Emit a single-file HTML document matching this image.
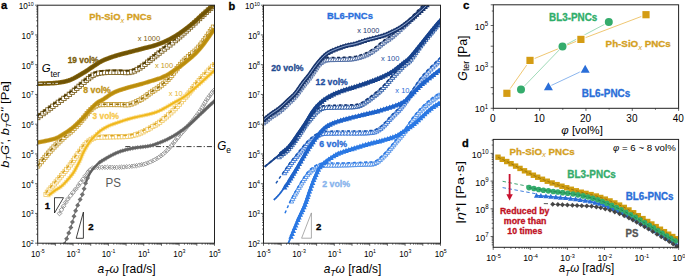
<!DOCTYPE html>
<html><head><meta charset="utf-8"><style>html,body{margin:0;padding:0;background:#fff;}svg{display:block;}</style></head><body>
<svg width="685" height="277" viewBox="0 0 685 277" font-family='"Liberation Sans", sans-serif'>
<rect width="685" height="277" fill="#fff"/>
<defs><clipPath id="clipa"><rect x="37.7" y="5.2" width="176.8" height="238"/></clipPath><clipPath id="clipb"><rect x="263.5" y="5.2" width="177" height="238"/></clipPath><clipPath id="clipd"><rect x="493.2" y="139.4" width="185.4" height="107.9"/></clipPath></defs>
<g clip-path="url(#clipa)">
<path d="M125.3,146.6 H214.5" stroke="#222" stroke-width="0.9" stroke-dasharray="5,2,1.2,2" fill="none"/>
<path d="M89.24,168.6 L91.44,170.8 L89.24,173 L87.04,170.8 Z" fill="#fff" stroke="#7e7e7e" stroke-width="0.75" opacity="1"/>
<path d="M90.78,167.01 L92.98,169.21 L90.78,171.41 L88.58,169.21 Z" fill="#fff" stroke="#7e7e7e" stroke-width="0.75" opacity="1"/>
<path d="M92.62,165.76 L94.82,167.96 L92.62,170.16 L90.42,167.96 Z" fill="#fff" stroke="#7e7e7e" stroke-width="0.75" opacity="1"/>
<path d="M94.93,165.37 L97.13,167.57 L94.93,169.77 L92.73,167.57 Z" fill="#fff" stroke="#7e7e7e" stroke-width="0.75" opacity="1"/>
<path d="M97.43,165.23 L99.63,167.43 L97.43,169.63 L95.23,167.43 Z" fill="#fff" stroke="#7e7e7e" stroke-width="0.75" opacity="1"/>
<path d="M99.68,165.16 L101.88,167.36 L99.68,169.56 L97.48,167.36 Z" fill="#fff" stroke="#7e7e7e" stroke-width="0.75" opacity="1"/>
<path d="M102.24,165.13 L104.44,167.33 L102.24,169.53 L100.04,167.33 Z" fill="#fff" stroke="#7e7e7e" stroke-width="0.75" opacity="1"/>
<path d="M104.9,165.11 L107.1,167.31 L104.9,169.51 L102.7,167.31 Z" fill="#fff" stroke="#7e7e7e" stroke-width="0.75" opacity="1"/>
<path d="M107.43,165.11 L109.63,167.31 L107.43,169.51 L105.23,167.31 Z" fill="#fff" stroke="#7e7e7e" stroke-width="0.75" opacity="1"/>
<path d="M110,165.1 L112.2,167.3 L110,169.5 L107.8,167.3 Z" fill="#fff" stroke="#7e7e7e" stroke-width="0.75" opacity="1"/>
<path d="M112.3,165.15 L114.5,167.35 L112.3,169.55 L110.1,167.35 Z" fill="#fff" stroke="#7e7e7e" stroke-width="0.75" opacity="1"/>
<path d="M114.58,165.28 L116.78,167.48 L114.58,169.68 L112.38,167.48 Z" fill="#fff" stroke="#7e7e7e" stroke-width="0.75" opacity="1"/>
<path d="M116.82,165.26 L119.02,167.46 L116.82,169.66 L114.62,167.46 Z" fill="#fff" stroke="#7e7e7e" stroke-width="0.75" opacity="1"/>
<path d="M119.42,165.11 L121.62,167.31 L119.42,169.51 L117.22,167.31 Z" fill="#fff" stroke="#7e7e7e" stroke-width="0.75" opacity="1"/>
<path d="M121.62,164.97 L123.82,167.17 L121.62,169.37 L119.42,167.17 Z" fill="#fff" stroke="#7e7e7e" stroke-width="0.75" opacity="1"/>
<path d="M124.07,164.79 L126.27,166.99 L124.07,169.19 L121.87,166.99 Z" fill="#fff" stroke="#7e7e7e" stroke-width="0.75" opacity="1"/>
<path d="M126.68,164.58 L128.88,166.78 L126.68,168.98 L124.48,166.78 Z" fill="#fff" stroke="#7e7e7e" stroke-width="0.75" opacity="1"/>
<path d="M129.34,164.34 L131.54,166.54 L129.34,168.74 L127.14,166.54 Z" fill="#fff" stroke="#7e7e7e" stroke-width="0.75" opacity="1"/>
<path d="M131.95,164.06 L134.15,166.26 L131.95,168.46 L129.75,166.26 Z" fill="#fff" stroke="#7e7e7e" stroke-width="0.75" opacity="1"/>
<path d="M134.41,163.76 L136.61,165.96 L134.41,168.16 L132.21,165.96 Z" fill="#fff" stroke="#7e7e7e" stroke-width="0.75" opacity="1"/>
<path d="M136.63,163.41 L138.83,165.61 L136.63,167.81 L134.43,165.61 Z" fill="#fff" stroke="#7e7e7e" stroke-width="0.75" opacity="1"/>
<path d="M139.13,163 L141.33,165.2 L139.13,167.4 L136.93,165.2 Z" fill="#fff" stroke="#7e7e7e" stroke-width="0.75" opacity="1"/>
<path d="M141.46,162.58 L143.66,164.78 L141.46,166.98 L139.26,164.78 Z" fill="#fff" stroke="#7e7e7e" stroke-width="0.75" opacity="1"/>
<path d="M143.68,162.09 L145.88,164.29 L143.68,166.49 L141.48,164.29 Z" fill="#fff" stroke="#7e7e7e" stroke-width="0.75" opacity="1"/>
<path d="M145.88,161.48 L148.08,163.68 L145.88,165.88 L143.68,163.68 Z" fill="#fff" stroke="#7e7e7e" stroke-width="0.75" opacity="1"/>
<path d="M148.12,160.7 L150.32,162.9 L148.12,165.1 L145.92,162.9 Z" fill="#fff" stroke="#7e7e7e" stroke-width="0.75" opacity="1"/>
<path d="M150.48,159.68 L152.68,161.88 L150.48,164.08 L148.28,161.88 Z" fill="#fff" stroke="#7e7e7e" stroke-width="0.75" opacity="1"/>
<path d="M152.93,158.49 L155.13,160.69 L152.93,162.89 L150.73,160.69 Z" fill="#fff" stroke="#7e7e7e" stroke-width="0.75" opacity="1"/>
<path d="M154.92,157.44 L157.12,159.64 L154.92,161.84 L152.72,159.64 Z" fill="#fff" stroke="#7e7e7e" stroke-width="0.75" opacity="1"/>
<path d="M156.93,156.28 L159.13,158.48 L156.93,160.68 L154.73,158.48 Z" fill="#fff" stroke="#7e7e7e" stroke-width="0.75" opacity="1"/>
<path d="M158.95,155 L161.15,157.2 L158.95,159.4 L156.75,157.2 Z" fill="#fff" stroke="#7e7e7e" stroke-width="0.75" opacity="1"/>
<path d="M160.97,153.58 L163.17,155.78 L160.97,157.98 L158.77,155.78 Z" fill="#fff" stroke="#7e7e7e" stroke-width="0.75" opacity="1"/>
<path d="M162.99,152.02 L165.19,154.22 L162.99,156.42 L160.79,154.22 Z" fill="#fff" stroke="#7e7e7e" stroke-width="0.75" opacity="1"/>
<path d="M165,150.3 L167.2,152.5 L165,154.7 L162.8,152.5 Z" fill="#fff" stroke="#7e7e7e" stroke-width="0.75" opacity="1"/>
<path d="M167.06,148.29 L169.26,150.49 L167.06,152.69 L164.86,150.49 Z" fill="#fff" stroke="#7e7e7e" stroke-width="0.75" opacity="1"/>
<path d="M168.67,146.56 L170.87,148.76 L168.67,150.96 L166.47,148.76 Z" fill="#fff" stroke="#7e7e7e" stroke-width="0.75" opacity="1"/>
<path d="M170.3,144.7 L172.5,146.9 L170.3,149.1 L168.1,146.9 Z" fill="#fff" stroke="#7e7e7e" stroke-width="0.75" opacity="1"/>
<path d="M171.93,142.76 L174.13,144.96 L171.93,147.16 L169.73,144.96 Z" fill="#fff" stroke="#7e7e7e" stroke-width="0.75" opacity="1"/>
<path d="M173.53,140.79 L175.73,142.99 L173.53,145.19 L171.33,142.99 Z" fill="#fff" stroke="#7e7e7e" stroke-width="0.75" opacity="1"/>
<path d="M175.09,138.85 L177.29,141.05 L175.09,143.25 L172.89,141.05 Z" fill="#fff" stroke="#7e7e7e" stroke-width="0.75" opacity="1"/>
<path d="M176.57,136.99 L178.77,139.19 L176.57,141.39 L174.37,139.19 Z" fill="#fff" stroke="#7e7e7e" stroke-width="0.75" opacity="1"/>
<path d="M177.96,135.26 L180.16,137.46 L177.96,139.66 L175.76,137.46 Z" fill="#fff" stroke="#7e7e7e" stroke-width="0.75" opacity="1"/>
<path d="M179.62,133.24 L181.82,135.44 L179.62,137.64 L177.42,135.44 Z" fill="#fff" stroke="#7e7e7e" stroke-width="0.75" opacity="1"/>
<path d="M181.33,131.26 L183.53,133.46 L181.33,135.66 L179.13,133.46 Z" fill="#fff" stroke="#7e7e7e" stroke-width="0.75" opacity="1"/>
<path d="M182.93,129.43 L185.13,131.63 L182.93,133.83 L180.73,131.63 Z" fill="#fff" stroke="#7e7e7e" stroke-width="0.75" opacity="1"/>
<path d="M184.39,127.76 L186.59,129.96 L184.39,132.16 L182.19,129.96 Z" fill="#fff" stroke="#7e7e7e" stroke-width="0.75" opacity="1"/>
<path d="M185.93,126.02 L188.13,128.22 L185.93,130.42 L183.73,128.22 Z" fill="#fff" stroke="#7e7e7e" stroke-width="0.75" opacity="1"/>
<path d="M187.47,124.27 L189.67,126.47 L187.47,128.67 L185.27,126.47 Z" fill="#fff" stroke="#7e7e7e" stroke-width="0.75" opacity="1"/>
<path d="M189.13,122.4 L191.33,124.6 L189.13,126.8 L186.93,124.6 Z" fill="#fff" stroke="#7e7e7e" stroke-width="0.75" opacity="1"/>
<path d="M190.8,120.53 L193,122.73 L190.8,124.93 L188.6,122.73 Z" fill="#fff" stroke="#7e7e7e" stroke-width="0.75" opacity="1"/>
<path d="M192.44,118.67 L194.64,120.87 L192.44,123.07 L190.24,120.87 Z" fill="#fff" stroke="#7e7e7e" stroke-width="0.75" opacity="1"/>
<path d="M194,116.8 L196.2,119 L194,121.2 L191.8,119 Z" fill="#fff" stroke="#7e7e7e" stroke-width="0.75" opacity="1"/>
<path d="M195.47,114.98 L197.67,117.18 L195.47,119.38 L193.27,117.18 Z" fill="#fff" stroke="#7e7e7e" stroke-width="0.75" opacity="1"/>
<path d="M196.87,113.18 L199.07,115.38 L196.87,117.58 L194.67,115.38 Z" fill="#fff" stroke="#7e7e7e" stroke-width="0.75" opacity="1"/>
<path d="M198.23,111.35 L200.43,113.55 L198.23,115.75 L196.03,113.55 Z" fill="#fff" stroke="#7e7e7e" stroke-width="0.75" opacity="1"/>
<path d="M199.6,109.39 L201.8,111.59 L199.6,113.79 L197.4,111.59 Z" fill="#fff" stroke="#7e7e7e" stroke-width="0.75" opacity="1"/>
<path d="M200.81,107.54 L203.01,109.74 L200.81,111.94 L198.61,109.74 Z" fill="#fff" stroke="#7e7e7e" stroke-width="0.75" opacity="1"/>
<path d="M202.04,105.5 L204.24,107.7 L202.04,109.9 L199.84,107.7 Z" fill="#fff" stroke="#7e7e7e" stroke-width="0.75" opacity="1"/>
<path d="M203.27,103.38 L205.47,105.58 L203.27,107.78 L201.07,105.58 Z" fill="#fff" stroke="#7e7e7e" stroke-width="0.75" opacity="1"/>
<path d="M204.47,101.3 L206.67,103.5 L204.47,105.7 L202.27,103.5 Z" fill="#fff" stroke="#7e7e7e" stroke-width="0.75" opacity="1"/>
<path d="M205.63,99.38 L207.83,101.58 L205.63,103.78 L203.43,101.58 Z" fill="#fff" stroke="#7e7e7e" stroke-width="0.75" opacity="1"/>
<path d="M206.91,97.43 L209.11,99.63 L206.91,101.83 L204.71,99.63 Z" fill="#fff" stroke="#7e7e7e" stroke-width="0.75" opacity="1"/>
<path d="M208.32,95.42 L210.52,97.62 L208.32,99.82 L206.12,97.62 Z" fill="#fff" stroke="#7e7e7e" stroke-width="0.75" opacity="1"/>
<path d="M209.64,93.62 L211.84,95.82 L209.64,98.02 L207.44,95.82 Z" fill="#fff" stroke="#7e7e7e" stroke-width="0.75" opacity="1"/>
<path d="M211,91.8 L213.2,94 L211,96.2 L208.8,94 Z" fill="#fff" stroke="#7e7e7e" stroke-width="0.75" opacity="1"/>
<path d="M212.41,89.95 L214.61,92.15 L212.41,94.35 L210.21,92.15 Z" fill="#fff" stroke="#7e7e7e" stroke-width="0.75" opacity="1"/>
<path d="M213.86,88.11 L216.06,90.31 L213.86,92.51 L211.66,90.31 Z" fill="#fff" stroke="#7e7e7e" stroke-width="0.75" opacity="1"/>
<path d="M59.5,211.2 L61.8,213.5 L59.5,215.8 L57.2,213.5 Z" fill="#fff" stroke="#7a7a7a" stroke-width="0.8" opacity="1"/>
<path d="M61.45,207.54 L63.75,209.84 L61.45,212.14 L59.15,209.84 Z" fill="#fff" stroke="#7a7a7a" stroke-width="0.8" opacity="1"/>
<path d="M63.48,203.94 L65.78,206.24 L63.48,208.54 L61.18,206.24 Z" fill="#fff" stroke="#7a7a7a" stroke-width="0.8" opacity="1"/>
<path d="M65.65,200.17 L67.95,202.47 L65.65,204.77 L63.35,202.47 Z" fill="#fff" stroke="#7a7a7a" stroke-width="0.8" opacity="1"/>
<path d="M67.93,196.65 L70.23,198.95 L67.93,201.25 L65.63,198.95 Z" fill="#fff" stroke="#7a7a7a" stroke-width="0.8" opacity="1"/>
<path d="M70.44,193.38 L72.74,195.68 L70.44,197.98 L68.14,195.68 Z" fill="#fff" stroke="#7a7a7a" stroke-width="0.8" opacity="1"/>
<path d="M72.95,190.25 L75.25,192.55 L72.95,194.85 L70.65,192.55 Z" fill="#fff" stroke="#7a7a7a" stroke-width="0.8" opacity="1"/>
<path d="M75.57,186.97 L77.87,189.27 L75.57,191.57 L73.27,189.27 Z" fill="#fff" stroke="#7a7a7a" stroke-width="0.8" opacity="1"/>
<path d="M78.25,183.46 L80.55,185.76 L78.25,188.06 L75.95,185.76 Z" fill="#fff" stroke="#7a7a7a" stroke-width="0.8" opacity="1"/>
<path d="M80.6,180.2 L82.9,182.5 L80.6,184.8 L78.3,182.5 Z" fill="#fff" stroke="#7a7a7a" stroke-width="0.8" opacity="1"/>
<path d="M82.94,176.9 L85.24,179.2 L82.94,181.5 L80.64,179.2 Z" fill="#fff" stroke="#7a7a7a" stroke-width="0.8" opacity="1"/>
<path d="M85.52,173.32 L87.82,175.62 L85.52,177.92 L83.22,175.62 Z" fill="#fff" stroke="#7a7a7a" stroke-width="0.8" opacity="1"/>
<path d="M88.12,169.89 L90.42,172.19 L88.12,174.49 L85.82,172.19 Z" fill="#fff" stroke="#7a7a7a" stroke-width="0.8" opacity="1"/>
<path d="M59.5,213.5 L59.6,213.32 L59.7,213.12 L59.82,212.89 L59.95,212.63 L60.09,212.35 L60.26,212.04 L60.44,211.69 L60.64,211.31 L60.87,210.89 L61.12,210.44 L61.39,209.94 L61.7,209.4 L62.04,208.79 L62.43,208.11 L62.85,207.37 L63.29,206.57 L63.76,205.74 L64.25,204.88 L64.75,204.01 L65.25,203.15 L65.75,202.31 L66.25,201.49 L66.73,200.72 L67.2,200 L67.65,199.33 L68.11,198.69 L68.56,198.08 L69.01,197.49 L69.46,196.91 L69.91,196.34 L70.36,195.79 L70.8,195.24 L71.25,194.69 L71.7,194.13 L72.15,193.57 L72.6,193 L73.04,192.44 L73.46,191.91 L73.86,191.4 L74.26,190.9 L74.66,190.41 L75.07,189.9 L75.49,189.37 L75.93,188.82 L76.39,188.22 L76.89,187.58 L77.42,186.87 L78,186.1 L78.64,185.23 L79.36,184.24 L80.12,183.17 L80.93,182.04 L81.76,180.86 L82.61,179.68 L83.45,178.49 L84.27,177.34 L85.06,176.24 L85.81,175.22 L86.49,174.3 L87.1,173.5 L87.64,172.81 L88.12,172.19 L88.55,171.64 L88.94,171.16 L89.31,170.72 L89.64,170.33 L89.97,169.98 L90.28,169.67 L90.59,169.38 L90.91,169.11 L91.24,168.85 L91.6,168.6 L91.94,168.37 L92.23,168.19 L92.48,168.04 L92.72,167.92 L92.95,167.83 L93.21,167.76 L93.49,167.7 L93.83,167.66 L94.23,167.62 L94.71,167.59 L95.3,167.55 L96,167.5 L96.85,167.45 L97.85,167.41 L98.97,167.38 L100.18,167.36 L101.46,167.34 L102.78,167.33 L104.11,167.32 L105.42,167.31 L106.7,167.31 L107.9,167.31 L109.01,167.3 L110,167.3 L110.84,167.3 L111.56,167.32 L112.19,167.35 L112.74,167.38 L113.25,167.41 L113.74,167.44 L114.25,167.47 L114.81,167.49 L115.43,167.49 L116.15,167.48 L117,167.45 L118,167.4 L119.17,167.33 L120.48,167.24 L121.91,167.15 L123.44,167.04 L125.04,166.92 L126.68,166.78 L128.34,166.63 L130,166.47 L131.63,166.3 L133.21,166.11 L134.71,165.91 L136.1,165.7 L137.4,165.49 L138.65,165.28 L139.84,165.07 L141,164.86 L142.13,164.64 L143.24,164.39 L144.34,164.12 L145.44,163.81 L146.55,163.47 L147.67,163.07 L148.82,162.62 L150,162.1 L151.21,161.54 L152.44,160.94 L153.67,160.31 L154.92,159.64 L156.17,158.93 L157.43,158.17 L158.69,157.36 L159.96,156.51 L161.22,155.6 L162.49,154.63 L163.75,153.6 L165,152.5 L166.28,151.29 L167.59,149.93 L168.94,148.46 L170.3,146.9 L171.66,145.29 L173,143.65 L174.32,142.02 L175.59,140.42 L176.81,138.89 L177.96,137.46 L179.03,136.15 L180,135 L180.86,134 L181.63,133.12 L182.31,132.33 L182.93,131.63 L183.48,130.99 L184,130.41 L184.49,129.85 L184.96,129.31 L185.44,128.78 L185.93,128.22 L186.44,127.64 L187,127 L187.59,126.33 L188.18,125.67 L188.77,125 L189.37,124.33 L189.97,123.67 L190.56,123 L191.15,122.33 L191.74,121.67 L192.32,121 L192.89,120.33 L193.45,119.67 L194,119 L194.54,118.34 L195.06,117.69 L195.57,117.05 L196.07,116.41 L196.57,115.77 L197.06,115.12 L197.55,114.48 L198.04,113.81 L198.52,113.14 L199.01,112.45 L199.5,111.74 L200,111 L200.5,110.23 L201.01,109.41 L201.52,108.57 L202.04,107.7 L202.55,106.82 L203.06,105.94 L203.57,105.06 L204.07,104.19 L204.57,103.34 L205.06,102.52 L205.54,101.73 L206,101 L206.46,100.3 L206.91,99.63 L207.36,98.98 L207.8,98.35 L208.23,97.74 L208.66,97.16 L209.07,96.59 L209.48,96.04 L209.88,95.5 L210.27,94.99 L210.64,94.49 L211,94 L211.36,93.52 L211.71,93.05 L212.06,92.59 L212.41,92.15 L212.74,91.72 L213.06,91.31 L213.37,90.93 L213.65,90.57 L213.91,90.25 L214.14,89.96 L214.34,89.71 L214.5,89.5" fill="none" stroke="#9a9a9a" stroke-width="1.2" stroke-dasharray="3,2.5" stroke-opacity="1" stroke-linejoin="round" />
<path d="M64.5,244 L64.81,243.21 L65.2,242.23 L65.65,241.08 L66.17,239.8 L66.72,238.4 L67.31,236.91 L67.92,235.35 L68.53,233.76 L69.14,232.15 L69.73,230.56 L70.29,229 L70.8,227.5 L71.28,226.02 L71.74,224.49 L72.19,222.93 L72.63,221.35 L73.07,219.76 L73.5,218.16 L73.93,216.56 L74.37,214.98 L74.81,213.43 L75.26,211.9 L75.72,210.43 L76.2,209 L76.7,207.62 L77.23,206.26 L77.78,204.93 L78.34,203.63 L78.9,202.35 L79.47,201.09 L80.03,199.86 L80.57,198.65 L81.1,197.46 L81.6,196.29 L82.07,195.13 L82.5,194 L82.89,192.88 L83.25,191.77 L83.58,190.67 L83.89,189.59 L84.18,188.53 L84.46,187.5 L84.72,186.49 L84.97,185.52 L85.23,184.58 L85.48,183.68 L85.73,182.82 L86,182 L86.26,181.24 L86.52,180.53 L86.76,179.88 L87,179.26 L87.23,178.68 L87.47,178.12 L87.7,177.59 L87.94,177.07 L88.19,176.56 L88.45,176.05 L88.72,175.53 L89,175 L89.29,174.47 L89.58,173.95 L89.87,173.45 L90.16,172.95 L90.46,172.46 L90.77,171.98 L91.09,171.5 L91.43,171.01 L91.79,170.53 L92.17,170.03 L92.57,169.52 L93,169 L93.46,168.46 L93.93,167.91 L94.42,167.35 L94.94,166.78 L95.47,166.2 L96.02,165.62 L96.59,165.05 L97.17,164.48 L97.78,163.91 L98.4,163.36 L99.04,162.82 L99.7,162.3 L100.38,161.79 L101.1,161.29 L101.85,160.79 L102.62,160.31 L103.41,159.83 L104.21,159.36 L105.01,158.89 L105.83,158.44 L106.64,157.99 L107.44,157.55 L108.23,157.12 L109,156.7 L109.76,156.29 L110.52,155.88 L111.27,155.48 L112.02,155.09 L112.77,154.7 L113.51,154.33 L114.26,153.96 L115,153.6 L115.75,153.26 L116.5,152.93 L117.25,152.61 L118,152.3 L118.76,152.01 L119.51,151.73 L120.27,151.46 L121.03,151.21 L121.79,150.97 L122.55,150.74 L123.31,150.51 L124.07,150.3 L124.83,150.09 L125.59,149.89 L126.34,149.69 L127.1,149.5 L127.84,149.32 L128.55,149.14 L129.24,148.98 L129.93,148.83 L130.61,148.68 L131.3,148.54 L132.01,148.41 L132.74,148.27 L133.51,148.13 L134.32,147.99 L135.18,147.85 L136.1,147.7 L137.1,147.55 L138.18,147.41 L139.32,147.26 L140.51,147.13 L141.74,146.99 L142.99,146.84 L144.24,146.7 L145.47,146.54 L146.68,146.38 L147.85,146.2 L148.96,146.01 L150,145.8 L150.97,145.58 L151.91,145.34 L152.8,145.09 L153.66,144.83 L154.5,144.56 L155.31,144.28 L156.11,144 L156.89,143.7 L157.67,143.41 L158.44,143.11 L159.22,142.8 L160,142.5 L160.78,142.2 L161.53,141.9 L162.27,141.6 L163,141.29 L163.73,140.98 L164.44,140.67 L165.16,140.34 L165.89,140.01 L166.62,139.66 L167.36,139.29 L168.12,138.91 L168.9,138.5 L169.7,138.08 L170.5,137.64 L171.32,137.2 L172.14,136.74 L172.98,136.27 L173.82,135.78 L174.67,135.28 L175.52,134.76 L176.38,134.22 L177.25,133.67 L178.12,133.09 L179,132.5 L179.89,131.88 L180.79,131.24 L181.71,130.57 L182.64,129.89 L183.57,129.19 L184.51,128.47 L185.44,127.74 L186.37,127 L187.3,126.25 L188.21,125.5 L189.12,124.75 L190,124 L190.87,123.24 L191.74,122.46 L192.61,121.66 L193.46,120.85 L194.31,120.04 L195.16,119.22 L195.99,118.4 L196.81,117.59 L197.63,116.79 L198.43,116.01 L199.22,115.24 L200,114.5 L200.77,113.77 L201.53,113.05 L202.29,112.34 L203.04,111.63 L203.77,110.93 L204.5,110.25 L205.21,109.58 L205.91,108.93 L206.59,108.29 L207.25,107.67 L207.88,107.07 L208.5,106.5 L209.11,105.94 L209.71,105.38 L210.32,104.82 L210.91,104.28 L211.48,103.75 L212.03,103.25 L212.55,102.78 L213.04,102.33 L213.48,101.93 L213.88,101.57 L214.22,101.26 L214.5,101" fill="none" stroke="#5a5a5a" stroke-width="1.0" stroke-opacity="1" stroke-linejoin="round" />
<path d="M99.7,159.9 L102.1,162.3 L99.7,164.7 L97.3,162.3 Z" fill="#8e8e8e" stroke="none" stroke-width="0.6" opacity="1"/>
<path d="M101.82,158.59 L104.22,160.99 L101.82,163.39 L99.42,160.99 Z" fill="#8e8e8e" stroke="none" stroke-width="0.6" opacity="1"/>
<path d="M104.14,157.16 L106.54,159.56 L104.14,161.96 L101.74,159.56 Z" fill="#8e8e8e" stroke="none" stroke-width="0.6" opacity="1"/>
<path d="M106.3,155.85 L108.7,158.25 L106.3,160.65 L103.9,158.25 Z" fill="#8e8e8e" stroke="none" stroke-width="0.6" opacity="1"/>
<path d="M108.69,154.47 L111.09,156.87 L108.69,159.27 L106.29,156.87 Z" fill="#8e8e8e" stroke="none" stroke-width="0.6" opacity="1"/>
<path d="M110.82,153.32 L113.22,155.72 L110.82,158.12 L108.42,155.72 Z" fill="#8e8e8e" stroke="none" stroke-width="0.6" opacity="1"/>
<path d="M113.21,152.07 L115.61,154.47 L113.21,156.87 L110.81,154.47 Z" fill="#8e8e8e" stroke="none" stroke-width="0.6" opacity="1"/>
<path d="M115.6,150.93 L118,153.33 L115.6,155.73 L113.2,153.33 Z" fill="#8e8e8e" stroke="none" stroke-width="0.6" opacity="1"/>
<path d="M118,149.9 L120.4,152.3 L118,154.7 L115.6,152.3 Z" fill="#8e8e8e" stroke="none" stroke-width="0.6" opacity="1"/>
<path d="M120.42,149.01 L122.82,151.41 L120.42,153.81 L118.02,151.41 Z" fill="#8e8e8e" stroke="none" stroke-width="0.6" opacity="1"/>
<path d="M122.85,148.25 L125.25,150.65 L122.85,153.05 L120.45,150.65 Z" fill="#8e8e8e" stroke="none" stroke-width="0.6" opacity="1"/>
<path d="M125.28,147.57 L127.68,149.97 L125.28,152.37 L122.88,149.97 Z" fill="#8e8e8e" stroke="none" stroke-width="0.6" opacity="1"/>
<path d="M127.69,146.95 L130.09,149.35 L127.69,151.75 L125.29,149.35 Z" fill="#8e8e8e" stroke="none" stroke-width="0.6" opacity="1"/>
<path d="M130.2,146.37 L132.6,148.77 L130.2,151.17 L127.8,148.77 Z" fill="#8e8e8e" stroke="none" stroke-width="0.6" opacity="1"/>
<path d="M132.74,145.87 L135.14,148.27 L132.74,150.67 L130.34,148.27 Z" fill="#8e8e8e" stroke="none" stroke-width="0.6" opacity="1"/>
<path d="M135.36,145.42 L137.76,147.82 L135.36,150.22 L132.96,147.82 Z" fill="#8e8e8e" stroke="none" stroke-width="0.6" opacity="1"/>
<path d="M137.74,145.06 L140.14,147.46 L137.74,149.86 L135.34,147.46 Z" fill="#8e8e8e" stroke="none" stroke-width="0.6" opacity="1"/>
<path d="M140.51,144.73 L142.91,147.13 L140.51,149.53 L138.11,147.13 Z" fill="#8e8e8e" stroke="none" stroke-width="0.6" opacity="1"/>
<path d="M142.99,144.44 L145.39,146.84 L142.99,149.24 L140.59,146.84 Z" fill="#8e8e8e" stroke="none" stroke-width="0.6" opacity="1"/>
<path d="M145.47,144.14 L147.87,146.54 L145.47,148.94 L143.07,146.54 Z" fill="#8e8e8e" stroke="none" stroke-width="0.6" opacity="1"/>
<path d="M147.85,143.8 L150.25,146.2 L147.85,148.6 L145.45,146.2 Z" fill="#8e8e8e" stroke="none" stroke-width="0.6" opacity="1"/>
<path d="M150.39,143.31 L152.79,145.71 L150.39,148.11 L147.99,145.71 Z" fill="#8e8e8e" stroke="none" stroke-width="0.6" opacity="1"/>
<path d="M152.97,142.64 L155.37,145.04 L152.97,147.44 L150.57,145.04 Z" fill="#8e8e8e" stroke="none" stroke-width="0.6" opacity="1"/>
<path d="M155.31,141.88 L157.71,144.28 L155.31,146.68 L152.91,144.28 Z" fill="#8e8e8e" stroke="none" stroke-width="0.6" opacity="1"/>
<path d="M157.82,140.95 L160.22,143.35 L157.82,145.75 L155.42,143.35 Z" fill="#8e8e8e" stroke="none" stroke-width="0.6" opacity="1"/>
<path d="M160.31,139.98 L162.71,142.38 L160.31,144.78 L157.91,142.38 Z" fill="#8e8e8e" stroke="none" stroke-width="0.6" opacity="1"/>
<path d="M162.71,139.01 L165.11,141.41 L162.71,143.81 L160.31,141.41 Z" fill="#8e8e8e" stroke="none" stroke-width="0.6" opacity="1"/>
<path d="M165.02,138.01 L167.42,140.41 L165.02,142.81 L162.62,140.41 Z" fill="#8e8e8e" stroke="none" stroke-width="0.6" opacity="1"/>
<path d="M167.36,136.89 L169.76,139.29 L167.36,141.69 L164.96,139.29 Z" fill="#8e8e8e" stroke="none" stroke-width="0.6" opacity="1"/>
<path d="M169.54,135.76 L171.94,138.16 L169.54,140.56 L167.14,138.16 Z" fill="#8e8e8e" stroke="none" stroke-width="0.6" opacity="1"/>
<path d="M171.81,134.53 L174.21,136.93 L171.81,139.33 L169.41,136.93 Z" fill="#8e8e8e" stroke="none" stroke-width="0.6" opacity="1"/>
<path d="M174.16,133.18 L176.56,135.58 L174.16,137.98 L171.76,135.58 Z" fill="#8e8e8e" stroke="none" stroke-width="0.6" opacity="1"/>
<path d="M176.21,131.93 L178.61,134.33 L176.21,136.73 L173.81,134.33 Z" fill="#8e8e8e" stroke="none" stroke-width="0.6" opacity="1"/>
<path d="M178.3,130.58 L180.7,132.98 L178.3,135.38 L175.9,132.98 Z" fill="#8e8e8e" stroke="none" stroke-width="0.6" opacity="1"/>
<path d="M180.43,129.1 L182.83,131.5 L180.43,133.9 L178.03,131.5 Z" fill="#8e8e8e" stroke="none" stroke-width="0.6" opacity="1"/>
<path d="M182.64,127.49 L185.04,129.89 L182.64,132.29 L180.24,129.89 Z" fill="#8e8e8e" stroke="none" stroke-width="0.6" opacity="1"/>
<path d="M184.88,125.78 L187.28,128.18 L184.88,130.58 L182.48,128.18 Z" fill="#8e8e8e" stroke="none" stroke-width="0.6" opacity="1"/>
<path d="M187.11,124 L189.51,126.4 L187.11,128.8 L184.71,126.4 Z" fill="#8e8e8e" stroke="none" stroke-width="0.6" opacity="1"/>
<path d="M189.29,122.2 L191.69,124.6 L189.29,127 L186.89,124.6 Z" fill="#8e8e8e" stroke="none" stroke-width="0.6" opacity="1"/>
<path d="M191.39,120.37 L193.79,122.77 L191.39,125.17 L188.99,122.77 Z" fill="#8e8e8e" stroke="none" stroke-width="0.6" opacity="1"/>
<path d="M193.46,118.45 L195.86,120.85 L193.46,123.25 L191.06,120.85 Z" fill="#8e8e8e" stroke="none" stroke-width="0.6" opacity="1"/>
<path d="M195.49,116.49 L197.89,118.89 L195.49,121.29 L193.09,118.89 Z" fill="#8e8e8e" stroke="none" stroke-width="0.6" opacity="1"/>
<path d="M197.47,114.55 L199.87,116.95 L197.47,119.35 L195.07,116.95 Z" fill="#8e8e8e" stroke="none" stroke-width="0.6" opacity="1"/>
<path d="M199.38,112.69 L201.78,115.09 L199.38,117.49 L196.98,115.09 Z" fill="#8e8e8e" stroke="none" stroke-width="0.6" opacity="1"/>
<path d="M201.23,110.94 L203.63,113.34 L201.23,115.74 L198.83,113.34 Z" fill="#8e8e8e" stroke="none" stroke-width="0.6" opacity="1"/>
<path d="M203.04,109.23 L205.44,111.63 L203.04,114.03 L200.64,111.63 Z" fill="#8e8e8e" stroke="none" stroke-width="0.6" opacity="1"/>
<path d="M204.79,107.58 L207.19,109.98 L204.79,112.38 L202.39,109.98 Z" fill="#8e8e8e" stroke="none" stroke-width="0.6" opacity="1"/>
<path d="M206.72,105.76 L209.12,108.16 L206.72,110.56 L204.32,108.16 Z" fill="#8e8e8e" stroke="none" stroke-width="0.6" opacity="1"/>
<path d="M208.5,104.1 L210.9,106.5 L208.5,108.9 L206.1,106.5 Z" fill="#8e8e8e" stroke="none" stroke-width="0.6" opacity="1"/>
<path d="M210.44,102.31 L212.84,104.71 L210.44,107.11 L208.04,104.71 Z" fill="#8e8e8e" stroke="none" stroke-width="0.6" opacity="1"/>
<path d="M212.24,100.66 L214.64,103.06 L212.24,105.46 L209.84,103.06 Z" fill="#8e8e8e" stroke="none" stroke-width="0.6" opacity="1"/>
<path d="M214.02,99.04 L216.42,101.44 L214.02,103.84 L211.62,101.44 Z" fill="#8e8e8e" stroke="none" stroke-width="0.6" opacity="1"/>
<path d="M86,182 L86.14,181.66 L86.31,181.23 L86.52,180.72 L86.74,180.15 L86.99,179.53 L87.25,178.88 L87.53,178.2 L87.81,177.52 L88.11,176.84 L88.41,176.19 L88.71,175.57 L89,175 L89.29,174.47 L89.58,173.95 L89.87,173.45 L90.16,172.95 L90.46,172.46 L90.77,171.98 L91.09,171.5 L91.43,171.01 L91.79,170.53 L92.17,170.03 L92.57,169.52 L93,169 L93.46,168.46 L93.93,167.91 L94.42,167.35 L94.94,166.78 L95.47,166.2 L96.02,165.62 L96.59,165.05 L97.17,164.48 L97.78,163.91 L98.4,163.36 L99.04,162.82 L99.7,162.3 L100.38,161.79 L101.1,161.29 L101.85,160.79 L102.62,160.31 L103.41,159.83 L104.21,159.36 L105.01,158.89 L105.83,158.44 L106.64,157.99 L107.44,157.55 L108.23,157.12 L109,156.7 L109.76,156.29 L110.52,155.88 L111.27,155.48 L112.02,155.09 L112.77,154.7 L113.51,154.33 L114.26,153.96 L115,153.6 L115.75,153.26 L116.5,152.93 L117.25,152.61 L118,152.3 L118.76,152.01 L119.51,151.73 L120.27,151.46 L121.03,151.21 L121.79,150.97 L122.55,150.74 L123.31,150.51 L124.07,150.3 L124.83,150.09 L125.59,149.89 L126.34,149.69 L127.1,149.5 L127.84,149.32 L128.55,149.14 L129.24,148.98 L129.93,148.83 L130.61,148.68 L131.3,148.54 L132.01,148.41 L132.74,148.27 L133.51,148.13 L134.32,147.99 L135.18,147.85 L136.1,147.7 L137.1,147.55 L138.18,147.41 L139.32,147.26 L140.51,147.13 L141.74,146.99 L142.99,146.84 L144.24,146.7 L145.47,146.54 L146.68,146.38 L147.85,146.2 L148.96,146.01 L150,145.8 L150.97,145.58 L151.91,145.34 L152.8,145.09 L153.66,144.83 L154.5,144.56 L155.31,144.28 L156.11,144 L156.89,143.7 L157.67,143.41 L158.44,143.11 L159.22,142.8 L160,142.5 L160.78,142.2 L161.53,141.9 L162.27,141.6 L163,141.29 L163.73,140.98 L164.44,140.67 L165.16,140.34 L165.89,140.01 L166.62,139.66 L167.36,139.29 L168.12,138.91 L168.9,138.5 L169.7,138.08 L170.5,137.64 L171.32,137.2 L172.14,136.74 L172.98,136.27 L173.82,135.78 L174.67,135.28 L175.52,134.76 L176.38,134.22 L177.25,133.67 L178.12,133.09 L179,132.5 L179.89,131.88 L180.79,131.24 L181.71,130.57 L182.64,129.89 L183.57,129.19 L184.51,128.47 L185.44,127.74 L186.37,127 L187.3,126.25 L188.21,125.5 L189.12,124.75 L190,124 L190.87,123.24 L191.74,122.46 L192.61,121.66 L193.46,120.85 L194.31,120.04 L195.16,119.22 L195.99,118.4 L196.81,117.59 L197.63,116.79 L198.43,116.01 L199.22,115.24 L200,114.5 L200.77,113.77 L201.53,113.05 L202.29,112.34 L203.04,111.63 L203.77,110.93 L204.5,110.25 L205.21,109.58 L205.91,108.93 L206.59,108.29 L207.25,107.67 L207.88,107.07 L208.5,106.5 L209.11,105.94 L209.71,105.38 L210.32,104.82 L210.91,104.28 L211.48,103.75 L212.03,103.25 L212.55,102.78 L213.04,102.33 L213.48,101.93 L213.88,101.57 L214.22,101.26 L214.5,101" fill="none" stroke="#606060" stroke-width="2.4" stroke-opacity="1" stroke-linejoin="round" />
<path d="M64.5,241.5 L67,244 L64.5,246.5 L62,244 Z" fill="#707070" stroke="none" stroke-width="0.6" opacity="1"/>
<path d="M66.61,236.18 L69.11,238.68 L66.61,241.18 L64.11,238.68 Z" fill="#707070" stroke="none" stroke-width="0.6" opacity="1"/>
<path d="M68.78,230.62 L71.28,233.12 L68.78,235.62 L66.28,233.12 Z" fill="#707070" stroke="none" stroke-width="0.6" opacity="1"/>
<path d="M70.8,225 L73.3,227.5 L70.8,230 L68.3,227.5 Z" fill="#707070" stroke="none" stroke-width="0.6" opacity="1"/>
<path d="M72.46,219.49 L74.96,221.99 L72.46,224.49 L69.96,221.99 Z" fill="#707070" stroke="none" stroke-width="0.6" opacity="1"/>
<path d="M74.02,213.74 L76.52,216.24 L74.02,218.74 L71.52,216.24 Z" fill="#707070" stroke="none" stroke-width="0.6" opacity="1"/>
<path d="M75.63,208.22 L78.13,210.72 L75.63,213.22 L73.13,210.72 Z" fill="#707070" stroke="none" stroke-width="0.6" opacity="1"/>
<path d="M77.67,202.7 L80.17,205.2 L77.67,207.7 L75.17,205.2 Z" fill="#707070" stroke="none" stroke-width="0.6" opacity="1"/>
<path d="M80.14,197.12 L82.64,199.62 L80.14,202.12 L77.64,199.62 Z" fill="#707070" stroke="none" stroke-width="0.6" opacity="1"/>
<path d="M82.33,191.95 L84.83,194.45 L82.33,196.95 L79.83,194.45 Z" fill="#707070" stroke="none" stroke-width="0.6" opacity="1"/>
<path d="M84.13,186.24 L86.63,188.74 L84.13,191.24 L81.63,188.74 Z" fill="#707070" stroke="none" stroke-width="0.6" opacity="1"/>
<path d="M85.58,180.83 L88.08,183.33 L85.58,185.83 L83.08,183.33 Z" fill="#707070" stroke="none" stroke-width="0.6" opacity="1"/>
<path d="M87.56,175.41 L90.06,177.91 L87.56,180.41 L85.06,177.91 Z" fill="#707070" stroke="none" stroke-width="0.6" opacity="1"/>
<rect x="43.9" y="192.4" width="4.2" height="4.2" fill="#fff" stroke="#f0c862" stroke-width="0.8" opacity="1"/>
<rect x="45.23" y="190.14" width="4.2" height="4.2" fill="#fff" stroke="#f0c862" stroke-width="0.8" opacity="1"/>
<rect x="47" y="187.96" width="4.2" height="4.2" fill="#fff" stroke="#f0c862" stroke-width="0.8" opacity="1"/>
<rect x="48.81" y="185.86" width="4.2" height="4.2" fill="#fff" stroke="#f0c862" stroke-width="0.8" opacity="1"/>
<rect x="50.56" y="183.84" width="4.2" height="4.2" fill="#fff" stroke="#f0c862" stroke-width="0.8" opacity="1"/>
<rect x="52.36" y="181.78" width="4.2" height="4.2" fill="#fff" stroke="#f0c862" stroke-width="0.8" opacity="1"/>
<rect x="54.08" y="179.77" width="4.2" height="4.2" fill="#fff" stroke="#f0c862" stroke-width="0.8" opacity="1"/>
<rect x="55.81" y="177.74" width="4.2" height="4.2" fill="#fff" stroke="#f0c862" stroke-width="0.8" opacity="1"/>
<rect x="57.6" y="175.63" width="4.2" height="4.2" fill="#fff" stroke="#f0c862" stroke-width="0.8" opacity="1"/>
<rect x="59.38" y="173.52" width="4.2" height="4.2" fill="#fff" stroke="#f0c862" stroke-width="0.8" opacity="1"/>
<rect x="61.08" y="171.48" width="4.2" height="4.2" fill="#fff" stroke="#f0c862" stroke-width="0.8" opacity="1"/>
<rect x="62.9" y="169.3" width="4.2" height="4.2" fill="#fff" stroke="#f0c862" stroke-width="0.8" opacity="1"/>
<rect x="64.58" y="167.28" width="4.2" height="4.2" fill="#fff" stroke="#f0c862" stroke-width="0.8" opacity="1"/>
<rect x="66.37" y="165.11" width="4.2" height="4.2" fill="#fff" stroke="#f0c862" stroke-width="0.8" opacity="1"/>
<rect x="68.17" y="162.85" width="4.2" height="4.2" fill="#fff" stroke="#f0c862" stroke-width="0.8" opacity="1"/>
<rect x="69.79" y="160.65" width="4.2" height="4.2" fill="#fff" stroke="#f0c862" stroke-width="0.8" opacity="1"/>
<rect x="71.24" y="158.38" width="4.2" height="4.2" fill="#fff" stroke="#f0c862" stroke-width="0.8" opacity="1"/>
<rect x="72.7" y="156.18" width="4.2" height="4.2" fill="#fff" stroke="#f0c862" stroke-width="0.8" opacity="1"/>
<rect x="74.29" y="153.94" width="4.2" height="4.2" fill="#fff" stroke="#f0c862" stroke-width="0.8" opacity="1"/>
<rect x="75.95" y="151.62" width="4.2" height="4.2" fill="#fff" stroke="#f0c862" stroke-width="0.8" opacity="1"/>
<rect x="77.72" y="149.18" width="4.2" height="4.2" fill="#fff" stroke="#f0c862" stroke-width="0.8" opacity="1"/>
<rect x="79.46" y="146.86" width="4.2" height="4.2" fill="#fff" stroke="#f0c862" stroke-width="0.8" opacity="1"/>
<rect x="81.23" y="144.62" width="4.2" height="4.2" fill="#fff" stroke="#f0c862" stroke-width="0.8" opacity="1"/>
<rect x="82.96" y="142.64" width="4.2" height="4.2" fill="#fff" stroke="#f0c862" stroke-width="0.8" opacity="1"/>
<rect x="84.9" y="140.67" width="4.2" height="4.2" fill="#fff" stroke="#f0c862" stroke-width="0.8" opacity="1"/>
<rect x="86.9" y="138.9" width="4.2" height="4.2" fill="#fff" stroke="#f0c862" stroke-width="0.8" opacity="1"/>
<rect x="89.08" y="137.27" width="4.2" height="4.2" fill="#fff" stroke="#f0c862" stroke-width="0.8" opacity="1"/>
<rect x="91.54" y="136.03" width="4.2" height="4.2" fill="#fff" stroke="#f0c862" stroke-width="0.8" opacity="1"/>
<rect x="94.11" y="135.36" width="4.2" height="4.2" fill="#fff" stroke="#f0c862" stroke-width="0.8" opacity="1"/>
<rect x="96.93" y="135.15" width="4.2" height="4.2" fill="#fff" stroke="#f0c862" stroke-width="0.8" opacity="1"/>
<rect x="99.94" y="135.01" width="4.2" height="4.2" fill="#fff" stroke="#f0c862" stroke-width="0.8" opacity="1"/>
<rect x="102.95" y="134.92" width="4.2" height="4.2" fill="#fff" stroke="#f0c862" stroke-width="0.8" opacity="1"/>
<rect x="105.71" y="134.85" width="4.2" height="4.2" fill="#fff" stroke="#f0c862" stroke-width="0.8" opacity="1"/>
<rect x="108.48" y="134.79" width="4.2" height="4.2" fill="#fff" stroke="#f0c862" stroke-width="0.8" opacity="1"/>
<rect x="111.56" y="134.73" width="4.2" height="4.2" fill="#fff" stroke="#f0c862" stroke-width="0.8" opacity="1"/>
<rect x="114.51" y="134.67" width="4.2" height="4.2" fill="#fff" stroke="#f0c862" stroke-width="0.8" opacity="1"/>
<rect x="117.4" y="134.63" width="4.2" height="4.2" fill="#fff" stroke="#f0c862" stroke-width="0.8" opacity="1"/>
<rect x="120.28" y="134.6" width="4.2" height="4.2" fill="#fff" stroke="#f0c862" stroke-width="0.8" opacity="1"/>
<rect x="122.9" y="134.5" width="4.2" height="4.2" fill="#fff" stroke="#f0c862" stroke-width="0.8" opacity="1"/>
<rect x="125.67" y="134.31" width="4.2" height="4.2" fill="#fff" stroke="#f0c862" stroke-width="0.8" opacity="1"/>
<rect x="128.3" y="134" width="4.2" height="4.2" fill="#fff" stroke="#f0c862" stroke-width="0.8" opacity="1"/>
<rect x="130.87" y="133.48" width="4.2" height="4.2" fill="#fff" stroke="#f0c862" stroke-width="0.8" opacity="1"/>
<rect x="133.58" y="132.72" width="4.2" height="4.2" fill="#fff" stroke="#f0c862" stroke-width="0.8" opacity="1"/>
<rect x="136.07" y="131.87" width="4.2" height="4.2" fill="#fff" stroke="#f0c862" stroke-width="0.8" opacity="1"/>
<rect x="138.52" y="130.89" width="4.2" height="4.2" fill="#fff" stroke="#f0c862" stroke-width="0.8" opacity="1"/>
<rect x="140.96" y="129.77" width="4.2" height="4.2" fill="#fff" stroke="#f0c862" stroke-width="0.8" opacity="1"/>
<rect x="143.38" y="128.54" width="4.2" height="4.2" fill="#fff" stroke="#f0c862" stroke-width="0.8" opacity="1"/>
<rect x="145.83" y="127.24" width="4.2" height="4.2" fill="#fff" stroke="#f0c862" stroke-width="0.8" opacity="1"/>
<rect x="148.33" y="125.82" width="4.2" height="4.2" fill="#fff" stroke="#f0c862" stroke-width="0.8" opacity="1"/>
<rect x="150.76" y="124.38" width="4.2" height="4.2" fill="#fff" stroke="#f0c862" stroke-width="0.8" opacity="1"/>
<rect x="153.08" y="123.03" width="4.2" height="4.2" fill="#fff" stroke="#f0c862" stroke-width="0.8" opacity="1"/>
<rect x="155.46" y="121.67" width="4.2" height="4.2" fill="#fff" stroke="#f0c862" stroke-width="0.8" opacity="1"/>
<rect x="157.6" y="120.14" width="4.2" height="4.2" fill="#fff" stroke="#f0c862" stroke-width="0.8" opacity="1"/>
<rect x="160" y="118.23" width="4.2" height="4.2" fill="#fff" stroke="#f0c862" stroke-width="0.8" opacity="1"/>
<rect x="162.03" y="116.58" width="4.2" height="4.2" fill="#fff" stroke="#f0c862" stroke-width="0.8" opacity="1"/>
<rect x="164.23" y="114.74" width="4.2" height="4.2" fill="#fff" stroke="#f0c862" stroke-width="0.8" opacity="1"/>
<rect x="166.5" y="112.77" width="4.2" height="4.2" fill="#fff" stroke="#f0c862" stroke-width="0.8" opacity="1"/>
<rect x="168.76" y="110.74" width="4.2" height="4.2" fill="#fff" stroke="#f0c862" stroke-width="0.8" opacity="1"/>
<rect x="170.92" y="108.69" width="4.2" height="4.2" fill="#fff" stroke="#f0c862" stroke-width="0.8" opacity="1"/>
<rect x="173.04" y="106.57" width="4.2" height="4.2" fill="#fff" stroke="#f0c862" stroke-width="0.8" opacity="1"/>
<rect x="175.15" y="104.37" width="4.2" height="4.2" fill="#fff" stroke="#f0c862" stroke-width="0.8" opacity="1"/>
<rect x="177.27" y="102.08" width="4.2" height="4.2" fill="#fff" stroke="#f0c862" stroke-width="0.8" opacity="1"/>
<rect x="179.39" y="99.73" width="4.2" height="4.2" fill="#fff" stroke="#f0c862" stroke-width="0.8" opacity="1"/>
<rect x="181.51" y="97.34" width="4.2" height="4.2" fill="#fff" stroke="#f0c862" stroke-width="0.8" opacity="1"/>
<rect x="183.62" y="94.91" width="4.2" height="4.2" fill="#fff" stroke="#f0c862" stroke-width="0.8" opacity="1"/>
<rect x="185.31" y="92.9" width="4.2" height="4.2" fill="#fff" stroke="#f0c862" stroke-width="0.8" opacity="1"/>
<rect x="186.99" y="90.82" width="4.2" height="4.2" fill="#fff" stroke="#f0c862" stroke-width="0.8" opacity="1"/>
<rect x="188.67" y="88.7" width="4.2" height="4.2" fill="#fff" stroke="#f0c862" stroke-width="0.8" opacity="1"/>
<rect x="190.35" y="86.57" width="4.2" height="4.2" fill="#fff" stroke="#f0c862" stroke-width="0.8" opacity="1"/>
<rect x="192.02" y="84.46" width="4.2" height="4.2" fill="#fff" stroke="#f0c862" stroke-width="0.8" opacity="1"/>
<rect x="193.7" y="82.39" width="4.2" height="4.2" fill="#fff" stroke="#f0c862" stroke-width="0.8" opacity="1"/>
<rect x="195.38" y="80.39" width="4.2" height="4.2" fill="#fff" stroke="#f0c862" stroke-width="0.8" opacity="1"/>
<rect x="197.1" y="78.43" width="4.2" height="4.2" fill="#fff" stroke="#f0c862" stroke-width="0.8" opacity="1"/>
<rect x="198.92" y="76.41" width="4.2" height="4.2" fill="#fff" stroke="#f0c862" stroke-width="0.8" opacity="1"/>
<rect x="200.79" y="74.4" width="4.2" height="4.2" fill="#fff" stroke="#f0c862" stroke-width="0.8" opacity="1"/>
<rect x="202.64" y="72.43" width="4.2" height="4.2" fill="#fff" stroke="#f0c862" stroke-width="0.8" opacity="1"/>
<rect x="204.84" y="70.12" width="4.2" height="4.2" fill="#fff" stroke="#f0c862" stroke-width="0.8" opacity="1"/>
<rect x="206.8" y="68.08" width="4.2" height="4.2" fill="#fff" stroke="#f0c862" stroke-width="0.8" opacity="1"/>
<rect x="208.67" y="66.12" width="4.2" height="4.2" fill="#fff" stroke="#f0c862" stroke-width="0.8" opacity="1"/>
<rect x="210.52" y="64.21" width="4.2" height="4.2" fill="#fff" stroke="#f0c862" stroke-width="0.8" opacity="1"/>
<rect x="212.4" y="62.4" width="4.2" height="4.2" fill="#fff" stroke="#f0c862" stroke-width="0.8" opacity="1"/>
<path d="M46,194.5 L46.07,194.38 L46.14,194.25 L46.2,194.11 L46.27,193.96 L46.35,193.78 L46.45,193.58 L46.58,193.35 L46.74,193.08 L46.95,192.76 L47.21,192.4 L47.52,191.98 L47.9,191.5 L48.35,190.95 L48.87,190.32 L49.46,189.64 L50.09,188.9 L50.77,188.12 L51.48,187.3 L52.22,186.46 L52.96,185.6 L53.71,184.74 L54.46,183.88 L55.19,183.03 L55.9,182.2 L56.6,181.37 L57.32,180.53 L58.06,179.66 L58.8,178.79 L59.55,177.9 L60.29,177.02 L61.04,176.14 L61.77,175.27 L62.48,174.42 L63.18,173.58 L63.85,172.78 L64.5,172 L65.12,171.25 L65.73,170.52 L66.33,169.8 L66.91,169.1 L67.48,168.41 L68.04,167.74 L68.58,167.08 L69.1,166.44 L69.6,165.81 L70.09,165.19 L70.55,164.59 L71,164 L71.41,163.45 L71.76,162.94 L72.08,162.48 L72.37,162.04 L72.64,161.61 L72.9,161.19 L73.17,160.75 L73.46,160.3 L73.77,159.8 L74.12,159.27 L74.53,158.67 L75,158 L75.54,157.24 L76.14,156.4 L76.79,155.48 L77.48,154.52 L78.2,153.52 L78.93,152.5 L79.67,151.48 L80.41,150.48 L81.13,149.52 L81.83,148.6 L82.49,147.76 L83.1,147 L83.67,146.32 L84.22,145.68 L84.75,145.08 L85.26,144.52 L85.76,143.99 L86.24,143.5 L86.72,143.03 L87.18,142.59 L87.64,142.17 L88.09,141.77 L88.55,141.38 L89,141 L89.44,140.64 L89.87,140.3 L90.29,139.99 L90.7,139.7 L91.1,139.43 L91.49,139.17 L91.89,138.94 L92.29,138.73 L92.7,138.53 L93.12,138.34 L93.55,138.16 L94,138 L94.44,137.86 L94.84,137.73 L95.22,137.64 L95.59,137.56 L95.97,137.49 L96.38,137.44 L96.81,137.39 L97.3,137.36 L97.84,137.32 L98.47,137.28 L99.18,137.25 L100,137.2 L100.95,137.15 L102.04,137.11 L103.23,137.07 L104.52,137.03 L105.87,136.99 L107.25,136.96 L108.65,136.93 L110.04,136.9 L111.39,136.88 L112.69,136.85 L113.9,136.83 L115,136.8 L116.02,136.78 L116.99,136.76 L117.92,136.75 L118.81,136.74 L119.67,136.73 L120.5,136.73 L121.3,136.72 L122.07,136.7 L122.83,136.69 L123.56,136.67 L124.29,136.64 L125,136.6 L125.69,136.56 L126.34,136.52 L126.95,136.48 L127.54,136.43 L128.11,136.39 L128.66,136.33 L129.21,136.27 L129.75,136.2 L130.29,136.12 L130.84,136.03 L131.41,135.92 L132,135.8 L132.6,135.66 L133.21,135.52 L133.82,135.36 L134.44,135.19 L135.06,135.01 L135.68,134.82 L136.3,134.62 L136.93,134.41 L137.55,134.19 L138.17,133.97 L138.79,133.74 L139.4,133.5 L140.01,133.25 L140.62,132.99 L141.23,132.73 L141.84,132.45 L142.45,132.16 L143.06,131.87 L143.66,131.57 L144.27,131.26 L144.88,130.95 L145.48,130.64 L146.09,130.32 L146.7,130 L147.31,129.67 L147.93,129.34 L148.56,128.99 L149.18,128.64 L149.81,128.28 L150.43,127.92 L151.05,127.56 L151.66,127.2 L152.27,126.84 L152.86,126.48 L153.44,126.14 L154,125.8 L154.52,125.49 L155,125.22 L155.44,124.99 L155.85,124.76 L156.26,124.54 L156.67,124.31 L157.1,124.06 L157.56,123.77 L158.07,123.43 L158.63,123.03 L159.27,122.56 L160,122 L160.82,121.35 L161.72,120.64 L162.68,119.86 L163.71,119.03 L164.78,118.14 L165.88,117.22 L167.01,116.26 L168.15,115.27 L169.29,114.27 L170.42,113.25 L171.53,112.22 L172.6,111.2 L173.66,110.17 L174.71,109.11 L175.77,108.02 L176.83,106.91 L177.89,105.79 L178.95,104.64 L180.01,103.48 L181.07,102.31 L182.13,101.12 L183.19,99.92 L184.24,98.71 L185.3,97.5 L186.35,96.26 L187.41,95 L188.46,93.7 L189.51,92.39 L190.56,91.07 L191.61,89.74 L192.66,88.41 L193.7,87.09 L194.75,85.78 L195.8,84.49 L196.85,83.23 L197.9,82 L198.98,80.77 L200.1,79.52 L201.25,78.26 L202.42,77 L203.59,75.75 L204.74,74.53 L205.86,73.35 L206.94,72.22 L207.95,71.16 L208.9,70.18 L209.75,69.29 L210.5,68.5 L211.15,67.82 L211.71,67.24 L212.2,66.74 L212.62,66.31 L212.98,65.96 L213.29,65.66 L213.55,65.4 L213.78,65.19 L213.98,65 L214.16,64.83 L214.33,64.66 L214.5,64.5" fill="none" stroke="#dca624" stroke-width="1.5" stroke-dasharray="3.6,2.9" stroke-opacity="1" stroke-linejoin="round" transform="translate(0,-1.2)"/>
<rect x="46.9" y="193.6" width="3.6" height="3.6" fill="#f9da88" stroke="none" stroke-width="0.6" opacity="1"/>
<rect x="48.95" y="191.97" width="3.6" height="3.6" fill="#f9da88" stroke="none" stroke-width="0.6" opacity="1"/>
<rect x="50.84" y="190.49" width="3.6" height="3.6" fill="#f9da88" stroke="none" stroke-width="0.6" opacity="1"/>
<rect x="52.76" y="189.03" width="3.6" height="3.6" fill="#f9da88" stroke="none" stroke-width="0.6" opacity="1"/>
<rect x="54.75" y="187.65" width="3.6" height="3.6" fill="#f9da88" stroke="none" stroke-width="0.6" opacity="1"/>
<rect x="56.81" y="186.38" width="3.6" height="3.6" fill="#f9da88" stroke="none" stroke-width="0.6" opacity="1"/>
<rect x="58.83" y="185.03" width="3.6" height="3.6" fill="#f9da88" stroke="none" stroke-width="0.6" opacity="1"/>
<rect x="60.72" y="183.48" width="3.6" height="3.6" fill="#f9da88" stroke="none" stroke-width="0.6" opacity="1"/>
<rect x="62.48" y="181.76" width="3.6" height="3.6" fill="#f9da88" stroke="none" stroke-width="0.6" opacity="1"/>
<rect x="64.18" y="179.91" width="3.6" height="3.6" fill="#f9da88" stroke="none" stroke-width="0.6" opacity="1"/>
<rect x="65.89" y="177.98" width="3.6" height="3.6" fill="#f9da88" stroke="none" stroke-width="0.6" opacity="1"/>
<rect x="67.49" y="176.14" width="3.6" height="3.6" fill="#f9da88" stroke="none" stroke-width="0.6" opacity="1"/>
<rect x="69.1" y="174.22" width="3.6" height="3.6" fill="#f9da88" stroke="none" stroke-width="0.6" opacity="1"/>
<rect x="70.58" y="172.32" width="3.6" height="3.6" fill="#f9da88" stroke="none" stroke-width="0.6" opacity="1"/>
<rect x="71.97" y="170.35" width="3.6" height="3.6" fill="#f9da88" stroke="none" stroke-width="0.6" opacity="1"/>
<rect x="73.24" y="168.17" width="3.6" height="3.6" fill="#f9da88" stroke="none" stroke-width="0.6" opacity="1"/>
<rect x="74.36" y="166.02" width="3.6" height="3.6" fill="#f9da88" stroke="none" stroke-width="0.6" opacity="1"/>
<rect x="75.6" y="163.74" width="3.6" height="3.6" fill="#f9da88" stroke="none" stroke-width="0.6" opacity="1"/>
<rect x="76.75" y="161.61" width="3.6" height="3.6" fill="#f9da88" stroke="none" stroke-width="0.6" opacity="1"/>
<rect x="77.87" y="159.39" width="3.6" height="3.6" fill="#f9da88" stroke="none" stroke-width="0.6" opacity="1"/>
<rect x="78.93" y="157.01" width="3.6" height="3.6" fill="#f9da88" stroke="none" stroke-width="0.6" opacity="1"/>
<rect x="79.82" y="154.72" width="3.6" height="3.6" fill="#f9da88" stroke="none" stroke-width="0.6" opacity="1"/>
<rect x="80.74" y="152.43" width="3.6" height="3.6" fill="#f9da88" stroke="none" stroke-width="0.6" opacity="1"/>
<rect x="81.78" y="150.24" width="3.6" height="3.6" fill="#f9da88" stroke="none" stroke-width="0.6" opacity="1"/>
<rect x="82.91" y="148.09" width="3.6" height="3.6" fill="#f9da88" stroke="none" stroke-width="0.6" opacity="1"/>
<rect x="84.11" y="146" width="3.6" height="3.6" fill="#f9da88" stroke="none" stroke-width="0.6" opacity="1"/>
<rect x="85.47" y="143.77" width="3.6" height="3.6" fill="#f9da88" stroke="none" stroke-width="0.6" opacity="1"/>
<rect x="86.83" y="141.56" width="3.6" height="3.6" fill="#f9da88" stroke="none" stroke-width="0.6" opacity="1"/>
<rect x="88.23" y="139.57" width="3.6" height="3.6" fill="#f9da88" stroke="none" stroke-width="0.6" opacity="1"/>
<rect x="89.93" y="137.5" width="3.6" height="3.6" fill="#f9da88" stroke="none" stroke-width="0.6" opacity="1"/>
<rect x="91.65" y="135.59" width="3.6" height="3.6" fill="#f9da88" stroke="none" stroke-width="0.6" opacity="1"/>
<rect x="93.31" y="133.83" width="3.6" height="3.6" fill="#f9da88" stroke="none" stroke-width="0.6" opacity="1"/>
<rect x="95.05" y="132.1" width="3.6" height="3.6" fill="#f9da88" stroke="none" stroke-width="0.6" opacity="1"/>
<rect x="97.05" y="130.26" width="3.6" height="3.6" fill="#f9da88" stroke="none" stroke-width="0.6" opacity="1"/>
<rect x="98.96" y="128.75" width="3.6" height="3.6" fill="#f9da88" stroke="none" stroke-width="0.6" opacity="1"/>
<rect x="101.14" y="127.26" width="3.6" height="3.6" fill="#f9da88" stroke="none" stroke-width="0.6" opacity="1"/>
<rect x="103.31" y="125.98" width="3.6" height="3.6" fill="#f9da88" stroke="none" stroke-width="0.6" opacity="1"/>
<rect x="105.44" y="124.84" width="3.6" height="3.6" fill="#f9da88" stroke="none" stroke-width="0.6" opacity="1"/>
<rect x="107.63" y="123.78" width="3.6" height="3.6" fill="#f9da88" stroke="none" stroke-width="0.6" opacity="1"/>
<rect x="109.9" y="122.87" width="3.6" height="3.6" fill="#f9da88" stroke="none" stroke-width="0.6" opacity="1"/>
<rect x="112.27" y="122.03" width="3.6" height="3.6" fill="#f9da88" stroke="none" stroke-width="0.6" opacity="1"/>
<rect x="114.6" y="121.2" width="3.6" height="3.6" fill="#f9da88" stroke="none" stroke-width="0.6" opacity="1"/>
<rect x="116.97" y="120.38" width="3.6" height="3.6" fill="#f9da88" stroke="none" stroke-width="0.6" opacity="1"/>
<rect x="119.53" y="119.52" width="3.6" height="3.6" fill="#f9da88" stroke="none" stroke-width="0.6" opacity="1"/>
<rect x="122.09" y="118.68" width="3.6" height="3.6" fill="#f9da88" stroke="none" stroke-width="0.6" opacity="1"/>
<rect x="124.47" y="117.92" width="3.6" height="3.6" fill="#f9da88" stroke="none" stroke-width="0.6" opacity="1"/>
<rect x="126.83" y="117.22" width="3.6" height="3.6" fill="#f9da88" stroke="none" stroke-width="0.6" opacity="1"/>
<rect x="129.36" y="116.51" width="3.6" height="3.6" fill="#f9da88" stroke="none" stroke-width="0.6" opacity="1"/>
<rect x="131.91" y="115.87" width="3.6" height="3.6" fill="#f9da88" stroke="none" stroke-width="0.6" opacity="1"/>
<rect x="134.3" y="115.3" width="3.6" height="3.6" fill="#f9da88" stroke="none" stroke-width="0.6" opacity="1"/>
<rect x="136.84" y="114.73" width="3.6" height="3.6" fill="#f9da88" stroke="none" stroke-width="0.6" opacity="1"/>
<rect x="139.21" y="114.23" width="3.6" height="3.6" fill="#f9da88" stroke="none" stroke-width="0.6" opacity="1"/>
<rect x="141.69" y="113.71" width="3.6" height="3.6" fill="#f9da88" stroke="none" stroke-width="0.6" opacity="1"/>
<rect x="144.17" y="113.18" width="3.6" height="3.6" fill="#f9da88" stroke="none" stroke-width="0.6" opacity="1"/>
<rect x="146.5" y="112.64" width="3.6" height="3.6" fill="#f9da88" stroke="none" stroke-width="0.6" opacity="1"/>
<rect x="148.97" y="111.99" width="3.6" height="3.6" fill="#f9da88" stroke="none" stroke-width="0.6" opacity="1"/>
<rect x="151.4" y="111.29" width="3.6" height="3.6" fill="#f9da88" stroke="none" stroke-width="0.6" opacity="1"/>
<rect x="153.89" y="110.48" width="3.6" height="3.6" fill="#f9da88" stroke="none" stroke-width="0.6" opacity="1"/>
<rect x="156.43" y="109.49" width="3.6" height="3.6" fill="#f9da88" stroke="none" stroke-width="0.6" opacity="1"/>
<rect x="158.96" y="108.34" width="3.6" height="3.6" fill="#f9da88" stroke="none" stroke-width="0.6" opacity="1"/>
<rect x="161.37" y="107.1" width="3.6" height="3.6" fill="#f9da88" stroke="none" stroke-width="0.6" opacity="1"/>
<rect x="163.47" y="105.94" width="3.6" height="3.6" fill="#f9da88" stroke="none" stroke-width="0.6" opacity="1"/>
<rect x="165.63" y="104.7" width="3.6" height="3.6" fill="#f9da88" stroke="none" stroke-width="0.6" opacity="1"/>
<rect x="167.8" y="103.44" width="3.6" height="3.6" fill="#f9da88" stroke="none" stroke-width="0.6" opacity="1"/>
<rect x="169.95" y="102.19" width="3.6" height="3.6" fill="#f9da88" stroke="none" stroke-width="0.6" opacity="1"/>
<rect x="172.07" y="100.98" width="3.6" height="3.6" fill="#f9da88" stroke="none" stroke-width="0.6" opacity="1"/>
<rect x="174.18" y="99.81" width="3.6" height="3.6" fill="#f9da88" stroke="none" stroke-width="0.6" opacity="1"/>
<rect x="176.3" y="98.64" width="3.6" height="3.6" fill="#f9da88" stroke="none" stroke-width="0.6" opacity="1"/>
<rect x="178.42" y="97.44" width="3.6" height="3.6" fill="#f9da88" stroke="none" stroke-width="0.6" opacity="1"/>
<rect x="180.54" y="96.17" width="3.6" height="3.6" fill="#f9da88" stroke="none" stroke-width="0.6" opacity="1"/>
<rect x="182.66" y="94.79" width="3.6" height="3.6" fill="#f9da88" stroke="none" stroke-width="0.6" opacity="1"/>
<rect x="184.76" y="93.28" width="3.6" height="3.6" fill="#f9da88" stroke="none" stroke-width="0.6" opacity="1"/>
<rect x="186.87" y="91.64" width="3.6" height="3.6" fill="#f9da88" stroke="none" stroke-width="0.6" opacity="1"/>
<rect x="188.97" y="89.91" width="3.6" height="3.6" fill="#f9da88" stroke="none" stroke-width="0.6" opacity="1"/>
<rect x="191.06" y="88.12" width="3.6" height="3.6" fill="#f9da88" stroke="none" stroke-width="0.6" opacity="1"/>
<rect x="193.16" y="86.28" width="3.6" height="3.6" fill="#f9da88" stroke="none" stroke-width="0.6" opacity="1"/>
<rect x="195.26" y="84.44" width="3.6" height="3.6" fill="#f9da88" stroke="none" stroke-width="0.6" opacity="1"/>
<rect x="197.4" y="82.55" width="3.6" height="3.6" fill="#f9da88" stroke="none" stroke-width="0.6" opacity="1"/>
<rect x="199.22" y="80.92" width="3.6" height="3.6" fill="#f9da88" stroke="none" stroke-width="0.6" opacity="1"/>
<rect x="201.09" y="79.22" width="3.6" height="3.6" fill="#f9da88" stroke="none" stroke-width="0.6" opacity="1"/>
<rect x="202.94" y="77.51" width="3.6" height="3.6" fill="#f9da88" stroke="none" stroke-width="0.6" opacity="1"/>
<rect x="204.71" y="75.87" width="3.6" height="3.6" fill="#f9da88" stroke="none" stroke-width="0.6" opacity="1"/>
<rect x="206.73" y="74" width="3.6" height="3.6" fill="#f9da88" stroke="none" stroke-width="0.6" opacity="1"/>
<rect x="208.7" y="72.2" width="3.6" height="3.6" fill="#f9da88" stroke="none" stroke-width="0.6" opacity="1"/>
<rect x="210.66" y="70.45" width="3.6" height="3.6" fill="#f9da88" stroke="none" stroke-width="0.6" opacity="1"/>
<rect x="212.5" y="68.87" width="3.6" height="3.6" fill="#f9da88" stroke="none" stroke-width="0.6" opacity="1"/>
<path d="M48.7,195.4 L49,195.16 L49.38,194.86 L49.82,194.51 L50.32,194.11 L50.86,193.69 L51.43,193.23 L52.03,192.76 L52.64,192.29 L53.25,191.81 L53.85,191.35 L54.44,190.91 L55,190.5 L55.55,190.12 L56.1,189.74 L56.67,189.38 L57.24,189.03 L57.81,188.67 L58.38,188.32 L58.95,187.96 L59.52,187.6 L60.08,187.22 L60.63,186.83 L61.17,186.43 L61.7,186 L62.22,185.56 L62.72,185.1 L63.22,184.63 L63.7,184.15 L64.19,183.66 L64.66,183.16 L65.14,182.65 L65.61,182.13 L66.08,181.61 L66.55,181.08 L67.02,180.54 L67.5,180 L67.99,179.45 L68.48,178.88 L68.99,178.3 L69.49,177.7 L70,177.1 L70.5,176.5 L70.99,175.9 L71.47,175.3 L71.94,174.7 L72.38,174.12 L72.81,173.55 L73.2,173 L73.56,172.47 L73.9,171.95 L74.21,171.44 L74.5,170.94 L74.78,170.45 L75.04,169.97 L75.3,169.48 L75.55,169 L75.8,168.51 L76.06,168.02 L76.32,167.51 L76.6,167 L76.88,166.48 L77.17,165.96 L77.46,165.43 L77.74,164.91 L78.03,164.38 L78.32,163.84 L78.6,163.3 L78.89,162.76 L79.17,162.21 L79.45,161.65 L79.73,161.08 L80,160.5 L80.27,159.91 L80.52,159.3 L80.78,158.68 L81.03,158.06 L81.27,157.42 L81.52,156.78 L81.77,156.14 L82.02,155.5 L82.28,154.86 L82.54,154.23 L82.81,153.61 L83.1,153 L83.4,152.4 L83.7,151.8 L84.01,151.2 L84.33,150.6 L84.65,150.01 L84.97,149.42 L85.31,148.83 L85.64,148.26 L85.98,147.68 L86.32,147.11 L86.66,146.55 L87,146 L87.33,145.46 L87.65,144.94 L87.96,144.44 L88.26,143.95 L88.57,143.46 L88.89,142.97 L89.22,142.48 L89.57,141.99 L89.95,141.47 L90.36,140.94 L90.81,140.38 L91.3,139.8 L91.84,139.18 L92.43,138.51 L93.06,137.82 L93.72,137.1 L94.41,136.37 L95.11,135.63 L95.83,134.9 L96.56,134.18 L97.29,133.48 L98.01,132.81 L98.71,132.18 L99.4,131.6 L100.08,131.06 L100.76,130.55 L101.44,130.06 L102.12,129.59 L102.81,129.15 L103.49,128.72 L104.17,128.32 L104.84,127.93 L105.52,127.55 L106.18,127.19 L106.85,126.84 L107.5,126.5 L108.13,126.18 L108.73,125.89 L109.31,125.63 L109.88,125.38 L110.44,125.15 L111.01,124.93 L111.59,124.71 L112.19,124.5 L112.82,124.27 L113.5,124.03 L114.22,123.78 L115,123.5 L115.85,123.2 L116.77,122.87 L117.75,122.53 L118.77,122.18 L119.83,121.82 L120.9,121.46 L121.98,121.1 L123.05,120.75 L124.1,120.41 L125.12,120.09 L126.09,119.78 L127,119.5 L127.84,119.25 L128.63,119.02 L129.37,118.8 L130.07,118.61 L130.75,118.42 L131.43,118.24 L132.11,118.07 L132.82,117.89 L133.56,117.71 L134.34,117.52 L135.18,117.32 L136.1,117.1 L137.1,116.87 L138.18,116.63 L139.33,116.38 L140.52,116.13 L141.75,115.88 L142.99,115.62 L144.24,115.36 L145.48,115.09 L146.69,114.82 L147.85,114.55 L148.96,114.27 L150,114 L150.96,113.73 L151.86,113.48 L152.71,113.24 L153.53,112.99 L154.31,112.75 L155.08,112.49 L155.85,112.23 L156.62,111.94 L157.41,111.63 L158.23,111.29 L159.09,110.92 L160,110.5 L160.96,110.04 L161.95,109.54 L162.96,109.01 L164,108.44 L165.06,107.86 L166.13,107.25 L167.21,106.63 L168.3,106 L169.38,105.37 L170.46,104.74 L171.54,104.11 L172.6,103.5 L173.66,102.9 L174.71,102.31 L175.77,101.73 L176.83,101.15 L177.89,100.56 L178.95,99.97 L180.01,99.36 L181.07,98.74 L182.13,98.1 L183.19,97.43 L184.24,96.73 L185.3,96 L186.35,95.23 L187.41,94.44 L188.46,93.61 L189.51,92.76 L190.56,91.89 L191.61,91 L192.66,90.1 L193.7,89.19 L194.75,88.27 L195.8,87.34 L196.85,86.42 L197.9,85.5 L198.98,84.55 L200.1,83.55 L201.25,82.51 L202.42,81.44 L203.59,80.37 L204.74,79.31 L205.86,78.28 L206.94,77.28 L207.95,76.34 L208.9,75.47 L209.75,74.68 L210.5,74 L211.15,73.42 L211.71,72.91 L212.2,72.48 L212.62,72.11 L212.98,71.8 L213.29,71.53 L213.55,71.31 L213.78,71.11 L213.98,70.94 L214.16,70.79 L214.33,70.64 L214.5,70.5" fill="none" stroke="#f0b81c" stroke-width="2.0" stroke-opacity="1" stroke-linejoin="round" />
<rect x="35.6" y="163.9" width="4.2" height="4.2" fill="#fff" stroke="#c49a30" stroke-width="0.8" opacity="1"/>
<rect x="37.39" y="161.79" width="4.2" height="4.2" fill="#fff" stroke="#c49a30" stroke-width="0.8" opacity="1"/>
<rect x="39.25" y="159.59" width="4.2" height="4.2" fill="#fff" stroke="#c49a30" stroke-width="0.8" opacity="1"/>
<rect x="41.1" y="157.4" width="4.2" height="4.2" fill="#fff" stroke="#c49a30" stroke-width="0.8" opacity="1"/>
<rect x="42.84" y="155.29" width="4.2" height="4.2" fill="#fff" stroke="#c49a30" stroke-width="0.8" opacity="1"/>
<rect x="44.62" y="153.12" width="4.2" height="4.2" fill="#fff" stroke="#c49a30" stroke-width="0.8" opacity="1"/>
<rect x="46.35" y="151.04" width="4.2" height="4.2" fill="#fff" stroke="#c49a30" stroke-width="0.8" opacity="1"/>
<rect x="48.08" y="149.05" width="4.2" height="4.2" fill="#fff" stroke="#c49a30" stroke-width="0.8" opacity="1"/>
<rect x="49.95" y="146.96" width="4.2" height="4.2" fill="#fff" stroke="#c49a30" stroke-width="0.8" opacity="1"/>
<rect x="51.9" y="144.9" width="4.2" height="4.2" fill="#fff" stroke="#c49a30" stroke-width="0.8" opacity="1"/>
<rect x="53.92" y="142.83" width="4.2" height="4.2" fill="#fff" stroke="#c49a30" stroke-width="0.8" opacity="1"/>
<rect x="55.9" y="140.84" width="4.2" height="4.2" fill="#fff" stroke="#c49a30" stroke-width="0.8" opacity="1"/>
<rect x="57.83" y="138.94" width="4.2" height="4.2" fill="#fff" stroke="#c49a30" stroke-width="0.8" opacity="1"/>
<rect x="59.83" y="137.02" width="4.2" height="4.2" fill="#fff" stroke="#c49a30" stroke-width="0.8" opacity="1"/>
<rect x="61.85" y="135.19" width="4.2" height="4.2" fill="#fff" stroke="#c49a30" stroke-width="0.8" opacity="1"/>
<rect x="63.9" y="133.4" width="4.2" height="4.2" fill="#fff" stroke="#c49a30" stroke-width="0.8" opacity="1"/>
<rect x="66.01" y="131.64" width="4.2" height="4.2" fill="#fff" stroke="#c49a30" stroke-width="0.8" opacity="1"/>
<rect x="68.1" y="129.92" width="4.2" height="4.2" fill="#fff" stroke="#c49a30" stroke-width="0.8" opacity="1"/>
<rect x="70.11" y="128.15" width="4.2" height="4.2" fill="#fff" stroke="#c49a30" stroke-width="0.8" opacity="1"/>
<rect x="72.01" y="126.31" width="4.2" height="4.2" fill="#fff" stroke="#c49a30" stroke-width="0.8" opacity="1"/>
<rect x="74.1" y="124.17" width="4.2" height="4.2" fill="#fff" stroke="#c49a30" stroke-width="0.8" opacity="1"/>
<rect x="75.96" y="122.2" width="4.2" height="4.2" fill="#fff" stroke="#c49a30" stroke-width="0.8" opacity="1"/>
<rect x="77.83" y="120.19" width="4.2" height="4.2" fill="#fff" stroke="#c49a30" stroke-width="0.8" opacity="1"/>
<rect x="79.61" y="118.22" width="4.2" height="4.2" fill="#fff" stroke="#c49a30" stroke-width="0.8" opacity="1"/>
<rect x="81.58" y="115.93" width="4.2" height="4.2" fill="#fff" stroke="#c49a30" stroke-width="0.8" opacity="1"/>
<rect x="83.22" y="113.89" width="4.2" height="4.2" fill="#fff" stroke="#c49a30" stroke-width="0.8" opacity="1"/>
<rect x="85.08" y="111.57" width="4.2" height="4.2" fill="#fff" stroke="#c49a30" stroke-width="0.8" opacity="1"/>
<rect x="86.89" y="109.45" width="4.2" height="4.2" fill="#fff" stroke="#c49a30" stroke-width="0.8" opacity="1"/>
<rect x="88.88" y="107.46" width="4.2" height="4.2" fill="#fff" stroke="#c49a30" stroke-width="0.8" opacity="1"/>
<rect x="90.95" y="105.61" width="4.2" height="4.2" fill="#fff" stroke="#c49a30" stroke-width="0.8" opacity="1"/>
<rect x="93.22" y="104.02" width="4.2" height="4.2" fill="#fff" stroke="#c49a30" stroke-width="0.8" opacity="1"/>
<rect x="95.63" y="102.94" width="4.2" height="4.2" fill="#fff" stroke="#c49a30" stroke-width="0.8" opacity="1"/>
<rect x="98.4" y="102.52" width="4.2" height="4.2" fill="#fff" stroke="#c49a30" stroke-width="0.8" opacity="1"/>
<rect x="101.15" y="102.52" width="4.2" height="4.2" fill="#fff" stroke="#c49a30" stroke-width="0.8" opacity="1"/>
<rect x="104.14" y="102.47" width="4.2" height="4.2" fill="#fff" stroke="#c49a30" stroke-width="0.8" opacity="1"/>
<rect x="107.04" y="102.45" width="4.2" height="4.2" fill="#fff" stroke="#c49a30" stroke-width="0.8" opacity="1"/>
<rect x="109.73" y="102.47" width="4.2" height="4.2" fill="#fff" stroke="#c49a30" stroke-width="0.8" opacity="1"/>
<rect x="112.47" y="102.48" width="4.2" height="4.2" fill="#fff" stroke="#c49a30" stroke-width="0.8" opacity="1"/>
<rect x="115.11" y="102.5" width="4.2" height="4.2" fill="#fff" stroke="#c49a30" stroke-width="0.8" opacity="1"/>
<rect x="117.9" y="102.5" width="4.2" height="4.2" fill="#fff" stroke="#c49a30" stroke-width="0.8" opacity="1"/>
<rect x="120.53" y="102.58" width="4.2" height="4.2" fill="#fff" stroke="#c49a30" stroke-width="0.8" opacity="1"/>
<rect x="123.39" y="102.76" width="4.2" height="4.2" fill="#fff" stroke="#c49a30" stroke-width="0.8" opacity="1"/>
<rect x="126.18" y="102.65" width="4.2" height="4.2" fill="#fff" stroke="#c49a30" stroke-width="0.8" opacity="1"/>
<rect x="129.03" y="101.96" width="4.2" height="4.2" fill="#fff" stroke="#c49a30" stroke-width="0.8" opacity="1"/>
<rect x="131.86" y="100.87" width="4.2" height="4.2" fill="#fff" stroke="#c49a30" stroke-width="0.8" opacity="1"/>
<rect x="134.37" y="99.69" width="4.2" height="4.2" fill="#fff" stroke="#c49a30" stroke-width="0.8" opacity="1"/>
<rect x="136.85" y="98.4" width="4.2" height="4.2" fill="#fff" stroke="#c49a30" stroke-width="0.8" opacity="1"/>
<rect x="139.18" y="97.11" width="4.2" height="4.2" fill="#fff" stroke="#c49a30" stroke-width="0.8" opacity="1"/>
<rect x="141.61" y="95.66" width="4.2" height="4.2" fill="#fff" stroke="#c49a30" stroke-width="0.8" opacity="1"/>
<rect x="143.83" y="94.12" width="4.2" height="4.2" fill="#fff" stroke="#c49a30" stroke-width="0.8" opacity="1"/>
<rect x="145.92" y="92.55" width="4.2" height="4.2" fill="#fff" stroke="#c49a30" stroke-width="0.8" opacity="1"/>
<rect x="148.23" y="90.81" width="4.2" height="4.2" fill="#fff" stroke="#c49a30" stroke-width="0.8" opacity="1"/>
<rect x="150.53" y="89.24" width="4.2" height="4.2" fill="#fff" stroke="#c49a30" stroke-width="0.8" opacity="1"/>
<rect x="152.73" y="87.82" width="4.2" height="4.2" fill="#fff" stroke="#c49a30" stroke-width="0.8" opacity="1"/>
<rect x="155.15" y="86.23" width="4.2" height="4.2" fill="#fff" stroke="#c49a30" stroke-width="0.8" opacity="1"/>
<rect x="157.3" y="84.7" width="4.2" height="4.2" fill="#fff" stroke="#c49a30" stroke-width="0.8" opacity="1"/>
<rect x="159.5" y="83.01" width="4.2" height="4.2" fill="#fff" stroke="#c49a30" stroke-width="0.8" opacity="1"/>
<rect x="161.71" y="81.23" width="4.2" height="4.2" fill="#fff" stroke="#c49a30" stroke-width="0.8" opacity="1"/>
<rect x="163.86" y="79.36" width="4.2" height="4.2" fill="#fff" stroke="#c49a30" stroke-width="0.8" opacity="1"/>
<rect x="165.89" y="77.4" width="4.2" height="4.2" fill="#fff" stroke="#c49a30" stroke-width="0.8" opacity="1"/>
<rect x="167.77" y="75.36" width="4.2" height="4.2" fill="#fff" stroke="#c49a30" stroke-width="0.8" opacity="1"/>
<rect x="169.57" y="73.23" width="4.2" height="4.2" fill="#fff" stroke="#c49a30" stroke-width="0.8" opacity="1"/>
<rect x="171.37" y="71.03" width="4.2" height="4.2" fill="#fff" stroke="#c49a30" stroke-width="0.8" opacity="1"/>
<rect x="173.25" y="68.73" width="4.2" height="4.2" fill="#fff" stroke="#c49a30" stroke-width="0.8" opacity="1"/>
<rect x="174.95" y="66.59" width="4.2" height="4.2" fill="#fff" stroke="#c49a30" stroke-width="0.8" opacity="1"/>
<rect x="176.67" y="64.4" width="4.2" height="4.2" fill="#fff" stroke="#c49a30" stroke-width="0.8" opacity="1"/>
<rect x="178.38" y="62.3" width="4.2" height="4.2" fill="#fff" stroke="#c49a30" stroke-width="0.8" opacity="1"/>
<rect x="180.32" y="60.11" width="4.2" height="4.2" fill="#fff" stroke="#c49a30" stroke-width="0.8" opacity="1"/>
<rect x="182.25" y="58.14" width="4.2" height="4.2" fill="#fff" stroke="#c49a30" stroke-width="0.8" opacity="1"/>
<rect x="184.16" y="56.3" width="4.2" height="4.2" fill="#fff" stroke="#c49a30" stroke-width="0.8" opacity="1"/>
<rect x="186.32" y="54.33" width="4.2" height="4.2" fill="#fff" stroke="#c49a30" stroke-width="0.8" opacity="1"/>
<rect x="188.5" y="52.48" width="4.2" height="4.2" fill="#fff" stroke="#c49a30" stroke-width="0.8" opacity="1"/>
<rect x="190.69" y="50.8" width="4.2" height="4.2" fill="#fff" stroke="#c49a30" stroke-width="0.8" opacity="1"/>
<rect x="192.85" y="49.07" width="4.2" height="4.2" fill="#fff" stroke="#c49a30" stroke-width="0.8" opacity="1"/>
<rect x="194.9" y="47.07" width="4.2" height="4.2" fill="#fff" stroke="#c49a30" stroke-width="0.8" opacity="1"/>
<rect x="196.66" y="45.08" width="4.2" height="4.2" fill="#fff" stroke="#c49a30" stroke-width="0.8" opacity="1"/>
<rect x="198.36" y="42.99" width="4.2" height="4.2" fill="#fff" stroke="#c49a30" stroke-width="0.8" opacity="1"/>
<rect x="200" y="40.91" width="4.2" height="4.2" fill="#fff" stroke="#c49a30" stroke-width="0.8" opacity="1"/>
<rect x="201.72" y="38.68" width="4.2" height="4.2" fill="#fff" stroke="#c49a30" stroke-width="0.8" opacity="1"/>
<rect x="203.32" y="36.53" width="4.2" height="4.2" fill="#fff" stroke="#c49a30" stroke-width="0.8" opacity="1"/>
<rect x="204.94" y="34.26" width="4.2" height="4.2" fill="#fff" stroke="#c49a30" stroke-width="0.8" opacity="1"/>
<rect x="206.54" y="31.99" width="4.2" height="4.2" fill="#fff" stroke="#c49a30" stroke-width="0.8" opacity="1"/>
<rect x="208.23" y="29.53" width="4.2" height="4.2" fill="#fff" stroke="#c49a30" stroke-width="0.8" opacity="1"/>
<rect x="209.74" y="27.32" width="4.2" height="4.2" fill="#fff" stroke="#c49a30" stroke-width="0.8" opacity="1"/>
<rect x="211.31" y="25.01" width="4.2" height="4.2" fill="#fff" stroke="#c49a30" stroke-width="0.8" opacity="1"/>
<path d="M37.7,166 L37.96,165.69 L38.29,165.3 L38.68,164.84 L39.11,164.33 L39.59,163.78 L40.09,163.19 L40.61,162.57 L41.14,161.94 L41.68,161.31 L42.2,160.69 L42.71,160.08 L43.2,159.5 L43.68,158.93 L44.16,158.34 L44.65,157.75 L45.14,157.15 L45.64,156.54 L46.13,155.94 L46.62,155.34 L47.11,154.74 L47.6,154.16 L48.08,153.59 L48.54,153.03 L49,152.5 L49.44,151.99 L49.86,151.51 L50.26,151.05 L50.65,150.61 L51.04,150.18 L51.42,149.75 L51.82,149.32 L52.21,148.89 L52.63,148.45 L53.06,147.99 L53.52,147.51 L54,147 L54.52,146.46 L55.07,145.89 L55.66,145.3 L56.26,144.69 L56.88,144.06 L57.5,143.44 L58.12,142.82 L58.74,142.2 L59.34,141.61 L59.93,141.04 L60.48,140.5 L61,140 L61.48,139.54 L61.93,139.12 L62.34,138.73 L62.74,138.37 L63.12,138.02 L63.5,137.69 L63.88,137.35 L64.26,137.02 L64.66,136.67 L65.07,136.31 L65.52,135.92 L66,135.5 L66.51,135.06 L67.03,134.63 L67.56,134.19 L68.11,133.74 L68.67,133.28 L69.25,132.81 L69.84,132.32 L70.44,131.81 L71.06,131.28 L71.69,130.72 L72.34,130.13 L73,129.5 L73.68,128.83 L74.4,128.12 L75.13,127.37 L75.89,126.59 L76.66,125.79 L77.44,124.97 L78.22,124.14 L79,123.3 L79.77,122.46 L80.53,121.62 L81.28,120.8 L82,120 L82.7,119.19 L83.4,118.37 L84.09,117.52 L84.78,116.67 L85.45,115.82 L86.12,114.98 L86.79,114.15 L87.44,113.35 L88.09,112.57 L88.74,111.83 L89.37,111.14 L90,110.5 L90.62,109.9 L91.21,109.33 L91.8,108.79 L92.37,108.28 L92.94,107.8 L93.5,107.35 L94.06,106.93 L94.63,106.54 L95.2,106.18 L95.79,105.86 L96.38,105.56 L97,105.3 L97.61,105.08 L98.19,104.91 L98.77,104.79 L99.33,104.71 L99.91,104.65 L100.5,104.62 L101.12,104.61 L101.78,104.61 L102.48,104.62 L103.25,104.62 L104.09,104.62 L105,104.6 L106.02,104.58 L107.15,104.56 L108.38,104.56 L109.67,104.56 L111.01,104.56 L112.38,104.57 L113.75,104.58 L115.11,104.59 L116.44,104.6 L117.71,104.6 L118.9,104.6 L120,104.6 L121,104.61 L121.93,104.64 L122.8,104.69 L123.63,104.75 L124.42,104.8 L125.19,104.85 L125.94,104.88 L126.7,104.87 L127.48,104.83 L128.28,104.75 L129.11,104.61 L130,104.4 L130.94,104.13 L131.92,103.79 L132.93,103.4 L133.96,102.97 L135,102.5 L136.05,101.99 L137.1,101.47 L138.13,100.93 L139.15,100.39 L140.14,99.85 L141.09,99.32 L142,98.8 L142.87,98.29 L143.71,97.76 L144.52,97.21 L145.31,96.66 L146.08,96.1 L146.84,95.54 L147.58,94.98 L148.31,94.43 L149.04,93.88 L149.76,93.34 L150.48,92.81 L151.2,92.3 L151.92,91.81 L152.63,91.34 L153.32,90.89 L154.01,90.44 L154.69,90 L155.37,89.57 L156.04,89.13 L156.71,88.69 L157.38,88.24 L158.05,87.78 L158.72,87.3 L159.4,86.8 L160.08,86.28 L160.77,85.76 L161.46,85.22 L162.15,84.67 L162.84,84.12 L163.53,83.56 L164.22,82.98 L164.89,82.4 L165.56,81.81 L166.22,81.22 L166.87,80.61 L167.5,80 L168.12,79.38 L168.71,78.75 L169.3,78.11 L169.87,77.46 L170.44,76.8 L171,76.14 L171.56,75.46 L172.11,74.79 L172.68,74.1 L173.24,73.41 L173.81,72.71 L174.4,72 L174.99,71.28 L175.59,70.53 L176.2,69.77 L176.81,69 L177.42,68.22 L178.03,67.44 L178.65,66.66 L179.26,65.89 L179.87,65.13 L180.48,64.4 L181.09,63.68 L181.7,63 L182.3,62.34 L182.91,61.7 L183.51,61.08 L184.11,60.48 L184.71,59.89 L185.31,59.31 L185.91,58.74 L186.5,58.18 L187.1,57.63 L187.7,57.08 L188.3,56.54 L188.9,56 L189.5,55.48 L190.11,54.97 L190.72,54.49 L191.33,54.01 L191.94,53.55 L192.55,53.09 L193.16,52.62 L193.76,52.15 L194.36,51.67 L194.95,51.17 L195.53,50.65 L196.1,50.1 L196.66,49.53 L197.22,48.93 L197.78,48.32 L198.33,47.69 L198.87,47.05 L199.41,46.4 L199.94,45.75 L200.46,45.09 L200.98,44.43 L201.49,43.78 L202,43.14 L202.5,42.5 L202.99,41.88 L203.46,41.27 L203.91,40.66 L204.36,40.07 L204.8,39.47 L205.24,38.87 L205.68,38.26 L206.13,37.64 L206.58,37.01 L207.04,36.36 L207.51,35.69 L208,35 L208.53,34.25 L209.1,33.42 L209.71,32.54 L210.33,31.63 L210.97,30.7 L211.59,29.78 L212.2,28.89 L212.78,28.04 L213.31,27.25 L213.78,26.56 L214.18,25.97 L214.5,25.5" fill="none" stroke="#9a7410" stroke-width="1.6" stroke-dasharray="3.6,2.9" stroke-opacity="1" stroke-linejoin="round" transform="translate(0,-0.3)"/>
<path d="M37.7,142.5 L38.51,142.33 L39.56,142.12 L40.8,141.87 L42.2,141.6 L43.71,141.3 L45.29,140.98 L46.9,140.65 L48.5,140.3 L50.06,139.95 L51.52,139.59 L52.85,139.24 L54,138.9 L55,138.56 L55.91,138.23 L56.74,137.89 L57.5,137.56 L58.22,137.21 L58.89,136.86 L59.55,136.49 L60.2,136.11 L60.85,135.71 L61.53,135.3 L62.24,134.86 L63,134.4 L63.8,133.91 L64.62,133.41 L65.45,132.88 L66.3,132.34 L67.15,131.78 L68,131.2 L68.85,130.61 L69.7,130.01 L70.55,129.39 L71.38,128.77 L72.2,128.14 L73,127.5 L73.79,126.85 L74.57,126.18 L75.34,125.5 L76.11,124.8 L76.87,124.1 L77.62,123.38 L78.37,122.66 L79.11,121.93 L79.84,121.2 L80.57,120.46 L81.29,119.73 L82,119 L82.7,118.26 L83.4,117.51 L84.09,116.74 L84.78,115.96 L85.45,115.18 L86.12,114.41 L86.79,113.63 L87.44,112.87 L88.09,112.12 L88.74,111.39 L89.37,110.68 L90,110 L90.62,109.34 L91.24,108.68 L91.84,108.03 L92.44,107.39 L93.04,106.76 L93.62,106.16 L94.2,105.57 L94.78,105 L95.34,104.46 L95.9,103.94 L96.45,103.45 L97,103 L97.52,102.6 L98,102.25 L98.45,101.96 L98.89,101.7 L99.32,101.47 L99.75,101.25 L100.2,101.03 L100.67,100.8 L101.17,100.54 L101.72,100.25 L102.33,99.9 L103,99.5 L103.74,99.03 L104.53,98.5 L105.38,97.93 L106.26,97.33 L107.18,96.69 L108.12,96.05 L109.09,95.4 L110.07,94.76 L111.06,94.14 L112.05,93.55 L113.03,93 L114,92.5 L114.95,92.05 L115.9,91.63 L116.84,91.24 L117.78,90.87 L118.73,90.52 L119.69,90.19 L120.67,89.86 L121.67,89.54 L122.7,89.22 L123.76,88.89 L124.86,88.55 L126,88.2 L127.21,87.83 L128.51,87.45 L129.88,87.07 L131.29,86.68 L132.73,86.29 L134.17,85.91 L135.61,85.52 L137.02,85.15 L138.38,84.79 L139.68,84.44 L140.89,84.11 L142,83.8 L143.01,83.51 L143.93,83.24 L144.79,82.99 L145.59,82.75 L146.34,82.52 L147.05,82.3 L147.74,82.09 L148.41,81.87 L149.09,81.66 L149.77,81.45 L150.47,81.23 L151.2,81 L151.95,80.77 L152.7,80.54 L153.46,80.31 L154.21,80.09 L154.96,79.86 L155.71,79.64 L156.45,79.41 L157.18,79.18 L157.9,78.94 L158.61,78.7 L159.31,78.45 L160,78.2 L160.67,77.94 L161.33,77.68 L161.98,77.42 L162.62,77.15 L163.25,76.88 L163.87,76.61 L164.48,76.33 L165.09,76.04 L165.7,75.74 L166.3,75.44 L166.9,75.12 L167.5,74.8 L168.09,74.47 L168.68,74.12 L169.26,73.77 L169.83,73.4 L170.4,73.03 L170.96,72.66 L171.53,72.27 L172.09,71.89 L172.66,71.49 L173.23,71.1 L173.81,70.7 L174.4,70.3 L174.99,69.9 L175.59,69.49 L176.2,69.08 L176.81,68.67 L177.42,68.25 L178.03,67.83 L178.65,67.41 L179.26,66.97 L179.87,66.54 L180.48,66.1 L181.09,65.65 L181.7,65.2 L182.3,64.74 L182.91,64.28 L183.51,63.82 L184.11,63.34 L184.71,62.87 L185.31,62.39 L185.91,61.9 L186.5,61.41 L187.1,60.92 L187.7,60.42 L188.3,59.91 L188.9,59.4 L189.5,58.89 L190.11,58.37 L190.72,57.85 L191.33,57.32 L191.94,56.79 L192.55,56.25 L193.16,55.71 L193.76,55.16 L194.36,54.6 L194.95,54.04 L195.53,53.48 L196.1,52.9 L196.66,52.32 L197.22,51.72 L197.78,51.12 L198.33,50.5 L198.87,49.89 L199.41,49.26 L199.94,48.64 L200.46,48.01 L200.98,47.38 L201.49,46.75 L202,46.12 L202.5,45.5 L202.99,44.88 L203.46,44.28 L203.91,43.68 L204.36,43.08 L204.8,42.48 L205.24,41.88 L205.68,41.27 L206.13,40.65 L206.58,40.02 L207.04,39.37 L207.51,38.7 L208,38 L208.53,37.25 L209.1,36.42 L209.71,35.54 L210.33,34.63 L210.97,33.7 L211.59,32.78 L212.2,31.89 L212.78,31.04 L213.31,30.25 L213.78,29.56 L214.18,28.97 L214.5,28.5" fill="none" stroke="#cfa232" stroke-width="4.4" stroke-opacity="1" stroke-linejoin="round" />
<path d="M37.7,142.5 L38.51,142.33 L39.56,142.12 L40.8,141.87 L42.2,141.6 L43.71,141.3 L45.29,140.98 L46.9,140.65 L48.5,140.3 L50.06,139.95 L51.52,139.59 L52.85,139.24 L54,138.9 L55,138.56 L55.91,138.23 L56.74,137.89 L57.5,137.56 L58.22,137.21 L58.89,136.86 L59.55,136.49 L60.2,136.11 L60.85,135.71 L61.53,135.3 L62.24,134.86 L63,134.4 L63.8,133.91 L64.62,133.41 L65.45,132.88 L66.3,132.34 L67.15,131.78 L68,131.2 L68.85,130.61 L69.7,130.01 L70.55,129.39 L71.38,128.77 L72.2,128.14 L73,127.5 L73.79,126.85 L74.57,126.18 L75.34,125.5 L76.11,124.8 L76.87,124.1 L77.62,123.38 L78.37,122.66 L79.11,121.93 L79.84,121.2 L80.57,120.46 L81.29,119.73 L82,119 L82.7,118.26 L83.4,117.51 L84.09,116.74 L84.78,115.96 L85.45,115.18 L86.12,114.41 L86.79,113.63 L87.44,112.87 L88.09,112.12 L88.74,111.39 L89.37,110.68 L90,110 L90.62,109.34 L91.24,108.68 L91.84,108.03 L92.44,107.39 L93.04,106.76 L93.62,106.16 L94.2,105.57 L94.78,105 L95.34,104.46 L95.9,103.94 L96.45,103.45 L97,103 L97.52,102.6 L98,102.25 L98.45,101.96 L98.89,101.7 L99.32,101.47 L99.75,101.25 L100.2,101.03 L100.67,100.8 L101.17,100.54 L101.72,100.25 L102.33,99.9 L103,99.5 L103.74,99.03 L104.53,98.5 L105.38,97.93 L106.26,97.33 L107.18,96.69 L108.12,96.05 L109.09,95.4 L110.07,94.76 L111.06,94.14 L112.05,93.55 L113.03,93 L114,92.5 L114.95,92.05 L115.9,91.63 L116.84,91.24 L117.78,90.87 L118.73,90.52 L119.69,90.19 L120.67,89.86 L121.67,89.54 L122.7,89.22 L123.76,88.89 L124.86,88.55 L126,88.2 L127.21,87.83 L128.51,87.45 L129.88,87.07 L131.29,86.68 L132.73,86.29 L134.17,85.91 L135.61,85.52 L137.02,85.15 L138.38,84.79 L139.68,84.44 L140.89,84.11 L142,83.8 L143.01,83.51 L143.93,83.24 L144.79,82.99 L145.59,82.75 L146.34,82.52 L147.05,82.3 L147.74,82.09 L148.41,81.87 L149.09,81.66 L149.77,81.45 L150.47,81.23 L151.2,81 L151.95,80.77 L152.7,80.54 L153.46,80.31 L154.21,80.09 L154.96,79.86 L155.71,79.64 L156.45,79.41 L157.18,79.18 L157.9,78.94 L158.61,78.7 L159.31,78.45 L160,78.2 L160.67,77.94 L161.33,77.68 L161.98,77.42 L162.62,77.15 L163.25,76.88 L163.87,76.61 L164.48,76.33 L165.09,76.04 L165.7,75.74 L166.3,75.44 L166.9,75.12 L167.5,74.8 L168.09,74.47 L168.68,74.12 L169.26,73.77 L169.83,73.4 L170.4,73.03 L170.96,72.66 L171.53,72.27 L172.09,71.89 L172.66,71.49 L173.23,71.1 L173.81,70.7 L174.4,70.3 L174.99,69.9 L175.59,69.49 L176.2,69.08 L176.81,68.67 L177.42,68.25 L178.03,67.83 L178.65,67.41 L179.26,66.97 L179.87,66.54 L180.48,66.1 L181.09,65.65 L181.7,65.2 L182.3,64.74 L182.91,64.28 L183.51,63.82 L184.11,63.34 L184.71,62.87 L185.31,62.39 L185.91,61.9 L186.5,61.41 L187.1,60.92 L187.7,60.42 L188.3,59.91 L188.9,59.4 L189.5,58.89 L190.11,58.37 L190.72,57.85 L191.33,57.32 L191.94,56.79 L192.55,56.25 L193.16,55.71 L193.76,55.16 L194.36,54.6 L194.95,54.04 L195.53,53.48 L196.1,52.9 L196.66,52.32 L197.22,51.72 L197.78,51.12 L198.33,50.5 L198.87,49.89 L199.41,49.26 L199.94,48.64 L200.46,48.01 L200.98,47.38 L201.49,46.75 L202,46.12 L202.5,45.5 L202.99,44.88 L203.46,44.28 L203.91,43.68 L204.36,43.08 L204.8,42.48 L205.24,41.88 L205.68,41.27 L206.13,40.65 L206.58,40.02 L207.04,39.37 L207.51,38.7 L208,38 L208.53,37.25 L209.1,36.42 L209.71,35.54 L210.33,34.63 L210.97,33.7 L211.59,32.78 L212.2,31.89 L212.78,31.04 L213.31,30.25 L213.78,29.56 L214.18,28.97 L214.5,28.5" fill="none" stroke="#b98d0c" stroke-width="2.8" stroke-opacity="1" stroke-linejoin="round" />
<rect x="35.5" y="115.3" width="4.4" height="4.4" fill="#fff" stroke="#7a5e1c" stroke-width="0.85" opacity="1"/>
<rect x="38.18" y="113.32" width="4.4" height="4.4" fill="#fff" stroke="#7a5e1c" stroke-width="0.85" opacity="1"/>
<rect x="40.84" y="111.36" width="4.4" height="4.4" fill="#fff" stroke="#7a5e1c" stroke-width="0.85" opacity="1"/>
<rect x="43.23" y="109.6" width="4.4" height="4.4" fill="#fff" stroke="#7a5e1c" stroke-width="0.85" opacity="1"/>
<rect x="45.75" y="107.74" width="4.4" height="4.4" fill="#fff" stroke="#7a5e1c" stroke-width="0.85" opacity="1"/>
<rect x="48.27" y="105.89" width="4.4" height="4.4" fill="#fff" stroke="#7a5e1c" stroke-width="0.85" opacity="1"/>
<rect x="50.67" y="104.12" width="4.4" height="4.4" fill="#fff" stroke="#7a5e1c" stroke-width="0.85" opacity="1"/>
<rect x="53.44" y="102.11" width="4.4" height="4.4" fill="#fff" stroke="#7a5e1c" stroke-width="0.85" opacity="1"/>
<rect x="56.19" y="100.14" width="4.4" height="4.4" fill="#fff" stroke="#7a5e1c" stroke-width="0.85" opacity="1"/>
<rect x="58.95" y="98.18" width="4.4" height="4.4" fill="#fff" stroke="#7a5e1c" stroke-width="0.85" opacity="1"/>
<rect x="61.71" y="96.21" width="4.4" height="4.4" fill="#fff" stroke="#7a5e1c" stroke-width="0.85" opacity="1"/>
<rect x="64.47" y="94.2" width="4.4" height="4.4" fill="#fff" stroke="#7a5e1c" stroke-width="0.85" opacity="1"/>
<rect x="67.21" y="92.14" width="4.4" height="4.4" fill="#fff" stroke="#7a5e1c" stroke-width="0.85" opacity="1"/>
<rect x="69.97" y="89.98" width="4.4" height="4.4" fill="#fff" stroke="#7a5e1c" stroke-width="0.85" opacity="1"/>
<rect x="72.27" y="88.09" width="4.4" height="4.4" fill="#fff" stroke="#7a5e1c" stroke-width="0.85" opacity="1"/>
<rect x="74.6" y="86.13" width="4.4" height="4.4" fill="#fff" stroke="#7a5e1c" stroke-width="0.85" opacity="1"/>
<rect x="76.91" y="84.16" width="4.4" height="4.4" fill="#fff" stroke="#7a5e1c" stroke-width="0.85" opacity="1"/>
<rect x="79.15" y="82.24" width="4.4" height="4.4" fill="#fff" stroke="#7a5e1c" stroke-width="0.85" opacity="1"/>
<rect x="81.77" y="80.02" width="4.4" height="4.4" fill="#fff" stroke="#7a5e1c" stroke-width="0.85" opacity="1"/>
<rect x="84.08" y="78.13" width="4.4" height="4.4" fill="#fff" stroke="#7a5e1c" stroke-width="0.85" opacity="1"/>
<rect x="86.32" y="76.35" width="4.4" height="4.4" fill="#fff" stroke="#7a5e1c" stroke-width="0.85" opacity="1"/>
<rect x="88.56" y="74.58" width="4.4" height="4.4" fill="#fff" stroke="#7a5e1c" stroke-width="0.85" opacity="1"/>
<rect x="90.91" y="73" width="4.4" height="4.4" fill="#fff" stroke="#7a5e1c" stroke-width="0.85" opacity="1"/>
<rect x="93.71" y="71.75" width="4.4" height="4.4" fill="#fff" stroke="#7a5e1c" stroke-width="0.85" opacity="1"/>
<rect x="96.44" y="71.02" width="4.4" height="4.4" fill="#fff" stroke="#7a5e1c" stroke-width="0.85" opacity="1"/>
<rect x="99.38" y="70.6" width="4.4" height="4.4" fill="#fff" stroke="#7a5e1c" stroke-width="0.85" opacity="1"/>
<rect x="102.39" y="70.33" width="4.4" height="4.4" fill="#fff" stroke="#7a5e1c" stroke-width="0.85" opacity="1"/>
<rect x="105.54" y="70.16" width="4.4" height="4.4" fill="#fff" stroke="#7a5e1c" stroke-width="0.85" opacity="1"/>
<rect x="108.63" y="70.1" width="4.4" height="4.4" fill="#fff" stroke="#7a5e1c" stroke-width="0.85" opacity="1"/>
<rect x="111.85" y="70.1" width="4.4" height="4.4" fill="#fff" stroke="#7a5e1c" stroke-width="0.85" opacity="1"/>
<rect x="114.98" y="70.11" width="4.4" height="4.4" fill="#fff" stroke="#7a5e1c" stroke-width="0.85" opacity="1"/>
<rect x="117.8" y="70.1" width="4.4" height="4.4" fill="#fff" stroke="#7a5e1c" stroke-width="0.85" opacity="1"/>
<rect x="120.64" y="70.17" width="4.4" height="4.4" fill="#fff" stroke="#7a5e1c" stroke-width="0.85" opacity="1"/>
<rect x="123.55" y="70.34" width="4.4" height="4.4" fill="#fff" stroke="#7a5e1c" stroke-width="0.85" opacity="1"/>
<rect x="126.66" y="70.29" width="4.4" height="4.4" fill="#fff" stroke="#7a5e1c" stroke-width="0.85" opacity="1"/>
<rect x="129.52" y="69.7" width="4.4" height="4.4" fill="#fff" stroke="#7a5e1c" stroke-width="0.85" opacity="1"/>
<rect x="132.26" y="68.71" width="4.4" height="4.4" fill="#fff" stroke="#7a5e1c" stroke-width="0.85" opacity="1"/>
<rect x="135" y="67.33" width="4.4" height="4.4" fill="#fff" stroke="#7a5e1c" stroke-width="0.85" opacity="1"/>
<rect x="137.65" y="65.72" width="4.4" height="4.4" fill="#fff" stroke="#7a5e1c" stroke-width="0.85" opacity="1"/>
<rect x="140.26" y="63.98" width="4.4" height="4.4" fill="#fff" stroke="#7a5e1c" stroke-width="0.85" opacity="1"/>
<rect x="142.75" y="62.17" width="4.4" height="4.4" fill="#fff" stroke="#7a5e1c" stroke-width="0.85" opacity="1"/>
<rect x="145.46" y="60.06" width="4.4" height="4.4" fill="#fff" stroke="#7a5e1c" stroke-width="0.85" opacity="1"/>
<rect x="147.72" y="58.23" width="4.4" height="4.4" fill="#fff" stroke="#7a5e1c" stroke-width="0.85" opacity="1"/>
<rect x="150.04" y="56.34" width="4.4" height="4.4" fill="#fff" stroke="#7a5e1c" stroke-width="0.85" opacity="1"/>
<rect x="152.36" y="54.45" width="4.4" height="4.4" fill="#fff" stroke="#7a5e1c" stroke-width="0.85" opacity="1"/>
<rect x="154.64" y="52.61" width="4.4" height="4.4" fill="#fff" stroke="#7a5e1c" stroke-width="0.85" opacity="1"/>
<rect x="156.84" y="50.88" width="4.4" height="4.4" fill="#fff" stroke="#7a5e1c" stroke-width="0.85" opacity="1"/>
<rect x="159.56" y="48.8" width="4.4" height="4.4" fill="#fff" stroke="#7a5e1c" stroke-width="0.85" opacity="1"/>
<rect x="162.26" y="46.77" width="4.4" height="4.4" fill="#fff" stroke="#7a5e1c" stroke-width="0.85" opacity="1"/>
<rect x="164.95" y="44.74" width="4.4" height="4.4" fill="#fff" stroke="#7a5e1c" stroke-width="0.85" opacity="1"/>
<rect x="167.64" y="42.68" width="4.4" height="4.4" fill="#fff" stroke="#7a5e1c" stroke-width="0.85" opacity="1"/>
<rect x="170.34" y="40.56" width="4.4" height="4.4" fill="#fff" stroke="#7a5e1c" stroke-width="0.85" opacity="1"/>
<rect x="173.04" y="38.35" width="4.4" height="4.4" fill="#fff" stroke="#7a5e1c" stroke-width="0.85" opacity="1"/>
<rect x="175.21" y="36.5" width="4.4" height="4.4" fill="#fff" stroke="#7a5e1c" stroke-width="0.85" opacity="1"/>
<rect x="177.39" y="34.61" width="4.4" height="4.4" fill="#fff" stroke="#7a5e1c" stroke-width="0.85" opacity="1"/>
<rect x="179.57" y="32.68" width="4.4" height="4.4" fill="#fff" stroke="#7a5e1c" stroke-width="0.85" opacity="1"/>
<rect x="181.75" y="30.72" width="4.4" height="4.4" fill="#fff" stroke="#7a5e1c" stroke-width="0.85" opacity="1"/>
<rect x="183.93" y="28.75" width="4.4" height="4.4" fill="#fff" stroke="#7a5e1c" stroke-width="0.85" opacity="1"/>
<rect x="186.1" y="26.77" width="4.4" height="4.4" fill="#fff" stroke="#7a5e1c" stroke-width="0.85" opacity="1"/>
<rect x="188.26" y="24.79" width="4.4" height="4.4" fill="#fff" stroke="#7a5e1c" stroke-width="0.85" opacity="1"/>
<rect x="190.45" y="22.78" width="4.4" height="4.4" fill="#fff" stroke="#7a5e1c" stroke-width="0.85" opacity="1"/>
<rect x="192.73" y="20.66" width="4.4" height="4.4" fill="#fff" stroke="#7a5e1c" stroke-width="0.85" opacity="1"/>
<rect x="195.05" y="18.47" width="4.4" height="4.4" fill="#fff" stroke="#7a5e1c" stroke-width="0.85" opacity="1"/>
<rect x="197.35" y="16.3" width="4.4" height="4.4" fill="#fff" stroke="#7a5e1c" stroke-width="0.85" opacity="1"/>
<rect x="199.57" y="14.2" width="4.4" height="4.4" fill="#fff" stroke="#7a5e1c" stroke-width="0.85" opacity="1"/>
<rect x="201.66" y="12.23" width="4.4" height="4.4" fill="#fff" stroke="#7a5e1c" stroke-width="0.85" opacity="1"/>
<rect x="203.98" y="10.05" width="4.4" height="4.4" fill="#fff" stroke="#7a5e1c" stroke-width="0.85" opacity="1"/>
<rect x="206.28" y="7.96" width="4.4" height="4.4" fill="#fff" stroke="#7a5e1c" stroke-width="0.85" opacity="1"/>
<rect x="208.49" y="6.01" width="4.4" height="4.4" fill="#fff" stroke="#7a5e1c" stroke-width="0.85" opacity="1"/>
<rect x="210.67" y="4.17" width="4.4" height="4.4" fill="#fff" stroke="#7a5e1c" stroke-width="0.85" opacity="1"/>
<path d="M37.7,117.5 L38.49,116.92 L39.47,116.19 L40.62,115.34 L41.92,114.39 L43.33,113.35 L44.82,112.25 L46.37,111.11 L47.95,109.94 L49.53,108.78 L51.08,107.64 L52.58,106.54 L54,105.5 L55.37,104.5 L56.74,103.52 L58.12,102.54 L59.5,101.56 L60.88,100.58 L62.26,99.59 L63.64,98.61 L65.01,97.61 L66.39,96.61 L67.77,95.59 L69.13,94.55 L70.5,93.5 L71.89,92.4 L73.31,91.25 L74.76,90.05 L76.21,88.82 L77.67,87.59 L79.11,86.36 L80.53,85.15 L81.9,83.98 L83.21,82.86 L84.46,81.82 L85.63,80.86 L86.7,80 L87.66,79.24 L88.52,78.55 L89.29,77.94 L89.99,77.38 L90.63,76.87 L91.24,76.42 L91.82,76 L92.4,75.62 L92.99,75.27 L93.61,74.93 L94.27,74.61 L95,74.3 L95.76,74.01 L96.51,73.76 L97.26,73.54 L98.02,73.35 L98.79,73.19 L99.58,73.06 L100.39,72.94 L101.23,72.84 L102.11,72.75 L103.02,72.66 L103.99,72.58 L105,72.5 L106.09,72.43 L107.26,72.37 L108.49,72.34 L109.78,72.31 L111.1,72.3 L112.44,72.3 L113.78,72.3 L115.11,72.31 L116.41,72.31 L117.67,72.31 L118.87,72.31 L120,72.3 L121.06,72.3 L122.06,72.33 L123.03,72.38 L123.96,72.43 L124.87,72.49 L125.75,72.54 L126.62,72.57 L127.48,72.57 L128.34,72.53 L129.21,72.45 L130.1,72.31 L131,72.1 L131.9,71.85 L132.77,71.56 L133.62,71.25 L134.46,70.91 L135.3,70.52 L136.16,70.1 L137.03,69.63 L137.93,69.11 L138.86,68.55 L139.85,67.92 L140.89,67.24 L142,66.5 L143.18,65.67 L144.44,64.76 L145.75,63.76 L147.1,62.7 L148.5,61.58 L149.92,60.43 L151.37,59.26 L152.82,58.07 L154.27,56.89 L155.7,55.72 L157.12,54.59 L158.5,53.5 L159.86,52.45 L161.22,51.41 L162.57,50.39 L163.92,49.37 L165.27,48.36 L166.61,47.34 L167.96,46.32 L169.3,45.3 L170.65,44.25 L172,43.19 L173.35,42.11 L174.7,41 L176.06,39.86 L177.41,38.7 L178.77,37.53 L180.14,36.33 L181.5,35.13 L182.86,33.91 L184.22,32.68 L185.59,31.44 L186.94,30.21 L188.3,28.97 L189.65,27.73 L191,26.5 L192.37,25.24 L193.78,23.93 L195.22,22.59 L196.67,21.22 L198.12,19.86 L199.55,18.5 L200.95,17.17 L202.31,15.89 L203.6,14.66 L204.83,13.51 L205.97,12.45 L207,11.5 L207.95,10.64 L208.83,9.85 L209.65,9.12 L210.41,8.46 L211.11,7.86 L211.75,7.31 L212.34,6.82 L212.87,6.37 L213.35,5.97 L213.78,5.61 L214.16,5.29 L214.5,5" fill="none" stroke="#4e3a02" stroke-width="1.8" stroke-dasharray="3.8,2.6" stroke-opacity="1" stroke-linejoin="round" transform="translate(0,-1.8)"/>
<path d="M37.7,83.8 L38.56,83.76 L39.67,83.72 L40.98,83.67 L42.46,83.62 L44.05,83.56 L45.73,83.49 L47.43,83.42 L49.13,83.35 L50.78,83.27 L52.34,83.18 L53.76,83.09 L55,83 L56.1,82.9 L57.12,82.8 L58.08,82.69 L58.99,82.58 L59.84,82.47 L60.64,82.34 L61.42,82.22 L62.16,82.09 L62.88,81.95 L63.59,81.8 L64.29,81.66 L65,81.5 L65.69,81.34 L66.35,81.17 L66.98,81 L67.59,80.83 L68.18,80.64 L68.75,80.46 L69.31,80.26 L69.85,80.06 L70.39,79.86 L70.93,79.64 L71.46,79.43 L72,79.2 L72.53,78.97 L73.03,78.74 L73.51,78.51 L73.97,78.27 L74.43,78.03 L74.89,77.78 L75.36,77.52 L75.84,77.25 L76.33,76.96 L76.86,76.66 L77.41,76.34 L78,76 L78.63,75.64 L79.3,75.25 L79.99,74.85 L80.71,74.43 L81.45,74 L82.21,73.55 L82.97,73.1 L83.73,72.64 L84.49,72.17 L85.24,71.71 L85.98,71.25 L86.7,70.8 L87.41,70.34 L88.11,69.88 L88.81,69.41 L89.51,68.93 L90.2,68.45 L90.89,67.97 L91.58,67.49 L92.27,67.01 L92.96,66.55 L93.64,66.09 L94.32,65.64 L95,65.2 L95.66,64.78 L96.3,64.36 L96.93,63.96 L97.54,63.56 L98.15,63.17 L98.77,62.78 L99.4,62.4 L100.05,62.02 L100.73,61.64 L101.44,61.26 L102.19,60.88 L103,60.5 L103.86,60.11 L104.78,59.72 L105.74,59.33 L106.74,58.93 L107.77,58.53 L108.81,58.14 L109.87,57.76 L110.93,57.38 L111.98,57.01 L113.01,56.66 L114.02,56.32 L115,56 L115.94,55.7 L116.83,55.43 L117.7,55.17 L118.56,54.93 L119.4,54.7 L120.25,54.48 L121.11,54.26 L122,54.03 L122.92,53.8 L123.89,53.55 L124.91,53.29 L126,53 L127.16,52.69 L128.37,52.37 L129.64,52.04 L130.94,51.7 L132.29,51.36 L133.66,51 L135.04,50.64 L136.44,50.27 L137.85,49.91 L139.25,49.54 L140.63,49.17 L142,48.8 L143.36,48.44 L144.72,48.09 L146.1,47.75 L147.47,47.41 L148.85,47.07 L150.24,46.72 L151.62,46.36 L153,45.98 L154.38,45.58 L155.76,45.15 L157.13,44.69 L158.5,44.2 L159.86,43.68 L161.22,43.14 L162.57,42.59 L163.92,42.01 L165.27,41.41 L166.61,40.79 L167.96,40.15 L169.3,39.48 L170.65,38.78 L172,38.05 L173.35,37.29 L174.7,36.5 L176.07,35.66 L177.46,34.77 L178.87,33.83 L180.29,32.86 L181.7,31.85 L183.11,30.83 L184.51,29.8 L185.88,28.77 L187.22,27.74 L188.53,26.73 L189.79,25.75 L191,24.8 L192.15,23.88 L193.25,22.97 L194.31,22.06 L195.34,21.17 L196.33,20.29 L197.3,19.41 L198.25,18.53 L199.2,17.66 L200.14,16.8 L201.08,15.93 L202.03,15.07 L203,14.2 L204.01,13.3 L205.08,12.36 L206.18,11.38 L207.3,10.39 L208.41,9.41 L209.5,8.44 L210.55,7.51 L211.54,6.63 L212.45,5.82 L213.25,5.11 L213.95,4.49 L214.5,4" fill="none" stroke="#8a6a14" stroke-width="4.6" stroke-opacity="1" stroke-linejoin="round" />
<path d="M37.7,83.8 L38.56,83.76 L39.67,83.72 L40.98,83.67 L42.46,83.62 L44.05,83.56 L45.73,83.49 L47.43,83.42 L49.13,83.35 L50.78,83.27 L52.34,83.18 L53.76,83.09 L55,83 L56.1,82.9 L57.12,82.8 L58.08,82.69 L58.99,82.58 L59.84,82.47 L60.64,82.34 L61.42,82.22 L62.16,82.09 L62.88,81.95 L63.59,81.8 L64.29,81.66 L65,81.5 L65.69,81.34 L66.35,81.17 L66.98,81 L67.59,80.83 L68.18,80.64 L68.75,80.46 L69.31,80.26 L69.85,80.06 L70.39,79.86 L70.93,79.64 L71.46,79.43 L72,79.2 L72.53,78.97 L73.03,78.74 L73.51,78.51 L73.97,78.27 L74.43,78.03 L74.89,77.78 L75.36,77.52 L75.84,77.25 L76.33,76.96 L76.86,76.66 L77.41,76.34 L78,76 L78.63,75.64 L79.3,75.25 L79.99,74.85 L80.71,74.43 L81.45,74 L82.21,73.55 L82.97,73.1 L83.73,72.64 L84.49,72.17 L85.24,71.71 L85.98,71.25 L86.7,70.8 L87.41,70.34 L88.11,69.88 L88.81,69.41 L89.51,68.93 L90.2,68.45 L90.89,67.97 L91.58,67.49 L92.27,67.01 L92.96,66.55 L93.64,66.09 L94.32,65.64 L95,65.2 L95.66,64.78 L96.3,64.36 L96.93,63.96 L97.54,63.56 L98.15,63.17 L98.77,62.78 L99.4,62.4 L100.05,62.02 L100.73,61.64 L101.44,61.26 L102.19,60.88 L103,60.5 L103.86,60.11 L104.78,59.72 L105.74,59.33 L106.74,58.93 L107.77,58.53 L108.81,58.14 L109.87,57.76 L110.93,57.38 L111.98,57.01 L113.01,56.66 L114.02,56.32 L115,56 L115.94,55.7 L116.83,55.43 L117.7,55.17 L118.56,54.93 L119.4,54.7 L120.25,54.48 L121.11,54.26 L122,54.03 L122.92,53.8 L123.89,53.55 L124.91,53.29 L126,53 L127.16,52.69 L128.37,52.37 L129.64,52.04 L130.94,51.7 L132.29,51.36 L133.66,51 L135.04,50.64 L136.44,50.27 L137.85,49.91 L139.25,49.54 L140.63,49.17 L142,48.8 L143.36,48.44 L144.72,48.09 L146.1,47.75 L147.47,47.41 L148.85,47.07 L150.24,46.72 L151.62,46.36 L153,45.98 L154.38,45.58 L155.76,45.15 L157.13,44.69 L158.5,44.2 L159.86,43.68 L161.22,43.14 L162.57,42.59 L163.92,42.01 L165.27,41.41 L166.61,40.79 L167.96,40.15 L169.3,39.48 L170.65,38.78 L172,38.05 L173.35,37.29 L174.7,36.5 L176.07,35.66 L177.46,34.77 L178.87,33.83 L180.29,32.86 L181.7,31.85 L183.11,30.83 L184.51,29.8 L185.88,28.77 L187.22,27.74 L188.53,26.73 L189.79,25.75 L191,24.8 L192.15,23.88 L193.25,22.97 L194.31,22.06 L195.34,21.17 L196.33,20.29 L197.3,19.41 L198.25,18.53 L199.2,17.66 L200.14,16.8 L201.08,15.93 L202.03,15.07 L203,14.2 L204.01,13.3 L205.08,12.36 L206.18,11.38 L207.3,10.39 L208.41,9.41 L209.5,8.44 L210.55,7.51 L211.54,6.63 L212.45,5.82 L213.25,5.11 L213.95,4.49 L214.5,4" fill="none" stroke="#6e5306" stroke-width="3.0" stroke-opacity="1" stroke-linejoin="round" />
<path d="M38.5,83.4 H58" stroke="#e4e4e4" stroke-width="0.9" stroke-dasharray="4,1.6,1.2,1.6" fill="none"/>
</g>
<path d="M54.5,197.7 H63.5 L54.5,213 Z" fill="none" stroke="#111" stroke-width="0.8"/>
<path d="M83.4,212.1 V238.3 H76.2 Z" fill="none" stroke="#111" stroke-width="0.8"/>
<rect x="37.7" y="5.2" width="176.8" height="238" fill="none" stroke="#222" stroke-width="1"/>
<path d="M37.7,243.2h-2.6 M37.7,234.24h-1.5 M37.7,229.01h-1.5 M37.7,225.29h-1.5 M37.7,222.41h-1.5 M37.7,220.05h-1.5 M37.7,218.06h-1.5 M37.7,216.33h-1.5 M37.7,214.81h-1.5 M37.7,213.45h-2.6 M37.7,204.49h-1.5 M37.7,199.26h-1.5 M37.7,195.54h-1.5 M37.7,192.66h-1.5 M37.7,190.3h-1.5 M37.7,188.31h-1.5 M37.7,186.58h-1.5 M37.7,185.06h-1.5 M37.7,183.7h-2.6 M37.7,174.74h-1.5 M37.7,169.51h-1.5 M37.7,165.79h-1.5 M37.7,162.91h-1.5 M37.7,160.55h-1.5 M37.7,158.56h-1.5 M37.7,156.83h-1.5 M37.7,155.31h-1.5 M37.7,153.95h-2.6 M37.7,144.99h-1.5 M37.7,139.76h-1.5 M37.7,136.04h-1.5 M37.7,133.16h-1.5 M37.7,130.8h-1.5 M37.7,128.81h-1.5 M37.7,127.08h-1.5 M37.7,125.56h-1.5 M37.7,124.2h-2.6 M37.7,115.24h-1.5 M37.7,110.01h-1.5 M37.7,106.29h-1.5 M37.7,103.41h-1.5 M37.7,101.05h-1.5 M37.7,99.06h-1.5 M37.7,97.33h-1.5 M37.7,95.81h-1.5 M37.7,94.45h-2.6 M37.7,85.49h-1.5 M37.7,80.26h-1.5 M37.7,76.54h-1.5 M37.7,73.66h-1.5 M37.7,71.3h-1.5 M37.7,69.31h-1.5 M37.7,67.58h-1.5 M37.7,66.06h-1.5 M37.7,64.7h-2.6 M37.7,55.74h-1.5 M37.7,50.51h-1.5 M37.7,46.79h-1.5 M37.7,43.91h-1.5 M37.7,41.55h-1.5 M37.7,39.56h-1.5 M37.7,37.83h-1.5 M37.7,36.31h-1.5 M37.7,34.95h-2.6 M37.7,25.99h-1.5 M37.7,20.76h-1.5 M37.7,17.04h-1.5 M37.7,14.16h-1.5 M37.7,11.8h-1.5 M37.7,9.81h-1.5 M37.7,8.08h-1.5 M37.7,6.56h-1.5 M37.7,5.2h-2.6" stroke="#222" stroke-width="0.7" fill="none"/>
<path d="M37.7,243.2v2.6 M43.02,243.2v1.5 M46.14,243.2v1.5 M48.34,243.2v1.5 M50.06,243.2v1.5 M51.46,243.2v1.5 M52.64,243.2v1.5 M53.67,243.2v1.5 M54.57,243.2v1.5 M55.38,243.2v2.6 M60.7,243.2v1.5 M63.82,243.2v1.5 M66.02,243.2v1.5 M67.74,243.2v1.5 M69.14,243.2v1.5 M70.32,243.2v1.5 M71.35,243.2v1.5 M72.25,243.2v1.5 M73.06,243.2v2.6 M78.38,243.2v1.5 M81.5,243.2v1.5 M83.7,243.2v1.5 M85.42,243.2v1.5 M86.82,243.2v1.5 M88,243.2v1.5 M89.03,243.2v1.5 M89.93,243.2v1.5 M90.74,243.2v2.6 M96.06,243.2v1.5 M99.18,243.2v1.5 M101.38,243.2v1.5 M103.1,243.2v1.5 M104.5,243.2v1.5 M105.68,243.2v1.5 M106.71,243.2v1.5 M107.61,243.2v1.5 M108.42,243.2v2.6 M113.74,243.2v1.5 M116.86,243.2v1.5 M119.06,243.2v1.5 M120.78,243.2v1.5 M122.18,243.2v1.5 M123.36,243.2v1.5 M124.39,243.2v1.5 M125.29,243.2v1.5 M126.1,243.2v2.6 M131.42,243.2v1.5 M134.54,243.2v1.5 M136.74,243.2v1.5 M138.46,243.2v1.5 M139.86,243.2v1.5 M141.04,243.2v1.5 M142.07,243.2v1.5 M142.97,243.2v1.5 M143.78,243.2v2.6 M149.1,243.2v1.5 M152.22,243.2v1.5 M154.42,243.2v1.5 M156.14,243.2v1.5 M157.54,243.2v1.5 M158.72,243.2v1.5 M159.75,243.2v1.5 M160.65,243.2v1.5 M161.46,243.2v2.6 M166.78,243.2v1.5 M169.9,243.2v1.5 M172.1,243.2v1.5 M173.82,243.2v1.5 M175.22,243.2v1.5 M176.4,243.2v1.5 M177.43,243.2v1.5 M178.33,243.2v1.5 M179.14,243.2v2.6 M184.46,243.2v1.5 M187.58,243.2v1.5 M189.78,243.2v1.5 M191.5,243.2v1.5 M192.9,243.2v1.5 M194.08,243.2v1.5 M195.11,243.2v1.5 M196.01,243.2v1.5 M196.82,243.2v2.6 M202.14,243.2v1.5 M205.26,243.2v1.5 M207.46,243.2v1.5 M209.18,243.2v1.5 M210.58,243.2v1.5 M211.76,243.2v1.5 M212.79,243.2v1.5 M213.69,243.2v1.5 M214.5,243.2v2.6" stroke="#222" stroke-width="0.7" fill="none"/>
<text transform="translate(33.6,247.1) scale(1,1.09)" font-size="8.2" text-anchor="end">10<tspan font-size="5.2" dy="-3.3">2</tspan></text>
<text transform="translate(33.6,217.35) scale(1,1.09)" font-size="8.2" text-anchor="end">10<tspan font-size="5.2" dy="-3.3">3</tspan></text>
<text transform="translate(33.6,187.6) scale(1,1.09)" font-size="8.2" text-anchor="end">10<tspan font-size="5.2" dy="-3.3">4</tspan></text>
<text transform="translate(33.6,157.85) scale(1,1.09)" font-size="8.2" text-anchor="end">10<tspan font-size="5.2" dy="-3.3">5</tspan></text>
<text transform="translate(33.6,128.1) scale(1,1.09)" font-size="8.2" text-anchor="end">10<tspan font-size="5.2" dy="-3.3">6</tspan></text>
<text transform="translate(33.6,98.35) scale(1,1.09)" font-size="8.2" text-anchor="end">10<tspan font-size="5.2" dy="-3.3">7</tspan></text>
<text transform="translate(33.6,68.6) scale(1,1.09)" font-size="8.2" text-anchor="end">10<tspan font-size="5.2" dy="-3.3">8</tspan></text>
<text transform="translate(33.6,38.85) scale(1,1.09)" font-size="8.2" text-anchor="end">10<tspan font-size="5.2" dy="-3.3">9</tspan></text>
<text transform="translate(33.6,9.1) scale(1,1.09)" font-size="8.2" text-anchor="end">10<tspan font-size="5.2" dy="-3.3">10</tspan></text>
<text transform="translate(37.9,256.95) scale(1,1.09)" font-size="8.2" text-anchor="middle">10<tspan font-size="5.2" dy="-3.3">-5</tspan></text>
<text transform="translate(73.26,256.95) scale(1,1.09)" font-size="8.2" text-anchor="middle">10<tspan font-size="5.2" dy="-3.3">-3</tspan></text>
<text transform="translate(108.62,256.95) scale(1,1.09)" font-size="8.2" text-anchor="middle">10<tspan font-size="5.2" dy="-3.3">-1</tspan></text>
<text transform="translate(143.98,256.95) scale(1,1.09)" font-size="8.2" text-anchor="middle">10<tspan font-size="5.2" dy="-3.3">1</tspan></text>
<text transform="translate(179.34,256.95) scale(1,1.09)" font-size="8.2" text-anchor="middle">10<tspan font-size="5.2" dy="-3.3">3</tspan></text>
<text transform="translate(214.7,256.95) scale(1,1.09)" font-size="8.2" text-anchor="middle">10<tspan font-size="5.2" dy="-3.3">5</tspan></text>
<g clip-path="url(#clipb)">
<path d="M291.41,198.64 L293.71,203.01 L289.11,203.01 Z" fill="#fff" stroke="#4f8fe6" stroke-width="0.9" opacity="1"/>
<path d="M292.61,196.26 L294.91,200.63 L290.31,200.63 Z" fill="#fff" stroke="#4f8fe6" stroke-width="0.9" opacity="1"/>
<path d="M293.8,193.98 L296.1,198.35 L291.5,198.35 Z" fill="#fff" stroke="#4f8fe6" stroke-width="0.9" opacity="1"/>
<path d="M295.06,191.68 L297.36,196.05 L292.76,196.05 Z" fill="#fff" stroke="#4f8fe6" stroke-width="0.9" opacity="1"/>
<path d="M296.21,189.66 L298.51,194.03 L293.91,194.03 Z" fill="#fff" stroke="#4f8fe6" stroke-width="0.9" opacity="1"/>
<path d="M297.5,187.47 L299.8,191.84 L295.2,191.84 Z" fill="#fff" stroke="#4f8fe6" stroke-width="0.9" opacity="1"/>
<path d="M298.98,184.99 L301.28,189.36 L296.68,189.36 Z" fill="#fff" stroke="#4f8fe6" stroke-width="0.9" opacity="1"/>
<path d="M300.29,182.81 L302.59,187.18 L297.99,187.18 Z" fill="#fff" stroke="#4f8fe6" stroke-width="0.9" opacity="1"/>
<path d="M301.67,180.54 L303.97,184.91 L299.37,184.91 Z" fill="#fff" stroke="#4f8fe6" stroke-width="0.9" opacity="1"/>
<path d="M303.08,178.28 L305.38,182.65 L300.78,182.65 Z" fill="#fff" stroke="#4f8fe6" stroke-width="0.9" opacity="1"/>
<path d="M304.5,176.11 L306.8,180.48 L302.2,180.48 Z" fill="#fff" stroke="#4f8fe6" stroke-width="0.9" opacity="1"/>
<path d="M305.88,174.1 L308.18,178.47 L303.58,178.47 Z" fill="#fff" stroke="#4f8fe6" stroke-width="0.9" opacity="1"/>
<path d="M307.5,171.97 L309.8,176.34 L305.2,176.34 Z" fill="#fff" stroke="#4f8fe6" stroke-width="0.9" opacity="1"/>
<path d="M309.04,170.25 L311.34,174.62 L306.74,174.62 Z" fill="#fff" stroke="#4f8fe6" stroke-width="0.9" opacity="1"/>
<path d="M310.85,168.56 L313.15,172.93 L308.55,172.93 Z" fill="#fff" stroke="#4f8fe6" stroke-width="0.9" opacity="1"/>
<path d="M312.87,166.99 L315.17,171.36 L310.57,171.36 Z" fill="#fff" stroke="#4f8fe6" stroke-width="0.9" opacity="1"/>
<path d="M315.02,165.58 L317.32,169.95 L312.72,169.95 Z" fill="#fff" stroke="#4f8fe6" stroke-width="0.9" opacity="1"/>
<path d="M316.97,164.34 L319.27,168.71 L314.67,168.71 Z" fill="#fff" stroke="#4f8fe6" stroke-width="0.9" opacity="1"/>
<path d="M319.15,163.37 L321.45,167.74 L316.85,167.74 Z" fill="#fff" stroke="#4f8fe6" stroke-width="0.9" opacity="1"/>
<path d="M321.7,163.07 L324,167.44 L319.4,167.44 Z" fill="#fff" stroke="#4f8fe6" stroke-width="0.9" opacity="1"/>
<path d="M324.07,162.92 L326.37,167.29 L321.77,167.29 Z" fill="#fff" stroke="#4f8fe6" stroke-width="0.9" opacity="1"/>
<path d="M326.39,162.84 L328.69,167.21 L324.09,167.21 Z" fill="#fff" stroke="#4f8fe6" stroke-width="0.9" opacity="1"/>
<path d="M328.97,162.79 L331.27,167.16 L326.67,167.16 Z" fill="#fff" stroke="#4f8fe6" stroke-width="0.9" opacity="1"/>
<path d="M331.68,162.76 L333.98,167.13 L329.38,167.13 Z" fill="#fff" stroke="#4f8fe6" stroke-width="0.9" opacity="1"/>
<path d="M334.41,162.74 L336.71,167.11 L332.11,167.11 Z" fill="#fff" stroke="#4f8fe6" stroke-width="0.9" opacity="1"/>
<path d="M337.04,162.72 L339.34,167.09 L334.74,167.09 Z" fill="#fff" stroke="#4f8fe6" stroke-width="0.9" opacity="1"/>
<path d="M339.45,162.68 L341.75,167.05 L337.15,167.05 Z" fill="#fff" stroke="#4f8fe6" stroke-width="0.9" opacity="1"/>
<path d="M342.12,162.62 L344.42,166.99 L339.82,166.99 Z" fill="#fff" stroke="#4f8fe6" stroke-width="0.9" opacity="1"/>
<path d="M344.64,162.55 L346.94,166.92 L342.34,166.92 Z" fill="#fff" stroke="#4f8fe6" stroke-width="0.9" opacity="1"/>
<path d="M347.04,162.49 L349.34,166.86 L344.74,166.86 Z" fill="#fff" stroke="#4f8fe6" stroke-width="0.9" opacity="1"/>
<path d="M349.34,162.42 L351.64,166.79 L347.04,166.79 Z" fill="#fff" stroke="#4f8fe6" stroke-width="0.9" opacity="1"/>
<path d="M352.02,162.34 L354.32,166.71 L349.72,166.71 Z" fill="#fff" stroke="#4f8fe6" stroke-width="0.9" opacity="1"/>
<path d="M354.63,162.25 L356.93,166.62 L352.33,166.62 Z" fill="#fff" stroke="#4f8fe6" stroke-width="0.9" opacity="1"/>
<path d="M357.19,162.16 L359.49,166.53 L354.89,166.53 Z" fill="#fff" stroke="#4f8fe6" stroke-width="0.9" opacity="1"/>
<path d="M359.66,162.07 L361.96,166.44 L357.36,166.44 Z" fill="#fff" stroke="#4f8fe6" stroke-width="0.9" opacity="1"/>
<path d="M362.03,161.97 L364.33,166.34 L359.73,166.34 Z" fill="#fff" stroke="#4f8fe6" stroke-width="0.9" opacity="1"/>
<path d="M364.62,161.85 L366.92,166.22 L362.32,166.22 Z" fill="#fff" stroke="#4f8fe6" stroke-width="0.9" opacity="1"/>
<path d="M366.98,161.73 L369.28,166.1 L364.68,166.1 Z" fill="#fff" stroke="#4f8fe6" stroke-width="0.9" opacity="1"/>
<path d="M369.34,161.76 L371.64,166.13 L367.04,166.13 Z" fill="#fff" stroke="#4f8fe6" stroke-width="0.9" opacity="1"/>
<path d="M371.75,161.71 L374.05,166.08 L369.45,166.08 Z" fill="#fff" stroke="#4f8fe6" stroke-width="0.9" opacity="1"/>
<path d="M374.13,161.18 L376.43,165.55 L371.83,165.55 Z" fill="#fff" stroke="#4f8fe6" stroke-width="0.9" opacity="1"/>
<path d="M376.31,160.08 L378.61,164.45 L374.01,164.45 Z" fill="#fff" stroke="#4f8fe6" stroke-width="0.9" opacity="1"/>
<path d="M378.2,158.75 L380.5,163.12 L375.9,163.12 Z" fill="#fff" stroke="#4f8fe6" stroke-width="0.9" opacity="1"/>
<path d="M380.08,157.18 L382.38,161.55 L377.78,161.55 Z" fill="#fff" stroke="#4f8fe6" stroke-width="0.9" opacity="1"/>
<path d="M381.96,155.47 L384.26,159.84 L379.66,159.84 Z" fill="#fff" stroke="#4f8fe6" stroke-width="0.9" opacity="1"/>
<path d="M383.87,153.62 L386.17,157.99 L381.57,157.99 Z" fill="#fff" stroke="#4f8fe6" stroke-width="0.9" opacity="1"/>
<path d="M385.55,151.82 L387.85,156.19 L383.25,156.19 Z" fill="#fff" stroke="#4f8fe6" stroke-width="0.9" opacity="1"/>
<path d="M387.22,149.92 L389.52,154.29 L384.92,154.29 Z" fill="#fff" stroke="#4f8fe6" stroke-width="0.9" opacity="1"/>
<path d="M388.84,148.03 L391.14,152.4 L386.54,152.4 Z" fill="#fff" stroke="#4f8fe6" stroke-width="0.9" opacity="1"/>
<path d="M390.36,146.25 L392.66,150.62 L388.06,150.62 Z" fill="#fff" stroke="#4f8fe6" stroke-width="0.9" opacity="1"/>
<path d="M391.95,144.39 L394.25,148.76 L389.65,148.76 Z" fill="#fff" stroke="#4f8fe6" stroke-width="0.9" opacity="1"/>
<path d="M393.56,142.43 L395.86,146.8 L391.26,146.8 Z" fill="#fff" stroke="#4f8fe6" stroke-width="0.9" opacity="1"/>
<path d="M395.12,140.5 L397.42,144.87 L392.82,144.87 Z" fill="#fff" stroke="#4f8fe6" stroke-width="0.9" opacity="1"/>
<path d="M396.8,138.47 L399.1,142.84 L394.5,142.84 Z" fill="#fff" stroke="#4f8fe6" stroke-width="0.9" opacity="1"/>
<path d="M398.37,136.65 L400.67,141.02 L396.07,141.02 Z" fill="#fff" stroke="#4f8fe6" stroke-width="0.9" opacity="1"/>
<path d="M399.99,134.83 L402.29,139.2 L397.69,139.2 Z" fill="#fff" stroke="#4f8fe6" stroke-width="0.9" opacity="1"/>
<path d="M401.68,132.88 L403.98,137.25 L399.38,137.25 Z" fill="#fff" stroke="#4f8fe6" stroke-width="0.9" opacity="1"/>
<path d="M403.2,131.01 L405.5,135.38 L400.9,135.38 Z" fill="#fff" stroke="#4f8fe6" stroke-width="0.9" opacity="1"/>
<path d="M404.83,128.84 L407.13,133.21 L402.53,133.21 Z" fill="#fff" stroke="#4f8fe6" stroke-width="0.9" opacity="1"/>
<path d="M406.27,126.76 L408.57,131.13 L403.97,131.13 Z" fill="#fff" stroke="#4f8fe6" stroke-width="0.9" opacity="1"/>
<path d="M407.77,124.52 L410.07,128.89 L405.47,128.89 Z" fill="#fff" stroke="#4f8fe6" stroke-width="0.9" opacity="1"/>
<path d="M409.31,122.21 L411.61,126.58 L407.01,126.58 Z" fill="#fff" stroke="#4f8fe6" stroke-width="0.9" opacity="1"/>
<path d="M410.86,119.93 L413.16,124.3 L408.56,124.3 Z" fill="#fff" stroke="#4f8fe6" stroke-width="0.9" opacity="1"/>
<path d="M412.39,117.77 L414.69,122.14 L410.09,122.14 Z" fill="#fff" stroke="#4f8fe6" stroke-width="0.9" opacity="1"/>
<path d="M413.91,115.81 L416.21,120.18 L411.61,120.18 Z" fill="#fff" stroke="#4f8fe6" stroke-width="0.9" opacity="1"/>
<path d="M415.42,113.93 L417.72,118.3 L413.12,118.3 Z" fill="#fff" stroke="#4f8fe6" stroke-width="0.9" opacity="1"/>
<path d="M416.94,112.11 L419.24,116.48 L414.64,116.48 Z" fill="#fff" stroke="#4f8fe6" stroke-width="0.9" opacity="1"/>
<path d="M418.46,110.37 L420.76,114.74 L416.16,114.74 Z" fill="#fff" stroke="#4f8fe6" stroke-width="0.9" opacity="1"/>
<path d="M420.28,108.37 L422.58,112.74 L417.98,112.74 Z" fill="#fff" stroke="#4f8fe6" stroke-width="0.9" opacity="1"/>
<path d="M422.1,106.47 L424.4,110.84 L419.8,110.84 Z" fill="#fff" stroke="#4f8fe6" stroke-width="0.9" opacity="1"/>
<path d="M423.89,104.69 L426.19,109.06 L421.59,109.06 Z" fill="#fff" stroke="#4f8fe6" stroke-width="0.9" opacity="1"/>
<path d="M425.66,103.04 L427.96,107.41 L423.36,107.41 Z" fill="#fff" stroke="#4f8fe6" stroke-width="0.9" opacity="1"/>
<path d="M427.44,101.48 L429.74,105.85 L425.14,105.85 Z" fill="#fff" stroke="#4f8fe6" stroke-width="0.9" opacity="1"/>
<path d="M429.24,99.97 L431.54,104.34 L426.94,104.34 Z" fill="#fff" stroke="#4f8fe6" stroke-width="0.9" opacity="1"/>
<path d="M431.1,98.47 L433.4,102.84 L428.8,102.84 Z" fill="#fff" stroke="#4f8fe6" stroke-width="0.9" opacity="1"/>
<path d="M433.18,96.89 L435.48,101.26 L430.88,101.26 Z" fill="#fff" stroke="#4f8fe6" stroke-width="0.9" opacity="1"/>
<path d="M435.09,95.53 L437.39,99.9 L432.79,99.9 Z" fill="#fff" stroke="#4f8fe6" stroke-width="0.9" opacity="1"/>
<path d="M436.98,94.21 L439.28,98.58 L434.68,98.58 Z" fill="#fff" stroke="#4f8fe6" stroke-width="0.9" opacity="1"/>
<path d="M439.05,92.81 L441.35,97.18 L436.75,97.18 Z" fill="#fff" stroke="#4f8fe6" stroke-width="0.9" opacity="1"/>
<path d="M441,91.47 L443.3,95.84 L438.7,95.84 Z" fill="#fff" stroke="#4f8fe6" stroke-width="0.9" opacity="1"/>
<path d="M285,215.4 L285.29,214.75 L285.65,213.93 L286.07,212.96 L286.54,211.87 L287.05,210.7 L287.59,209.45 L288.16,208.16 L288.74,206.86 L289.32,205.57 L289.9,204.31 L290.46,203.11 L291,202 L291.51,200.96 L292.01,199.96 L292.51,198.98 L293,198.03 L293.5,197.08 L294,196.13 L294.52,195.18 L295.06,194.21 L295.62,193.21 L296.21,192.19 L296.83,191.12 L297.5,190 L298.22,188.8 L298.98,187.52 L299.79,186.17 L300.63,184.78 L301.49,183.36 L302.38,181.94 L303.26,180.53 L304.15,179.17 L305.02,177.86 L305.88,176.63 L306.71,175.51 L307.5,174.5 L308.27,173.6 L309.04,172.78 L309.8,172.03 L310.55,171.35 L311.29,170.72 L312.02,170.15 L312.73,169.62 L313.43,169.14 L314.11,168.69 L314.76,168.27 L315.39,167.88 L316,167.5 L316.53,167.16 L316.97,166.87 L317.33,166.63 L317.64,166.43 L317.94,166.27 L318.24,166.14 L318.57,166.03 L318.97,165.93 L319.45,165.85 L320.05,165.77 L320.79,165.69 L321.7,165.6 L322.8,165.51 L324.07,165.45 L325.49,165.39 L327.02,165.36 L328.64,165.33 L330.32,165.31 L332.03,165.29 L333.74,165.28 L335.42,165.26 L337.04,165.25 L338.58,165.23 L340,165.2 L341.33,165.17 L342.63,165.13 L343.89,165.1 L345.13,165.07 L346.33,165.04 L347.51,165.01 L348.66,164.97 L349.8,164.94 L350.91,164.91 L352.02,164.87 L353.11,164.84 L354.2,164.8 L355.28,164.76 L356.34,164.72 L357.4,164.69 L358.44,164.65 L359.46,164.61 L360.46,164.57 L361.45,164.53 L362.41,164.49 L363.35,164.44 L364.26,164.4 L365.14,164.35 L366,164.3 L366.82,164.27 L367.6,164.26 L368.35,164.27 L369.06,164.28 L369.76,164.3 L370.43,164.3 L371.09,164.28 L371.75,164.24 L372.4,164.16 L373.06,164.03 L373.72,163.85 L374.4,163.6 L375.09,163.29 L375.77,162.93 L376.45,162.52 L377.12,162.07 L377.8,161.59 L378.47,161.07 L379.14,160.52 L379.81,159.95 L380.48,159.36 L381.15,158.75 L381.83,158.13 L382.5,157.5 L383.18,156.85 L383.87,156.15 L384.57,155.42 L385.27,154.66 L385.97,153.88 L386.67,153.09 L387.36,152.29 L388.04,151.5 L388.71,150.71 L389.36,149.95 L389.99,149.21 L390.6,148.5 L391.18,147.83 L391.73,147.17 L392.26,146.54 L392.77,145.93 L393.27,145.32 L393.76,144.72 L394.24,144.12 L394.73,143.52 L395.22,142.91 L395.73,142.29 L396.25,141.66 L396.8,141 L397.36,140.34 L397.92,139.69 L398.49,139.05 L399.06,138.41 L399.64,137.76 L400.22,137.09 L400.82,136.41 L401.43,135.7 L402.05,134.96 L402.68,134.19 L403.33,133.37 L404,132.5 L404.69,131.57 L405.39,130.56 L406.12,129.51 L406.86,128.41 L407.62,127.28 L408.38,126.12 L409.15,124.97 L409.93,123.81 L410.7,122.68 L411.47,121.57 L412.24,120.51 L413,119.5 L413.76,118.53 L414.51,117.58 L415.27,116.64 L416.03,115.72 L416.79,114.82 L417.55,113.94 L418.31,113.07 L419.07,112.22 L419.83,111.39 L420.59,110.58 L421.34,109.78 L422.1,109 L422.85,108.24 L423.6,107.51 L424.34,106.8 L425.07,106.11 L425.81,105.44 L426.55,104.78 L427.29,104.14 L428.04,103.5 L428.79,102.87 L429.55,102.25 L430.32,101.62 L431.1,101 L431.93,100.36 L432.81,99.69 L433.74,99.02 L434.7,98.33 L435.66,97.66 L436.61,97 L437.53,96.37 L438.4,95.78 L439.2,95.23 L439.91,94.75 L440.52,94.34 L441,94" fill="none" stroke="#2a78e4" stroke-width="1.5" stroke-dasharray="3,2.6" stroke-opacity="1" stroke-linejoin="round" transform="translate(0,-2.2)"/>
<path d="M291.06,233.56 L293.76,238.69 L288.36,238.69 Z" fill="#2a78e4" stroke="none" stroke-width="0.6" opacity="1"/>
<path d="M292.21,230.75 L294.91,235.88 L289.51,235.88 Z" fill="#2a78e4" stroke="none" stroke-width="0.6" opacity="1"/>
<path d="M293.39,227.86 L296.09,232.99 L290.69,232.99 Z" fill="#2a78e4" stroke="none" stroke-width="0.6" opacity="1"/>
<path d="M294.57,224.99 L297.27,230.12 L291.87,230.12 Z" fill="#2a78e4" stroke="none" stroke-width="0.6" opacity="1"/>
<path d="M295.71,222.25 L298.41,227.38 L293.01,227.38 Z" fill="#2a78e4" stroke="none" stroke-width="0.6" opacity="1"/>
<path d="M296.77,219.73 L299.47,224.86 L294.07,224.86 Z" fill="#2a78e4" stroke="none" stroke-width="0.6" opacity="1"/>
<path d="M297.98,216.87 L300.68,222 L295.28,222 Z" fill="#2a78e4" stroke="none" stroke-width="0.6" opacity="1"/>
<path d="M299.08,214.42 L301.78,219.55 L296.38,219.55 Z" fill="#2a78e4" stroke="none" stroke-width="0.6" opacity="1"/>
<path d="M300.36,211.68 L303.06,216.81 L297.66,216.81 Z" fill="#2a78e4" stroke="none" stroke-width="0.6" opacity="1"/>
<path d="M301.56,209.19 L304.26,214.32 L298.86,214.32 Z" fill="#2a78e4" stroke="none" stroke-width="0.6" opacity="1"/>
<path d="M302.69,206.83 L305.39,211.96 L299.99,211.96 Z" fill="#2a78e4" stroke="none" stroke-width="0.6" opacity="1"/>
<path d="M303.97,204 L306.67,209.13 L301.27,209.13 Z" fill="#2a78e4" stroke="none" stroke-width="0.6" opacity="1"/>
<path d="M305,201.52 L307.7,206.65 L302.3,206.65 Z" fill="#2a78e4" stroke="none" stroke-width="0.6" opacity="1"/>
<path d="M305.96,198.98 L308.66,204.11 L303.26,204.11 Z" fill="#2a78e4" stroke="none" stroke-width="0.6" opacity="1"/>
<path d="M306.84,196.45 L309.54,201.58 L304.14,201.58 Z" fill="#2a78e4" stroke="none" stroke-width="0.6" opacity="1"/>
<path d="M307.67,193.93 L310.37,199.06 L304.97,199.06 Z" fill="#2a78e4" stroke="none" stroke-width="0.6" opacity="1"/>
<path d="M308.49,191.44 L311.19,196.57 L305.79,196.57 Z" fill="#2a78e4" stroke="none" stroke-width="0.6" opacity="1"/>
<path d="M309.48,188.49 L312.18,193.62 L306.78,193.62 Z" fill="#2a78e4" stroke="none" stroke-width="0.6" opacity="1"/>
<path d="M310.53,185.58 L313.23,190.71 L307.83,190.71 Z" fill="#2a78e4" stroke="none" stroke-width="0.6" opacity="1"/>
<path d="M311.58,182.66 L314.28,187.79 L308.88,187.79 Z" fill="#2a78e4" stroke="none" stroke-width="0.6" opacity="1"/>
<path d="M312.63,179.78 L315.33,184.91 L309.93,184.91 Z" fill="#2a78e4" stroke="none" stroke-width="0.6" opacity="1"/>
<path d="M313.71,176.98 L316.41,182.11 L311.01,182.11 Z" fill="#2a78e4" stroke="none" stroke-width="0.6" opacity="1"/>
<path d="M314.82,174.3 L317.52,179.43 L312.12,179.43 Z" fill="#2a78e4" stroke="none" stroke-width="0.6" opacity="1"/>
<path d="M315.96,171.8 L318.66,176.93 L313.26,176.93 Z" fill="#2a78e4" stroke="none" stroke-width="0.6" opacity="1"/>
<path d="M317.19,169.09 L319.89,174.22 L314.49,174.22 Z" fill="#2a78e4" stroke="none" stroke-width="0.6" opacity="1"/>
<path d="M318.46,166.53 L321.16,171.66 L315.76,171.66 Z" fill="#2a78e4" stroke="none" stroke-width="0.6" opacity="1"/>
<path d="M320,164.09 L322.7,169.22 L317.3,169.22 Z" fill="#2a78e4" stroke="none" stroke-width="0.6" opacity="1"/>
<path d="M321.7,162.03 L324.4,167.16 L319,167.16 Z" fill="#2a78e4" stroke="none" stroke-width="0.6" opacity="1"/>
<path d="M323.97,159.93 L326.67,165.06 L321.27,165.06 Z" fill="#2a78e4" stroke="none" stroke-width="0.6" opacity="1"/>
<path d="M326.23,158.17 L328.93,163.3 L323.53,163.3 Z" fill="#2a78e4" stroke="none" stroke-width="0.6" opacity="1"/>
<path d="M328.64,156.46 L331.34,161.59 L325.94,161.59 Z" fill="#2a78e4" stroke="none" stroke-width="0.6" opacity="1"/>
<path d="M331.03,154.87 L333.73,160 L328.33,160 Z" fill="#2a78e4" stroke="none" stroke-width="0.6" opacity="1"/>
<path d="M333.61,153.22 L336.31,158.35 L330.91,158.35 Z" fill="#2a78e4" stroke="none" stroke-width="0.6" opacity="1"/>
<path d="M335.92,151.78 L338.62,156.91 L333.22,156.91 Z" fill="#2a78e4" stroke="none" stroke-width="0.6" opacity="1"/>
<path d="M338.29,150.59 L340.99,155.72 L335.59,155.72 Z" fill="#2a78e4" stroke="none" stroke-width="0.6" opacity="1"/>
<path d="M340.75,149.68 L343.45,154.81 L338.05,154.81 Z" fill="#2a78e4" stroke="none" stroke-width="0.6" opacity="1"/>
<path d="M343.38,148.71 L346.08,153.84 L340.68,153.84 Z" fill="#2a78e4" stroke="none" stroke-width="0.6" opacity="1"/>
<path d="M346.05,147.85 L348.75,152.98 L343.35,152.98 Z" fill="#2a78e4" stroke="none" stroke-width="0.6" opacity="1"/>
<path d="M348.84,146.99 L351.54,152.12 L346.14,152.12 Z" fill="#2a78e4" stroke="none" stroke-width="0.6" opacity="1"/>
<path d="M351.76,146.07 L354.46,151.2 L349.06,151.2 Z" fill="#2a78e4" stroke="none" stroke-width="0.6" opacity="1"/>
<path d="M354.28,145.27 L356.98,150.4 L351.58,150.4 Z" fill="#2a78e4" stroke="none" stroke-width="0.6" opacity="1"/>
<path d="M357.03,144.4 L359.73,149.53 L354.33,149.53 Z" fill="#2a78e4" stroke="none" stroke-width="0.6" opacity="1"/>
<path d="M359.92,143.5 L362.62,148.63 L357.22,148.63 Z" fill="#2a78e4" stroke="none" stroke-width="0.6" opacity="1"/>
<path d="M362.83,142.62 L365.53,147.75 L360.13,147.75 Z" fill="#2a78e4" stroke="none" stroke-width="0.6" opacity="1"/>
<path d="M365.65,141.79 L368.35,146.92 L362.95,146.92 Z" fill="#2a78e4" stroke="none" stroke-width="0.6" opacity="1"/>
<path d="M368.39,141.03 L371.09,146.16 L365.69,146.16 Z" fill="#2a78e4" stroke="none" stroke-width="0.6" opacity="1"/>
<path d="M371.19,140.31 L373.89,145.44 L368.49,145.44 Z" fill="#2a78e4" stroke="none" stroke-width="0.6" opacity="1"/>
<path d="M373.99,139.62 L376.69,144.75 L371.29,144.75 Z" fill="#2a78e4" stroke="none" stroke-width="0.6" opacity="1"/>
<path d="M376.76,138.94 L379.46,144.07 L374.06,144.07 Z" fill="#2a78e4" stroke="none" stroke-width="0.6" opacity="1"/>
<path d="M379.45,138.26 L382.15,143.39 L376.75,143.39 Z" fill="#2a78e4" stroke="none" stroke-width="0.6" opacity="1"/>
<path d="M382.01,137.57 L384.71,142.7 L379.31,142.7 Z" fill="#2a78e4" stroke="none" stroke-width="0.6" opacity="1"/>
<path d="M384.91,136.74 L387.61,141.87 L382.21,141.87 Z" fill="#2a78e4" stroke="none" stroke-width="0.6" opacity="1"/>
<path d="M387.7,135.93 L390.4,141.06 L385,141.06 Z" fill="#2a78e4" stroke="none" stroke-width="0.6" opacity="1"/>
<path d="M390.36,135.11 L393.06,140.24 L387.66,140.24 Z" fill="#2a78e4" stroke="none" stroke-width="0.6" opacity="1"/>
<path d="M392.84,134.27 L395.54,139.4 L390.14,139.4 Z" fill="#2a78e4" stroke="none" stroke-width="0.6" opacity="1"/>
<path d="M395.5,133.23 L398.2,138.36 L392.8,138.36 Z" fill="#2a78e4" stroke="none" stroke-width="0.6" opacity="1"/>
<path d="M398.08,131.97 L400.78,137.1 L395.38,137.1 Z" fill="#2a78e4" stroke="none" stroke-width="0.6" opacity="1"/>
<path d="M400.52,130.47 L403.22,135.6 L397.82,135.6 Z" fill="#2a78e4" stroke="none" stroke-width="0.6" opacity="1"/>
<path d="M402.88,128.88 L405.58,134.01 L400.18,134.01 Z" fill="#2a78e4" stroke="none" stroke-width="0.6" opacity="1"/>
<path d="M405.17,127.36 L407.87,132.49 L402.47,132.49 Z" fill="#2a78e4" stroke="none" stroke-width="0.6" opacity="1"/>
<path d="M407.56,125.78 L410.26,130.91 L404.86,130.91 Z" fill="#2a78e4" stroke="none" stroke-width="0.6" opacity="1"/>
<path d="M409.97,124.11 L412.67,129.24 L407.27,129.24 Z" fill="#2a78e4" stroke="none" stroke-width="0.6" opacity="1"/>
<path d="M412.09,122.54 L414.79,127.67 L409.39,127.67 Z" fill="#2a78e4" stroke="none" stroke-width="0.6" opacity="1"/>
<path d="M414.21,120.84 L416.91,125.97 L411.51,125.97 Z" fill="#2a78e4" stroke="none" stroke-width="0.6" opacity="1"/>
<path d="M416.33,119 L419.03,124.13 L413.63,124.13 Z" fill="#2a78e4" stroke="none" stroke-width="0.6" opacity="1"/>
<path d="M418.46,117.06 L421.16,122.19 L415.76,122.19 Z" fill="#2a78e4" stroke="none" stroke-width="0.6" opacity="1"/>
<path d="M420.59,115.11 L423.29,120.24 L417.89,120.24 Z" fill="#2a78e4" stroke="none" stroke-width="0.6" opacity="1"/>
<path d="M422.7,113.18 L425.4,118.31 L420,118.31 Z" fill="#2a78e4" stroke="none" stroke-width="0.6" opacity="1"/>
<path d="M424.78,111.22 L427.48,116.35 L422.08,116.35 Z" fill="#2a78e4" stroke="none" stroke-width="0.6" opacity="1"/>
<path d="M426.85,109.24 L429.55,114.37 L424.15,114.37 Z" fill="#2a78e4" stroke="none" stroke-width="0.6" opacity="1"/>
<path d="M428.94,107.32 L431.64,112.45 L426.24,112.45 Z" fill="#2a78e4" stroke="none" stroke-width="0.6" opacity="1"/>
<path d="M431.1,105.53 L433.8,110.66 L428.4,110.66 Z" fill="#2a78e4" stroke="none" stroke-width="0.6" opacity="1"/>
<path d="M433.55,103.8 L436.25,108.93 L430.85,108.93 Z" fill="#2a78e4" stroke="none" stroke-width="0.6" opacity="1"/>
<path d="M435.85,102.33 L438.55,107.46 L433.15,107.46 Z" fill="#2a78e4" stroke="none" stroke-width="0.6" opacity="1"/>
<path d="M438.4,100.79 L441.1,105.92 L435.7,105.92 Z" fill="#2a78e4" stroke="none" stroke-width="0.6" opacity="1"/>
<path d="M440.82,99.34 L443.52,104.47 L438.12,104.47 Z" fill="#2a78e4" stroke="none" stroke-width="0.6" opacity="1"/>
<path d="M287.6,245 L288.1,243.79 L288.73,242.23 L289.49,240.39 L290.33,238.31 L291.24,236.07 L292.21,233.72 L293.19,231.31 L294.18,228.91 L295.15,226.57 L296.07,224.35 L296.93,222.3 L297.7,220.5 L298.4,218.89 L299.08,217.39 L299.73,215.98 L300.36,214.65 L300.97,213.38 L301.56,212.16 L302.13,210.97 L302.69,209.8 L303.23,208.63 L303.76,207.45 L304.28,206.25 L304.8,205 L305.3,203.73 L305.77,202.46 L306.23,201.19 L306.67,199.93 L307.09,198.66 L307.51,197.41 L307.92,196.15 L308.32,194.91 L308.73,193.67 L309.14,192.44 L309.57,191.21 L310,190 L310.44,188.79 L310.88,187.57 L311.31,186.36 L311.75,185.15 L312.19,183.94 L312.63,182.75 L313.08,181.57 L313.53,180.41 L313.98,179.27 L314.45,178.15 L314.92,177.06 L315.4,176 L315.87,174.97 L316.32,173.98 L316.75,173 L317.19,172.06 L317.62,171.13 L318.07,170.22 L318.55,169.33 L319.07,168.44 L319.63,167.57 L320.25,166.71 L320.94,165.85 L321.7,165 L322.57,164.14 L323.55,163.26 L324.62,162.37 L325.76,161.49 L326.95,160.62 L328.16,159.76 L329.37,158.94 L330.56,158.14 L331.71,157.4 L332.8,156.7 L333.81,156.07 L334.7,155.5 L335.49,155.01 L336.2,154.6 L336.84,154.25 L337.43,153.95 L337.98,153.69 L338.49,153.47 L338.99,153.28 L339.49,153.1 L340,152.92 L340.53,152.73 L341.09,152.53 L341.7,152.3 L342.32,152.06 L342.92,151.85 L343.5,151.64 L344.08,151.45 L344.67,151.26 L345.27,151.06 L345.92,150.86 L346.6,150.65 L347.34,150.43 L348.14,150.18 L349.03,149.9 L350,149.6 L351.07,149.26 L352.24,148.89 L353.49,148.49 L354.81,148.07 L356.18,147.64 L357.6,147.19 L359.04,146.74 L360.5,146.29 L361.96,145.85 L363.4,145.41 L364.82,145 L366.2,144.6 L367.57,144.22 L368.95,143.85 L370.35,143.49 L371.75,143.14 L373.15,142.79 L374.55,142.45 L375.94,142.11 L377.31,141.77 L378.65,141.43 L379.97,141.09 L381.26,140.75 L382.5,140.4 L383.71,140.05 L384.91,139.71 L386.09,139.37 L387.24,139.03 L388.38,138.7 L389.49,138.36 L390.57,138.01 L391.62,137.67 L392.64,137.31 L393.63,136.95 L394.58,136.58 L395.5,136.2 L396.36,135.81 L397.17,135.42 L397.93,135.02 L398.65,134.61 L399.34,134.2 L400,133.78 L400.65,133.36 L401.3,132.92 L401.95,132.48 L402.61,132.03 L403.29,131.57 L404,131.1 L404.73,130.62 L405.47,130.14 L406.21,129.65 L406.96,129.16 L407.71,128.65 L408.46,128.14 L409.22,127.61 L409.97,127.08 L410.73,126.53 L411.49,125.97 L412.24,125.39 L413,124.8 L413.76,124.19 L414.51,123.56 L415.27,122.9 L416.03,122.24 L416.79,121.56 L417.55,120.87 L418.31,120.17 L419.07,119.47 L419.83,118.77 L420.59,118.08 L421.34,117.38 L422.1,116.7 L422.85,116.01 L423.6,115.32 L424.34,114.61 L425.07,113.9 L425.81,113.19 L426.55,112.49 L427.29,111.79 L428.04,111.1 L428.79,110.42 L429.55,109.76 L430.32,109.12 L431.1,108.5 L431.93,107.89 L432.81,107.27 L433.74,106.64 L434.7,106.03 L435.66,105.42 L436.61,104.84 L437.53,104.28 L438.4,103.76 L439.2,103.29 L439.91,102.86 L440.52,102.5 L441,102.2" fill="none" stroke="#2a78e4" stroke-width="1.8" stroke-opacity="1" stroke-linejoin="round" />
<path d="M297.7,220.5 L298.05,219.75 L298.49,218.81 L299.02,217.7 L299.61,216.46 L300.25,215.12 L300.93,213.69 L301.62,212.21 L302.31,210.7 L302.99,209.2 L303.64,207.73 L304.25,206.32 L304.8,205 L305.3,203.73 L305.77,202.46 L306.23,201.19 L306.67,199.93 L307.09,198.66 L307.51,197.41 L307.92,196.15 L308.32,194.91 L308.73,193.67 L309.14,192.44 L309.57,191.21 L310,190 L310.44,188.79 L310.88,187.57 L311.31,186.36 L311.75,185.15 L312.19,183.94 L312.63,182.75 L313.08,181.57 L313.53,180.41 L313.98,179.27 L314.45,178.15 L314.92,177.06 L315.4,176 L315.87,174.97 L316.32,173.98 L316.75,173 L317.19,172.06 L317.62,171.13 L318.07,170.22 L318.55,169.33 L319.07,168.44 L319.63,167.57 L320.25,166.71 L320.94,165.85 L321.7,165 L322.57,164.14 L323.55,163.26 L324.62,162.37 L325.76,161.49 L326.95,160.62 L328.16,159.76 L329.37,158.94 L330.56,158.14 L331.71,157.4 L332.8,156.7 L333.81,156.07 L334.7,155.5 L335.49,155.01 L336.2,154.6 L336.84,154.25 L337.43,153.95 L337.98,153.69 L338.49,153.47 L338.99,153.28 L339.49,153.1 L340,152.92 L340.53,152.73 L341.09,152.53 L341.7,152.3 L342.32,152.06 L342.92,151.85 L343.5,151.64 L344.08,151.45 L344.67,151.26 L345.27,151.06 L345.92,150.86 L346.6,150.65 L347.34,150.43 L348.14,150.18 L349.03,149.9 L350,149.6 L351.07,149.26 L352.24,148.89 L353.49,148.49 L354.81,148.07 L356.18,147.64 L357.6,147.19 L359.04,146.74 L360.5,146.29 L361.96,145.85 L363.4,145.41 L364.82,145 L366.2,144.6 L367.57,144.22 L368.95,143.85 L370.35,143.49 L371.75,143.14 L373.15,142.79 L374.55,142.45 L375.94,142.11 L377.31,141.77 L378.65,141.43 L379.97,141.09 L381.26,140.75 L382.5,140.4 L383.71,140.05 L384.91,139.71 L386.09,139.37 L387.24,139.03 L388.38,138.7 L389.49,138.36 L390.57,138.01 L391.62,137.67 L392.64,137.31 L393.63,136.95 L394.58,136.58 L395.5,136.2 L396.36,135.81 L397.17,135.42 L397.93,135.02 L398.65,134.61 L399.34,134.2 L400,133.78 L400.65,133.36 L401.3,132.92 L401.95,132.48 L402.61,132.03 L403.29,131.57 L404,131.1 L404.73,130.62 L405.47,130.14 L406.21,129.65 L406.96,129.16 L407.71,128.65 L408.46,128.14 L409.22,127.61 L409.97,127.08 L410.73,126.53 L411.49,125.97 L412.24,125.39 L413,124.8 L413.76,124.19 L414.51,123.56 L415.27,122.9 L416.03,122.24 L416.79,121.56 L417.55,120.87 L418.31,120.17 L419.07,119.47 L419.83,118.77 L420.59,118.08 L421.34,117.38 L422.1,116.7 L422.85,116.01 L423.6,115.32 L424.34,114.61 L425.07,113.9 L425.81,113.19 L426.55,112.49 L427.29,111.79 L428.04,111.1 L428.79,110.42 L429.55,109.76 L430.32,109.12 L431.1,108.5 L431.93,107.89 L432.81,107.27 L433.74,106.64 L434.7,106.03 L435.66,105.42 L436.61,104.84 L437.53,104.28 L438.4,103.76 L439.2,103.29 L439.91,102.86 L440.52,102.5 L441,102.2" fill="none" stroke="#2a78e4" stroke-width="3.0" stroke-opacity="1" stroke-linejoin="round" />
<path d="M284.44,170.35 L286.74,174.72 L282.14,174.72 Z" fill="#fff" stroke="#3573d4" stroke-width="0.9" opacity="1"/>
<path d="M285.88,168.23 L288.18,172.6 L283.58,172.6 Z" fill="#fff" stroke="#3573d4" stroke-width="0.9" opacity="1"/>
<path d="M287.37,166.05 L289.67,170.42 L285.07,170.42 Z" fill="#fff" stroke="#3573d4" stroke-width="0.9" opacity="1"/>
<path d="M288.76,164.05 L291.06,168.42 L286.46,168.42 Z" fill="#fff" stroke="#3573d4" stroke-width="0.9" opacity="1"/>
<path d="M290.16,162.1 L292.46,166.47 L287.86,166.47 Z" fill="#fff" stroke="#3573d4" stroke-width="0.9" opacity="1"/>
<path d="M291.66,160.1 L293.96,164.47 L289.36,164.47 Z" fill="#fff" stroke="#3573d4" stroke-width="0.9" opacity="1"/>
<path d="M293.25,158.09 L295.55,162.46 L290.95,162.46 Z" fill="#fff" stroke="#3573d4" stroke-width="0.9" opacity="1"/>
<path d="M294.87,156.12 L297.17,160.49 L292.57,160.49 Z" fill="#fff" stroke="#3573d4" stroke-width="0.9" opacity="1"/>
<path d="M296.44,154.22 L298.74,158.59 L294.14,158.59 Z" fill="#fff" stroke="#3573d4" stroke-width="0.9" opacity="1"/>
<path d="M297.9,152.42 L300.2,156.79 L295.6,156.79 Z" fill="#fff" stroke="#3573d4" stroke-width="0.9" opacity="1"/>
<path d="M299.37,150.57 L301.67,154.94 L297.07,154.94 Z" fill="#fff" stroke="#3573d4" stroke-width="0.9" opacity="1"/>
<path d="M300.89,148.63 L303.19,153 L298.59,153 Z" fill="#fff" stroke="#3573d4" stroke-width="0.9" opacity="1"/>
<path d="M302.51,146.67 L304.81,151.04 L300.21,151.04 Z" fill="#fff" stroke="#3573d4" stroke-width="0.9" opacity="1"/>
<path d="M304.13,144.75 L306.43,149.12 L301.83,149.12 Z" fill="#fff" stroke="#3573d4" stroke-width="0.9" opacity="1"/>
<path d="M305.6,142.98 L307.9,147.35 L303.3,147.35 Z" fill="#fff" stroke="#3573d4" stroke-width="0.9" opacity="1"/>
<path d="M307.18,141.18 L309.48,145.55 L304.88,145.55 Z" fill="#fff" stroke="#3573d4" stroke-width="0.9" opacity="1"/>
<path d="M308.91,139.43 L311.21,143.8 L306.61,143.8 Z" fill="#fff" stroke="#3573d4" stroke-width="0.9" opacity="1"/>
<path d="M310.86,137.76 L313.16,142.13 L308.56,142.13 Z" fill="#fff" stroke="#3573d4" stroke-width="0.9" opacity="1"/>
<path d="M312.68,136.28 L314.98,140.65 L310.38,140.65 Z" fill="#fff" stroke="#3573d4" stroke-width="0.9" opacity="1"/>
<path d="M314.62,134.83 L316.92,139.2 L312.32,139.2 Z" fill="#fff" stroke="#3573d4" stroke-width="0.9" opacity="1"/>
<path d="M316.68,133.5 L318.98,137.87 L314.38,137.87 Z" fill="#fff" stroke="#3573d4" stroke-width="0.9" opacity="1"/>
<path d="M318.86,132.4 L321.16,136.77 L316.56,136.77 Z" fill="#fff" stroke="#3573d4" stroke-width="0.9" opacity="1"/>
<path d="M321.12,131.63 L323.42,136 L318.82,136 Z" fill="#fff" stroke="#3573d4" stroke-width="0.9" opacity="1"/>
<path d="M323.59,131.14 L325.89,135.51 L321.29,135.51 Z" fill="#fff" stroke="#3573d4" stroke-width="0.9" opacity="1"/>
<path d="M326.23,130.93 L328.53,135.3 L323.93,135.3 Z" fill="#fff" stroke="#3573d4" stroke-width="0.9" opacity="1"/>
<path d="M328.94,130.86 L331.24,135.23 L326.64,135.23 Z" fill="#fff" stroke="#3573d4" stroke-width="0.9" opacity="1"/>
<path d="M331.72,130.81 L334.02,135.18 L329.42,135.18 Z" fill="#fff" stroke="#3573d4" stroke-width="0.9" opacity="1"/>
<path d="M334.43,130.73 L336.73,135.1 L332.13,135.1 Z" fill="#fff" stroke="#3573d4" stroke-width="0.9" opacity="1"/>
<path d="M336.89,130.69 L339.19,135.06 L334.59,135.06 Z" fill="#fff" stroke="#3573d4" stroke-width="0.9" opacity="1"/>
<path d="M339.64,130.67 L341.94,135.04 L337.34,135.04 Z" fill="#fff" stroke="#3573d4" stroke-width="0.9" opacity="1"/>
<path d="M342.6,130.67 L344.9,135.04 L340.3,135.04 Z" fill="#fff" stroke="#3573d4" stroke-width="0.9" opacity="1"/>
<path d="M345.67,130.67 L347.97,135.04 L343.37,135.04 Z" fill="#fff" stroke="#3573d4" stroke-width="0.9" opacity="1"/>
<path d="M348.75,130.68 L351.05,135.05 L346.45,135.05 Z" fill="#fff" stroke="#3573d4" stroke-width="0.9" opacity="1"/>
<path d="M351.76,130.68 L354.06,135.05 L349.46,135.05 Z" fill="#fff" stroke="#3573d4" stroke-width="0.9" opacity="1"/>
<path d="M354.59,130.69 L356.89,135.06 L352.29,135.06 Z" fill="#fff" stroke="#3573d4" stroke-width="0.9" opacity="1"/>
<path d="M357.15,130.69 L359.45,135.06 L354.85,135.06 Z" fill="#fff" stroke="#3573d4" stroke-width="0.9" opacity="1"/>
<path d="M360,130.67 L362.3,135.04 L357.7,135.04 Z" fill="#fff" stroke="#3573d4" stroke-width="0.9" opacity="1"/>
<path d="M362.67,130.63 L364.97,135 L360.37,135 Z" fill="#fff" stroke="#3573d4" stroke-width="0.9" opacity="1"/>
<path d="M365.01,130.58 L367.31,134.95 L362.71,134.95 Z" fill="#fff" stroke="#3573d4" stroke-width="0.9" opacity="1"/>
<path d="M367.44,130.48 L369.74,134.85 L365.14,134.85 Z" fill="#fff" stroke="#3573d4" stroke-width="0.9" opacity="1"/>
<path d="M369.8,130.27 L372.1,134.64 L367.5,134.64 Z" fill="#fff" stroke="#3573d4" stroke-width="0.9" opacity="1"/>
<path d="M372.12,130.02 L374.42,134.39 L369.82,134.39 Z" fill="#fff" stroke="#3573d4" stroke-width="0.9" opacity="1"/>
<path d="M374.42,129.57 L376.72,133.94 L372.12,133.94 Z" fill="#fff" stroke="#3573d4" stroke-width="0.9" opacity="1"/>
<path d="M376.63,128.67 L378.93,133.04 L374.33,133.04 Z" fill="#fff" stroke="#3573d4" stroke-width="0.9" opacity="1"/>
<path d="M378.74,127.43 L381.04,131.8 L376.44,131.8 Z" fill="#fff" stroke="#3573d4" stroke-width="0.9" opacity="1"/>
<path d="M380.69,126 L382.99,130.37 L378.39,130.37 Z" fill="#fff" stroke="#3573d4" stroke-width="0.9" opacity="1"/>
<path d="M382.5,124.47 L384.8,128.84 L380.2,128.84 Z" fill="#fff" stroke="#3573d4" stroke-width="0.9" opacity="1"/>
<path d="M384.32,122.69 L386.62,127.06 L382.02,127.06 Z" fill="#fff" stroke="#3573d4" stroke-width="0.9" opacity="1"/>
<path d="M385.93,120.94 L388.23,125.31 L383.63,125.31 Z" fill="#fff" stroke="#3573d4" stroke-width="0.9" opacity="1"/>
<path d="M387.68,118.98 L389.98,123.35 L385.38,123.35 Z" fill="#fff" stroke="#3573d4" stroke-width="0.9" opacity="1"/>
<path d="M389.38,117.13 L391.68,121.5 L387.08,121.5 Z" fill="#fff" stroke="#3573d4" stroke-width="0.9" opacity="1"/>
<path d="M391,115.45 L393.3,119.82 L388.7,119.82 Z" fill="#fff" stroke="#3573d4" stroke-width="0.9" opacity="1"/>
<path d="M392.82,113.64 L395.12,118.01 L390.52,118.01 Z" fill="#fff" stroke="#3573d4" stroke-width="0.9" opacity="1"/>
<path d="M394.78,111.71 L397.08,116.08 L392.48,116.08 Z" fill="#fff" stroke="#3573d4" stroke-width="0.9" opacity="1"/>
<path d="M396.82,109.68 L399.12,114.05 L394.52,114.05 Z" fill="#fff" stroke="#3573d4" stroke-width="0.9" opacity="1"/>
<path d="M398.46,107.99 L400.76,112.36 L396.16,112.36 Z" fill="#fff" stroke="#3573d4" stroke-width="0.9" opacity="1"/>
<path d="M400.06,106.25 L402.36,110.62 L397.76,110.62 Z" fill="#fff" stroke="#3573d4" stroke-width="0.9" opacity="1"/>
<path d="M401.6,104.47 L403.9,108.84 L399.3,108.84 Z" fill="#fff" stroke="#3573d4" stroke-width="0.9" opacity="1"/>
<path d="M403.08,102.62 L405.38,106.99 L400.78,106.99 Z" fill="#fff" stroke="#3573d4" stroke-width="0.9" opacity="1"/>
<path d="M404.53,100.69 L406.83,105.06 L402.23,105.06 Z" fill="#fff" stroke="#3573d4" stroke-width="0.9" opacity="1"/>
<path d="M405.97,98.69 L408.27,103.06 L403.67,103.06 Z" fill="#fff" stroke="#3573d4" stroke-width="0.9" opacity="1"/>
<path d="M407.4,96.64 L409.7,101.01 L405.1,101.01 Z" fill="#fff" stroke="#3573d4" stroke-width="0.9" opacity="1"/>
<path d="M408.82,94.58 L411.12,98.95 L406.52,98.95 Z" fill="#fff" stroke="#3573d4" stroke-width="0.9" opacity="1"/>
<path d="M410.25,92.52 L412.55,96.89 L407.95,96.89 Z" fill="#fff" stroke="#3573d4" stroke-width="0.9" opacity="1"/>
<path d="M411.68,90.48 L413.98,94.85 L409.38,94.85 Z" fill="#fff" stroke="#3573d4" stroke-width="0.9" opacity="1"/>
<path d="M413.11,88.48 L415.41,92.85 L410.81,92.85 Z" fill="#fff" stroke="#3573d4" stroke-width="0.9" opacity="1"/>
<path d="M414.46,86.52 L416.76,90.89 L412.16,90.89 Z" fill="#fff" stroke="#3573d4" stroke-width="0.9" opacity="1"/>
<path d="M415.77,84.58 L418.07,88.95 L413.47,88.95 Z" fill="#fff" stroke="#3573d4" stroke-width="0.9" opacity="1"/>
<path d="M417.09,82.64 L419.39,87.01 L414.79,87.01 Z" fill="#fff" stroke="#3573d4" stroke-width="0.9" opacity="1"/>
<path d="M418.45,80.69 L420.75,85.06 L416.15,85.06 Z" fill="#fff" stroke="#3573d4" stroke-width="0.9" opacity="1"/>
<path d="M419.9,78.69 L422.2,83.06 L417.6,83.06 Z" fill="#fff" stroke="#3573d4" stroke-width="0.9" opacity="1"/>
<path d="M421.51,76.62 L423.81,80.99 L419.21,80.99 Z" fill="#fff" stroke="#3573d4" stroke-width="0.9" opacity="1"/>
<path d="M423.3,74.47 L425.6,78.84 L421,78.84 Z" fill="#fff" stroke="#3573d4" stroke-width="0.9" opacity="1"/>
<path d="M424.87,72.71 L427.17,77.08 L422.57,77.08 Z" fill="#fff" stroke="#3573d4" stroke-width="0.9" opacity="1"/>
<path d="M426.69,70.77 L428.99,75.14 L424.39,75.14 Z" fill="#fff" stroke="#3573d4" stroke-width="0.9" opacity="1"/>
<path d="M428.67,68.72 L430.97,73.09 L426.37,73.09 Z" fill="#fff" stroke="#3573d4" stroke-width="0.9" opacity="1"/>
<path d="M430.74,66.62 L433.04,70.99 L428.44,70.99 Z" fill="#fff" stroke="#3573d4" stroke-width="0.9" opacity="1"/>
<path d="M432.83,64.53 L435.13,68.9 L430.53,68.9 Z" fill="#fff" stroke="#3573d4" stroke-width="0.9" opacity="1"/>
<path d="M434.87,62.52 L437.17,66.89 L432.57,66.89 Z" fill="#fff" stroke="#3573d4" stroke-width="0.9" opacity="1"/>
<path d="M436.78,60.64 L439.08,65.01 L434.48,65.01 Z" fill="#fff" stroke="#3573d4" stroke-width="0.9" opacity="1"/>
<path d="M438.48,58.97 L440.78,63.34 L436.18,63.34 Z" fill="#fff" stroke="#3573d4" stroke-width="0.9" opacity="1"/>
<path d="M440.32,57.15 L442.62,61.52 L438.02,61.52 Z" fill="#fff" stroke="#3573d4" stroke-width="0.9" opacity="1"/>
<path d="M276,185.5 L276.43,184.86 L276.97,184.04 L277.62,183.07 L278.34,181.98 L279.13,180.8 L279.96,179.56 L280.8,178.29 L281.66,177.02 L282.49,175.77 L283.29,174.59 L284.03,173.48 L284.7,172.5 L285.31,171.61 L285.88,170.76 L286.43,169.95 L286.96,169.18 L287.47,168.43 L287.98,167.71 L288.47,167 L288.96,166.3 L289.45,165.61 L289.95,164.91 L290.47,164.21 L291,163.5 L291.55,162.78 L292.11,162.06 L292.68,161.34 L293.25,160.62 L293.83,159.91 L294.41,159.21 L294.98,158.51 L295.55,157.82 L296.11,157.15 L296.65,156.48 L297.19,155.83 L297.7,155.2 L298.19,154.59 L298.66,154 L299.11,153.43 L299.54,152.88 L299.97,152.34 L300.39,151.8 L300.81,151.27 L301.24,150.73 L301.68,150.19 L302.13,149.64 L302.6,149.08 L303.1,148.5 L303.61,147.9 L304.13,147.28 L304.65,146.66 L305.17,146.02 L305.71,145.38 L306.26,144.74 L306.83,144.09 L307.41,143.46 L308.02,142.82 L308.65,142.2 L309.31,141.59 L310,141 L310.72,140.41 L311.45,139.8 L312.21,139.18 L312.99,138.56 L313.79,137.95 L314.62,137.36 L315.46,136.78 L316.33,136.24 L317.22,135.73 L318.12,135.27 L319.05,134.85 L320,134.5 L320.93,134.21 L321.83,133.98 L322.71,133.8 L323.59,133.67 L324.5,133.57 L325.44,133.5 L326.44,133.45 L327.52,133.42 L328.7,133.4 L329.99,133.38 L331.42,133.34 L333,133.3 L334.81,133.25 L336.89,133.22 L339.17,133.2 L341.6,133.2 L344.13,133.2 L346.7,133.2 L349.26,133.21 L351.76,133.21 L354.13,133.22 L356.33,133.22 L358.31,133.22 L360,133.2 L361.43,133.18 L362.67,133.16 L363.74,133.14 L364.67,133.12 L365.48,133.1 L366.2,133.08 L366.84,133.05 L367.44,133.01 L368.01,132.97 L368.57,132.92 L369.16,132.87 L369.8,132.8 L370.44,132.73 L371.04,132.67 L371.6,132.61 L372.12,132.55 L372.62,132.48 L373.11,132.41 L373.58,132.31 L374.04,132.2 L374.51,132.07 L374.99,131.91 L375.48,131.72 L376,131.5 L376.53,131.25 L377.05,130.98 L377.58,130.68 L378.11,130.37 L378.64,130.03 L379.17,129.67 L379.71,129.29 L380.25,128.88 L380.8,128.45 L381.36,127.99 L381.92,127.51 L382.5,127 L383.08,126.47 L383.64,125.92 L384.21,125.34 L384.77,124.74 L385.35,124.12 L385.93,123.47 L386.53,122.79 L387.16,122.09 L387.81,121.36 L388.5,120.61 L389.23,119.82 L390,119 L390.83,118.15 L391.71,117.27 L392.63,116.35 L393.59,115.41 L394.58,114.44 L395.59,113.44 L396.62,112.42 L397.64,111.37 L398.66,110.3 L399.67,109.22 L400.65,108.12 L401.6,107 L402.53,105.86 L403.45,104.67 L404.35,103.46 L405.26,102.22 L406.15,100.96 L407.04,99.69 L407.93,98.4 L408.82,97.11 L409.71,95.82 L410.6,94.53 L411.5,93.26 L412.4,92 L413.28,90.76 L414.13,89.53 L414.96,88.32 L415.77,87.11 L416.59,85.9 L417.42,84.69 L418.27,83.46 L419.16,82.22 L420.09,80.96 L421.09,79.67 L422.15,78.36 L423.3,77 L424.59,75.55 L426.06,73.97 L427.66,72.29 L429.35,70.56 L431.09,68.8 L432.83,67.06 L434.54,65.38 L436.16,63.78 L437.66,62.3 L439,60.99 L440.12,59.88 L441,59" fill="none" stroke="#1a55b0" stroke-width="1.5" stroke-dasharray="3,2.6" stroke-opacity="1" stroke-linejoin="round" transform="translate(0,-2.2)"/>
<path d="M284.66,184.31 L287.36,189.44 L281.96,189.44 Z" fill="#1f64cc" stroke="none" stroke-width="0.6" opacity="1"/>
<path d="M286.24,182.08 L288.94,187.21 L283.54,187.21 Z" fill="#1f64cc" stroke="none" stroke-width="0.6" opacity="1"/>
<path d="M287.8,179.82 L290.5,184.95 L285.1,184.95 Z" fill="#1f64cc" stroke="none" stroke-width="0.6" opacity="1"/>
<path d="M289.29,177.59 L291.99,182.72 L286.59,182.72 Z" fill="#1f64cc" stroke="none" stroke-width="0.6" opacity="1"/>
<path d="M290.74,175.34 L293.44,180.47 L288.04,180.47 Z" fill="#1f64cc" stroke="none" stroke-width="0.6" opacity="1"/>
<path d="M292.18,173.05 L294.88,178.18 L289.48,178.18 Z" fill="#1f64cc" stroke="none" stroke-width="0.6" opacity="1"/>
<path d="M293.6,170.72 L296.3,175.85 L290.9,175.85 Z" fill="#1f64cc" stroke="none" stroke-width="0.6" opacity="1"/>
<path d="M295.03,168.35 L297.73,173.48 L292.33,173.48 Z" fill="#1f64cc" stroke="none" stroke-width="0.6" opacity="1"/>
<path d="M296.45,165.96 L299.15,171.09 L293.75,171.09 Z" fill="#1f64cc" stroke="none" stroke-width="0.6" opacity="1"/>
<path d="M297.89,163.54 L300.59,168.67 L295.19,168.67 Z" fill="#1f64cc" stroke="none" stroke-width="0.6" opacity="1"/>
<path d="M299.38,160.99 L302.08,166.12 L296.68,166.12 Z" fill="#1f64cc" stroke="none" stroke-width="0.6" opacity="1"/>
<path d="M300.91,158.33 L303.61,163.46 L298.21,163.46 Z" fill="#1f64cc" stroke="none" stroke-width="0.6" opacity="1"/>
<path d="M302.43,155.66 L305.13,160.79 L299.73,160.79 Z" fill="#1f64cc" stroke="none" stroke-width="0.6" opacity="1"/>
<path d="M303.91,153.08 L306.61,158.21 L301.21,158.21 Z" fill="#1f64cc" stroke="none" stroke-width="0.6" opacity="1"/>
<path d="M305.29,150.71 L307.99,155.84 L302.59,155.84 Z" fill="#1f64cc" stroke="none" stroke-width="0.6" opacity="1"/>
<path d="M306.77,148.27 L309.47,153.4 L304.07,153.4 Z" fill="#1f64cc" stroke="none" stroke-width="0.6" opacity="1"/>
<path d="M308.22,146 L310.92,151.13 L305.52,151.13 Z" fill="#1f64cc" stroke="none" stroke-width="0.6" opacity="1"/>
<path d="M309.84,143.62 L312.54,148.75 L307.14,148.75 Z" fill="#1f64cc" stroke="none" stroke-width="0.6" opacity="1"/>
<path d="M311.43,141.35 L314.13,146.48 L308.73,146.48 Z" fill="#1f64cc" stroke="none" stroke-width="0.6" opacity="1"/>
<path d="M312.98,139.09 L315.68,144.22 L310.28,144.22 Z" fill="#1f64cc" stroke="none" stroke-width="0.6" opacity="1"/>
<path d="M314.58,136.74 L317.28,141.87 L311.88,141.87 Z" fill="#1f64cc" stroke="none" stroke-width="0.6" opacity="1"/>
<path d="M316.19,134.43 L318.89,139.56 L313.49,139.56 Z" fill="#1f64cc" stroke="none" stroke-width="0.6" opacity="1"/>
<path d="M317.8,132.28 L320.5,137.41 L315.1,137.41 Z" fill="#1f64cc" stroke="none" stroke-width="0.6" opacity="1"/>
<path d="M319.6,130.09 L322.3,135.22 L316.9,135.22 Z" fill="#1f64cc" stroke="none" stroke-width="0.6" opacity="1"/>
<path d="M321.4,128.07 L324.1,133.2 L318.7,133.2 Z" fill="#1f64cc" stroke="none" stroke-width="0.6" opacity="1"/>
<path d="M323.4,126.07 L326.1,131.2 L320.7,131.2 Z" fill="#1f64cc" stroke="none" stroke-width="0.6" opacity="1"/>
<path d="M325.45,124.29 L328.15,129.42 L322.75,129.42 Z" fill="#1f64cc" stroke="none" stroke-width="0.6" opacity="1"/>
<path d="M327.58,122.79 L330.28,127.92 L324.88,127.92 Z" fill="#1f64cc" stroke="none" stroke-width="0.6" opacity="1"/>
<path d="M330,121.53 L332.7,126.66 L327.3,126.66 Z" fill="#1f64cc" stroke="none" stroke-width="0.6" opacity="1"/>
<path d="M332.45,120.44 L335.15,125.57 L329.75,125.57 Z" fill="#1f64cc" stroke="none" stroke-width="0.6" opacity="1"/>
<path d="M334.88,119.47 L337.57,124.6 L332.18,124.6 Z" fill="#1f64cc" stroke="none" stroke-width="0.6" opacity="1"/>
<path d="M337.72,118.47 L340.42,123.6 L335.02,123.6 Z" fill="#1f64cc" stroke="none" stroke-width="0.6" opacity="1"/>
<path d="M340.62,117.55 L343.32,122.68 L337.92,122.68 Z" fill="#1f64cc" stroke="none" stroke-width="0.6" opacity="1"/>
<path d="M343.48,116.72 L346.18,121.85 L340.78,121.85 Z" fill="#1f64cc" stroke="none" stroke-width="0.6" opacity="1"/>
<path d="M346.16,116 L348.86,121.13 L343.46,121.13 Z" fill="#1f64cc" stroke="none" stroke-width="0.6" opacity="1"/>
<path d="M349.1,115.25 L351.8,120.38 L346.4,120.38 Z" fill="#1f64cc" stroke="none" stroke-width="0.6" opacity="1"/>
<path d="M352.19,114.47 L354.89,119.6 L349.49,119.6 Z" fill="#1f64cc" stroke="none" stroke-width="0.6" opacity="1"/>
<path d="M355.32,113.7 L358.02,118.83 L352.62,118.83 Z" fill="#1f64cc" stroke="none" stroke-width="0.6" opacity="1"/>
<path d="M358.39,112.95 L361.09,118.08 L355.69,118.08 Z" fill="#1f64cc" stroke="none" stroke-width="0.6" opacity="1"/>
<path d="M361.29,112.23 L363.99,117.36 L358.59,117.36 Z" fill="#1f64cc" stroke="none" stroke-width="0.6" opacity="1"/>
<path d="M363.93,111.57 L366.63,116.7 L361.23,116.7 Z" fill="#1f64cc" stroke="none" stroke-width="0.6" opacity="1"/>
<path d="M366.88,110.86 L369.58,115.99 L364.18,115.99 Z" fill="#1f64cc" stroke="none" stroke-width="0.6" opacity="1"/>
<path d="M369.58,110.23 L372.28,115.36 L366.88,115.36 Z" fill="#1f64cc" stroke="none" stroke-width="0.6" opacity="1"/>
<path d="M372.17,109.63 L374.87,114.76 L369.47,114.76 Z" fill="#1f64cc" stroke="none" stroke-width="0.6" opacity="1"/>
<path d="M374.78,108.99 L377.48,114.12 L372.08,114.12 Z" fill="#1f64cc" stroke="none" stroke-width="0.6" opacity="1"/>
<path d="M377.57,108.25 L380.27,113.38 L374.87,113.38 Z" fill="#1f64cc" stroke="none" stroke-width="0.6" opacity="1"/>
<path d="M380.65,107.33 L383.35,112.46 L377.95,112.46 Z" fill="#1f64cc" stroke="none" stroke-width="0.6" opacity="1"/>
<path d="M383.45,106.49 L386.15,111.62 L380.75,111.62 Z" fill="#1f64cc" stroke="none" stroke-width="0.6" opacity="1"/>
<path d="M386.47,105.57 L389.17,110.7 L383.77,110.7 Z" fill="#1f64cc" stroke="none" stroke-width="0.6" opacity="1"/>
<path d="M389.61,104.59 L392.31,109.72 L386.91,109.72 Z" fill="#1f64cc" stroke="none" stroke-width="0.6" opacity="1"/>
<path d="M392.76,103.56 L395.46,108.69 L390.06,108.69 Z" fill="#1f64cc" stroke="none" stroke-width="0.6" opacity="1"/>
<path d="M395.79,102.49 L398.49,107.62 L393.09,107.62 Z" fill="#1f64cc" stroke="none" stroke-width="0.6" opacity="1"/>
<path d="M398.59,101.41 L401.29,106.53 L395.89,106.53 Z" fill="#1f64cc" stroke="none" stroke-width="0.6" opacity="1"/>
<path d="M401.05,100.31 L403.75,105.44 L398.35,105.44 Z" fill="#1f64cc" stroke="none" stroke-width="0.6" opacity="1"/>
<path d="M403.54,98.92 L406.24,104.05 L400.84,104.05 Z" fill="#1f64cc" stroke="none" stroke-width="0.6" opacity="1"/>
<path d="M405.86,97.21 L408.56,102.34 L403.16,102.34 Z" fill="#1f64cc" stroke="none" stroke-width="0.6" opacity="1"/>
<path d="M408.03,95.14 L410.73,100.27 L405.33,100.27 Z" fill="#1f64cc" stroke="none" stroke-width="0.6" opacity="1"/>
<path d="M410.04,92.98 L412.74,98.11 L407.34,98.11 Z" fill="#1f64cc" stroke="none" stroke-width="0.6" opacity="1"/>
<path d="M412,91.03 L414.7,96.16 L409.3,96.16 Z" fill="#1f64cc" stroke="none" stroke-width="0.6" opacity="1"/>
<path d="M414.1,89.02 L416.8,94.15 L411.4,94.15 Z" fill="#1f64cc" stroke="none" stroke-width="0.6" opacity="1"/>
<path d="M416.15,86.96 L418.85,92.09 L413.45,92.09 Z" fill="#1f64cc" stroke="none" stroke-width="0.6" opacity="1"/>
<path d="M418.28,84.81 L420.98,89.94 L415.58,89.94 Z" fill="#1f64cc" stroke="none" stroke-width="0.6" opacity="1"/>
<path d="M420.21,82.93 L422.91,88.06 L417.51,88.06 Z" fill="#1f64cc" stroke="none" stroke-width="0.6" opacity="1"/>
<path d="M422.36,80.95 L425.06,86.08 L419.66,86.08 Z" fill="#1f64cc" stroke="none" stroke-width="0.6" opacity="1"/>
<path d="M424.33,79.25 L427.03,84.38 L421.63,84.38 Z" fill="#1f64cc" stroke="none" stroke-width="0.6" opacity="1"/>
<path d="M426.71,77.29 L429.41,82.42 L424.01,82.42 Z" fill="#1f64cc" stroke="none" stroke-width="0.6" opacity="1"/>
<path d="M429.38,75.14 L432.08,80.27 L426.68,80.27 Z" fill="#1f64cc" stroke="none" stroke-width="0.6" opacity="1"/>
<path d="M431.47,73.49 L434.17,78.62 L428.77,78.62 Z" fill="#1f64cc" stroke="none" stroke-width="0.6" opacity="1"/>
<path d="M433.54,71.86 L436.24,76.99 L430.84,76.99 Z" fill="#1f64cc" stroke="none" stroke-width="0.6" opacity="1"/>
<path d="M436.17,69.8 L438.87,74.93 L433.47,74.93 Z" fill="#1f64cc" stroke="none" stroke-width="0.6" opacity="1"/>
<path d="M438.49,68 L441.19,73.13 L435.79,73.13 Z" fill="#1f64cc" stroke="none" stroke-width="0.6" opacity="1"/>
<path d="M440.68,66.28 L443.38,71.41 L437.98,71.41 Z" fill="#1f64cc" stroke="none" stroke-width="0.6" opacity="1"/>
<path d="M273.8,200 L274.09,199.71 L274.44,199.36 L274.85,198.97 L275.3,198.54 L275.8,198.06 L276.34,197.53 L276.9,196.96 L277.5,196.35 L278.11,195.7 L278.73,195.01 L279.37,194.27 L280,193.5 L280.65,192.67 L281.34,191.78 L282.06,190.83 L282.81,189.83 L283.57,188.79 L284.35,187.72 L285.14,186.62 L285.93,185.5 L286.71,184.37 L287.49,183.24 L288.26,182.11 L289,181 L289.73,179.89 L290.46,178.77 L291.18,177.63 L291.89,176.48 L292.61,175.32 L293.32,174.16 L294.03,172.98 L294.74,171.8 L295.45,170.61 L296.17,169.41 L296.88,168.21 L297.6,167 L298.33,165.76 L299.08,164.48 L299.84,163.17 L300.6,161.83 L301.37,160.49 L302.13,159.16 L302.88,157.84 L303.62,156.56 L304.33,155.32 L305.02,154.14 L305.68,153.03 L306.3,152 L306.88,151.06 L307.42,150.21 L307.93,149.42 L308.41,148.69 L308.87,148 L309.32,147.34 L309.76,146.71 L310.19,146.09 L310.62,145.47 L311.07,144.84 L311.52,144.19 L312,143.5 L312.49,142.79 L312.98,142.06 L313.48,141.33 L313.98,140.59 L314.48,139.86 L314.98,139.12 L315.48,138.4 L315.99,137.69 L316.49,136.98 L317,136.3 L317.5,135.64 L318,135 L318.5,134.38 L319,133.77 L319.5,133.18 L320,132.59 L320.5,132.02 L321,131.47 L321.5,130.93 L322,130.41 L322.5,129.9 L323,129.42 L323.5,128.95 L324,128.5 L324.48,128.08 L324.93,127.69 L325.37,127.33 L325.79,126.99 L326.21,126.67 L326.64,126.36 L327.1,126.06 L327.58,125.76 L328.1,125.46 L328.67,125.16 L329.3,124.84 L330,124.5 L330.74,124.16 L331.51,123.81 L332.29,123.47 L333.11,123.13 L333.97,122.79 L334.88,122.44 L335.83,122.09 L336.86,121.73 L337.95,121.37 L339.11,120.99 L340.36,120.6 L341.7,120.2 L343.17,119.78 L344.78,119.34 L346.52,118.88 L348.35,118.41 L350.25,117.93 L352.19,117.44 L354.15,116.96 L356.1,116.48 L358.01,116.01 L359.87,115.56 L361.64,115.12 L363.3,114.7 L364.85,114.31 L366.31,113.96 L367.7,113.64 L369.05,113.33 L370.36,113.02 L371.65,112.73 L372.94,112.42 L374.25,112.1 L375.6,111.75 L376.99,111.38 L378.45,110.96 L380,110.5 L381.66,110 L383.45,109.46 L385.32,108.89 L387.25,108.3 L389.22,107.68 L391.19,107.05 L393.15,106.4 L395.05,105.73 L396.87,105.06 L398.59,104.38 L400.18,103.69 L401.6,103 L402.86,102.31 L403.97,101.61 L404.97,100.9 L405.86,100.18 L406.68,99.45 L407.44,98.71 L408.17,97.96 L408.88,97.2 L409.6,96.42 L410.34,95.63 L411.14,94.82 L412,94 L412.89,93.17 L413.76,92.33 L414.61,91.48 L415.46,90.63 L416.32,89.76 L417.19,88.87 L418.09,87.96 L419.03,87.04 L420,86.09 L421.04,85.12 L422.13,84.13 L423.3,83.1 L424.61,81.99 L426.08,80.77 L427.69,79.47 L429.38,78.11 L431.12,76.74 L432.86,75.37 L434.56,74.04 L436.17,72.77 L437.67,71.61 L439,70.57 L440.12,69.69 L441,69" fill="none" stroke="#1f64cc" stroke-width="1.8" stroke-opacity="1" stroke-linejoin="round" />
<path d="M289,181 L289.42,180.33 L289.93,179.49 L290.54,178.51 L291.23,177.41 L291.97,176.21 L292.76,174.94 L293.57,173.61 L294.41,172.26 L295.24,170.9 L296.06,169.55 L296.85,168.25 L297.6,167 L298.33,165.76 L299.08,164.48 L299.84,163.17 L300.6,161.83 L301.37,160.49 L302.13,159.16 L302.88,157.84 L303.62,156.56 L304.33,155.32 L305.02,154.14 L305.68,153.03 L306.3,152 L306.88,151.06 L307.42,150.21 L307.93,149.42 L308.41,148.69 L308.87,148 L309.32,147.34 L309.76,146.71 L310.19,146.09 L310.62,145.47 L311.07,144.84 L311.52,144.19 L312,143.5 L312.49,142.79 L312.98,142.06 L313.48,141.33 L313.98,140.59 L314.48,139.86 L314.98,139.12 L315.48,138.4 L315.99,137.69 L316.49,136.98 L317,136.3 L317.5,135.64 L318,135 L318.5,134.38 L319,133.77 L319.5,133.18 L320,132.59 L320.5,132.02 L321,131.47 L321.5,130.93 L322,130.41 L322.5,129.9 L323,129.42 L323.5,128.95 L324,128.5 L324.48,128.08 L324.93,127.69 L325.37,127.33 L325.79,126.99 L326.21,126.67 L326.64,126.36 L327.1,126.06 L327.58,125.76 L328.1,125.46 L328.67,125.16 L329.3,124.84 L330,124.5 L330.74,124.16 L331.51,123.81 L332.29,123.47 L333.11,123.13 L333.97,122.79 L334.88,122.44 L335.83,122.09 L336.86,121.73 L337.95,121.37 L339.11,120.99 L340.36,120.6 L341.7,120.2 L343.17,119.78 L344.78,119.34 L346.52,118.88 L348.35,118.41 L350.25,117.93 L352.19,117.44 L354.15,116.96 L356.1,116.48 L358.01,116.01 L359.87,115.56 L361.64,115.12 L363.3,114.7 L364.85,114.31 L366.31,113.96 L367.7,113.64 L369.05,113.33 L370.36,113.02 L371.65,112.73 L372.94,112.42 L374.25,112.1 L375.6,111.75 L376.99,111.38 L378.45,110.96 L380,110.5 L381.66,110 L383.45,109.46 L385.32,108.89 L387.25,108.3 L389.22,107.68 L391.19,107.05 L393.15,106.4 L395.05,105.73 L396.87,105.06 L398.59,104.38 L400.18,103.69 L401.6,103 L402.86,102.31 L403.97,101.61 L404.97,100.9 L405.86,100.18 L406.68,99.45 L407.44,98.71 L408.17,97.96 L408.88,97.2 L409.6,96.42 L410.34,95.63 L411.14,94.82 L412,94 L412.89,93.17 L413.76,92.33 L414.61,91.48 L415.46,90.63 L416.32,89.76 L417.19,88.87 L418.09,87.96 L419.03,87.04 L420,86.09 L421.04,85.12 L422.13,84.13 L423.3,83.1 L424.61,81.99 L426.08,80.77 L427.69,79.47 L429.38,78.11 L431.12,76.74 L432.86,75.37 L434.56,74.04 L436.17,72.77 L437.67,71.61 L439,70.57 L440.12,69.69 L441,69" fill="none" stroke="#1f64cc" stroke-width="3.3" stroke-opacity="1" stroke-linejoin="round" />
<path d="M279.13,154.39 L281.43,158.76 L276.83,158.76 Z" fill="#fff" stroke="#2a5aa6" stroke-width="0.9" opacity="1"/>
<path d="M281.16,152.72 L283.46,157.09 L278.86,157.09 Z" fill="#fff" stroke="#2a5aa6" stroke-width="0.9" opacity="1"/>
<path d="M283.16,151.14 L285.46,155.51 L280.86,155.51 Z" fill="#fff" stroke="#2a5aa6" stroke-width="0.9" opacity="1"/>
<path d="M285.17,149.56 L287.47,153.93 L282.87,153.93 Z" fill="#fff" stroke="#2a5aa6" stroke-width="0.9" opacity="1"/>
<path d="M287.03,147.96 L289.33,152.33 L284.73,152.33 Z" fill="#fff" stroke="#2a5aa6" stroke-width="0.9" opacity="1"/>
<path d="M288.7,146.29 L291,150.66 L286.4,150.66 Z" fill="#fff" stroke="#2a5aa6" stroke-width="0.9" opacity="1"/>
<path d="M290.51,144.22 L292.81,148.59 L288.21,148.59 Z" fill="#fff" stroke="#2a5aa6" stroke-width="0.9" opacity="1"/>
<path d="M292.04,142.29 L294.34,146.66 L289.74,146.66 Z" fill="#fff" stroke="#2a5aa6" stroke-width="0.9" opacity="1"/>
<path d="M293.56,140.24 L295.86,144.61 L291.26,144.61 Z" fill="#fff" stroke="#2a5aa6" stroke-width="0.9" opacity="1"/>
<path d="M295.07,138.13 L297.37,142.5 L292.77,142.5 Z" fill="#fff" stroke="#2a5aa6" stroke-width="0.9" opacity="1"/>
<path d="M296.56,136.02 L298.86,140.39 L294.26,140.39 Z" fill="#fff" stroke="#2a5aa6" stroke-width="0.9" opacity="1"/>
<path d="M298,133.97 L300.3,138.34 L295.7,138.34 Z" fill="#fff" stroke="#2a5aa6" stroke-width="0.9" opacity="1"/>
<path d="M299.41,131.92 L301.71,136.29 L297.11,136.29 Z" fill="#fff" stroke="#2a5aa6" stroke-width="0.9" opacity="1"/>
<path d="M300.81,129.8 L303.11,134.17 L298.51,134.17 Z" fill="#fff" stroke="#2a5aa6" stroke-width="0.9" opacity="1"/>
<path d="M302.19,127.69 L304.49,132.06 L299.89,132.06 Z" fill="#fff" stroke="#2a5aa6" stroke-width="0.9" opacity="1"/>
<path d="M303.52,125.64 L305.82,130.01 L301.22,130.01 Z" fill="#fff" stroke="#2a5aa6" stroke-width="0.9" opacity="1"/>
<path d="M304.79,123.71 L307.09,128.08 L302.49,128.08 Z" fill="#fff" stroke="#2a5aa6" stroke-width="0.9" opacity="1"/>
<path d="M306.23,121.65 L308.53,126.02 L303.93,126.02 Z" fill="#fff" stroke="#2a5aa6" stroke-width="0.9" opacity="1"/>
<path d="M307.8,119.57 L310.1,123.94 L305.5,123.94 Z" fill="#fff" stroke="#2a5aa6" stroke-width="0.9" opacity="1"/>
<path d="M309.25,117.75 L311.55,122.12 L306.95,122.12 Z" fill="#fff" stroke="#2a5aa6" stroke-width="0.9" opacity="1"/>
<path d="M310.78,115.92 L313.08,120.29 L308.48,120.29 Z" fill="#fff" stroke="#2a5aa6" stroke-width="0.9" opacity="1"/>
<path d="M312.32,114.08 L314.62,118.45 L310.02,118.45 Z" fill="#fff" stroke="#2a5aa6" stroke-width="0.9" opacity="1"/>
<path d="M313.87,112.23 L316.17,116.6 L311.57,116.6 Z" fill="#fff" stroke="#2a5aa6" stroke-width="0.9" opacity="1"/>
<path d="M315.48,110.47 L317.78,114.84 L313.18,114.84 Z" fill="#fff" stroke="#2a5aa6" stroke-width="0.9" opacity="1"/>
<path d="M317.3,108.81 L319.6,113.18 L315,113.18 Z" fill="#fff" stroke="#2a5aa6" stroke-width="0.9" opacity="1"/>
<path d="M319.29,107.38 L321.59,111.75 L316.99,111.75 Z" fill="#fff" stroke="#2a5aa6" stroke-width="0.9" opacity="1"/>
<path d="M321.36,106.14 L323.66,110.51 L319.06,110.51 Z" fill="#fff" stroke="#2a5aa6" stroke-width="0.9" opacity="1"/>
<path d="M323.63,105.43 L325.93,109.8 L321.33,109.8 Z" fill="#fff" stroke="#2a5aa6" stroke-width="0.9" opacity="1"/>
<path d="M326.31,105.14 L328.61,109.51 L324.01,109.51 Z" fill="#fff" stroke="#2a5aa6" stroke-width="0.9" opacity="1"/>
<path d="M329.1,105.01 L331.4,109.38 L326.8,109.38 Z" fill="#fff" stroke="#2a5aa6" stroke-width="0.9" opacity="1"/>
<path d="M331.76,104.94 L334.06,109.31 L329.46,109.31 Z" fill="#fff" stroke="#2a5aa6" stroke-width="0.9" opacity="1"/>
<path d="M334.56,104.89 L336.86,109.26 L332.26,109.26 Z" fill="#fff" stroke="#2a5aa6" stroke-width="0.9" opacity="1"/>
<path d="M337.36,104.84 L339.66,109.21 L335.06,109.21 Z" fill="#fff" stroke="#2a5aa6" stroke-width="0.9" opacity="1"/>
<path d="M340,104.77 L342.3,109.14 L337.7,109.14 Z" fill="#fff" stroke="#2a5aa6" stroke-width="0.9" opacity="1"/>
<path d="M342.6,104.71 L344.9,109.08 L340.3,109.08 Z" fill="#fff" stroke="#2a5aa6" stroke-width="0.9" opacity="1"/>
<path d="M345.31,104.67 L347.61,109.04 L343.01,109.04 Z" fill="#fff" stroke="#2a5aa6" stroke-width="0.9" opacity="1"/>
<path d="M348.01,104.63 L350.31,109 L345.71,109 Z" fill="#fff" stroke="#2a5aa6" stroke-width="0.9" opacity="1"/>
<path d="M350.6,104.57 L352.9,108.94 L348.3,108.94 Z" fill="#fff" stroke="#2a5aa6" stroke-width="0.9" opacity="1"/>
<path d="M352.97,104.46 L355.27,108.83 L350.67,108.83 Z" fill="#fff" stroke="#2a5aa6" stroke-width="0.9" opacity="1"/>
<path d="M355.36,104.22 L357.66,108.59 L353.06,108.59 Z" fill="#fff" stroke="#2a5aa6" stroke-width="0.9" opacity="1"/>
<path d="M357.63,103.83 L359.93,108.2 L355.33,108.2 Z" fill="#fff" stroke="#2a5aa6" stroke-width="0.9" opacity="1"/>
<path d="M359.83,103.08 L362.13,107.45 L357.53,107.45 Z" fill="#fff" stroke="#2a5aa6" stroke-width="0.9" opacity="1"/>
<path d="M362,101.97 L364.3,106.34 L359.7,106.34 Z" fill="#fff" stroke="#2a5aa6" stroke-width="0.9" opacity="1"/>
<path d="M364.17,100.71 L366.47,105.08 L361.87,105.08 Z" fill="#fff" stroke="#2a5aa6" stroke-width="0.9" opacity="1"/>
<path d="M366.16,99.39 L368.46,103.76 L363.86,103.76 Z" fill="#fff" stroke="#2a5aa6" stroke-width="0.9" opacity="1"/>
<path d="M368.26,97.88 L370.56,102.25 L365.96,102.25 Z" fill="#fff" stroke="#2a5aa6" stroke-width="0.9" opacity="1"/>
<path d="M370.15,96.46 L372.45,100.83 L367.85,100.83 Z" fill="#fff" stroke="#2a5aa6" stroke-width="0.9" opacity="1"/>
<path d="M372.14,94.94 L374.44,99.31 L369.84,99.31 Z" fill="#fff" stroke="#2a5aa6" stroke-width="0.9" opacity="1"/>
<path d="M374.25,93.3 L376.55,97.67 L371.95,97.67 Z" fill="#fff" stroke="#2a5aa6" stroke-width="0.9" opacity="1"/>
<path d="M376.07,91.84 L378.37,96.22 L373.77,96.22 Z" fill="#fff" stroke="#2a5aa6" stroke-width="0.9" opacity="1"/>
<path d="M377.92,90.3 L380.22,94.67 L375.62,94.67 Z" fill="#fff" stroke="#2a5aa6" stroke-width="0.9" opacity="1"/>
<path d="M379.77,88.68 L382.07,93.05 L377.47,93.05 Z" fill="#fff" stroke="#2a5aa6" stroke-width="0.9" opacity="1"/>
<path d="M381.6,86.97 L383.9,91.34 L379.3,91.34 Z" fill="#fff" stroke="#2a5aa6" stroke-width="0.9" opacity="1"/>
<path d="M383.41,85.14 L385.71,89.51 L381.11,89.51 Z" fill="#fff" stroke="#2a5aa6" stroke-width="0.9" opacity="1"/>
<path d="M385.23,83.17 L387.53,87.54 L382.93,87.54 Z" fill="#fff" stroke="#2a5aa6" stroke-width="0.9" opacity="1"/>
<path d="M387.05,81.13 L389.35,85.5 L384.75,85.5 Z" fill="#fff" stroke="#2a5aa6" stroke-width="0.9" opacity="1"/>
<path d="M388.87,79.04 L391.17,83.41 L386.57,83.41 Z" fill="#fff" stroke="#2a5aa6" stroke-width="0.9" opacity="1"/>
<path d="M390.69,76.98 L392.99,81.35 L388.39,81.35 Z" fill="#fff" stroke="#2a5aa6" stroke-width="0.9" opacity="1"/>
<path d="M392.5,74.97 L394.8,79.34 L390.2,79.34 Z" fill="#fff" stroke="#2a5aa6" stroke-width="0.9" opacity="1"/>
<path d="M394.35,72.95 L396.65,77.32 L392.05,77.32 Z" fill="#fff" stroke="#2a5aa6" stroke-width="0.9" opacity="1"/>
<path d="M396.26,70.88 L398.56,75.25 L393.96,75.25 Z" fill="#fff" stroke="#2a5aa6" stroke-width="0.9" opacity="1"/>
<path d="M398.16,68.81 L400.46,73.18 L395.86,73.18 Z" fill="#fff" stroke="#2a5aa6" stroke-width="0.9" opacity="1"/>
<path d="M400.01,66.84 L402.31,71.21 L397.71,71.21 Z" fill="#fff" stroke="#2a5aa6" stroke-width="0.9" opacity="1"/>
<path d="M401.74,65.03 L404.04,69.4 L399.44,69.4 Z" fill="#fff" stroke="#2a5aa6" stroke-width="0.9" opacity="1"/>
<path d="M403.58,63.2 L405.88,67.57 L401.28,67.57 Z" fill="#fff" stroke="#2a5aa6" stroke-width="0.9" opacity="1"/>
<path d="M405.47,61.69 L407.77,66.06 L403.17,66.06 Z" fill="#fff" stroke="#2a5aa6" stroke-width="0.9" opacity="1"/>
<path d="M407.58,60.32 L409.88,64.69 L405.28,64.69 Z" fill="#fff" stroke="#2a5aa6" stroke-width="0.9" opacity="1"/>
<path d="M409.43,58.61 L411.73,62.98 L407.13,62.98 Z" fill="#fff" stroke="#2a5aa6" stroke-width="0.9" opacity="1"/>
<path d="M410.94,56.83 L413.24,61.2 L408.64,61.2 Z" fill="#fff" stroke="#2a5aa6" stroke-width="0.9" opacity="1"/>
<path d="M412.65,54.55 L414.95,58.92 L410.35,58.92 Z" fill="#fff" stroke="#2a5aa6" stroke-width="0.9" opacity="1"/>
<path d="M414.12,52.49 L416.42,56.86 L411.82,56.86 Z" fill="#fff" stroke="#2a5aa6" stroke-width="0.9" opacity="1"/>
<path d="M415.67,50.28 L417.97,54.65 L413.37,54.65 Z" fill="#fff" stroke="#2a5aa6" stroke-width="0.9" opacity="1"/>
<path d="M417.26,48.01 L419.56,52.38 L414.96,52.38 Z" fill="#fff" stroke="#2a5aa6" stroke-width="0.9" opacity="1"/>
<path d="M418.88,45.73 L421.18,50.1 L416.58,50.1 Z" fill="#fff" stroke="#2a5aa6" stroke-width="0.9" opacity="1"/>
<path d="M420.5,43.52 L422.8,47.89 L418.2,47.89 Z" fill="#fff" stroke="#2a5aa6" stroke-width="0.9" opacity="1"/>
<path d="M422.12,41.42 L424.42,45.79 L419.82,45.79 Z" fill="#fff" stroke="#2a5aa6" stroke-width="0.9" opacity="1"/>
<path d="M423.84,39.26 L426.14,43.63 L421.54,43.63 Z" fill="#fff" stroke="#2a5aa6" stroke-width="0.9" opacity="1"/>
<path d="M425.64,37.04 L427.94,41.41 L423.34,41.41 Z" fill="#fff" stroke="#2a5aa6" stroke-width="0.9" opacity="1"/>
<path d="M427.46,34.83 L429.76,39.2 L425.16,39.2 Z" fill="#fff" stroke="#2a5aa6" stroke-width="0.9" opacity="1"/>
<path d="M429.26,32.67 L431.56,37.04 L426.96,37.04 Z" fill="#fff" stroke="#2a5aa6" stroke-width="0.9" opacity="1"/>
<path d="M430.99,30.6 L433.29,34.97 L428.69,34.97 Z" fill="#fff" stroke="#2a5aa6" stroke-width="0.9" opacity="1"/>
<path d="M432.58,28.69 L434.88,33.06 L430.28,33.06 Z" fill="#fff" stroke="#2a5aa6" stroke-width="0.9" opacity="1"/>
<path d="M434.33,26.57 L436.63,30.94 L432.03,30.94 Z" fill="#fff" stroke="#2a5aa6" stroke-width="0.9" opacity="1"/>
<path d="M435.88,24.69 L438.18,29.06 L433.58,29.06 Z" fill="#fff" stroke="#2a5aa6" stroke-width="0.9" opacity="1"/>
<path d="M437.55,22.66 L439.85,27.03 L435.25,27.03 Z" fill="#fff" stroke="#2a5aa6" stroke-width="0.9" opacity="1"/>
<path d="M439.19,20.66 L441.49,25.03 L436.89,25.03 Z" fill="#fff" stroke="#2a5aa6" stroke-width="0.9" opacity="1"/>
<path d="M440.75,18.78 L443.05,23.15 L438.45,23.15 Z" fill="#fff" stroke="#2a5aa6" stroke-width="0.9" opacity="1"/>
<path d="M264.7,168.8 L265.46,168.18 L266.44,167.37 L267.6,166.42 L268.9,165.35 L270.31,164.2 L271.79,162.98 L273.3,161.74 L274.8,160.5 L276.26,159.3 L277.64,158.16 L278.9,157.12 L280,156.2 L280.97,155.4 L281.86,154.68 L282.69,154.03 L283.47,153.43 L284.2,152.86 L284.89,152.31 L285.57,151.77 L286.23,151.2 L286.9,150.61 L287.57,149.98 L288.27,149.28 L289,148.5 L289.75,147.65 L290.51,146.75 L291.27,145.8 L292.04,144.82 L292.8,143.8 L293.56,142.77 L294.32,141.72 L295.07,140.66 L295.82,139.6 L296.56,138.55 L297.29,137.51 L298,136.5 L298.71,135.49 L299.41,134.45 L300.12,133.39 L300.81,132.33 L301.51,131.27 L302.19,130.22 L302.86,129.18 L303.52,128.17 L304.16,127.18 L304.79,126.24 L305.41,125.34 L306,124.5 L306.58,123.71 L307.14,122.95 L307.69,122.24 L308.22,121.56 L308.74,120.9 L309.25,120.28 L309.74,119.68 L310.22,119.11 L310.69,118.56 L311.14,118.02 L311.58,117.51 L312,117 L312.4,116.52 L312.78,116.06 L313.14,115.63 L313.48,115.22 L313.81,114.84 L314.12,114.47 L314.43,114.12 L314.74,113.78 L315.05,113.45 L315.36,113.13 L315.67,112.81 L316,112.5 L316.33,112.19 L316.66,111.9 L316.98,111.61 L317.3,111.34 L317.63,111.08 L317.95,110.83 L318.28,110.58 L318.61,110.35 L318.94,110.12 L319.29,109.91 L319.64,109.7 L320,109.5 L320.34,109.31 L320.63,109.13 L320.9,108.96 L321.16,108.79 L321.42,108.64 L321.7,108.49 L322.02,108.36 L322.4,108.23 L322.85,108.11 L323.39,108 L324.03,107.9 L324.8,107.8 L325.7,107.72 L326.73,107.65 L327.87,107.59 L329.1,107.54 L330.41,107.51 L331.76,107.47 L333.15,107.45 L334.56,107.42 L335.97,107.4 L337.36,107.37 L338.71,107.34 L340,107.3 L341.28,107.26 L342.6,107.24 L343.95,107.22 L345.31,107.2 L346.67,107.18 L348.01,107.16 L349.33,107.14 L350.6,107.1 L351.82,107.05 L352.97,106.99 L354.03,106.9 L355,106.8 L355.86,106.68 L356.61,106.56 L357.27,106.44 L357.86,106.3 L358.39,106.16 L358.89,105.99 L359.36,105.81 L359.83,105.61 L360.31,105.38 L360.82,105.12 L361.38,104.83 L362,104.5 L362.66,104.14 L363.34,103.75 L364.03,103.33 L364.73,102.89 L365.44,102.41 L366.16,101.92 L366.9,101.4 L367.65,100.86 L368.42,100.3 L369.2,99.72 L369.99,99.12 L370.8,98.5 L371.63,97.86 L372.48,97.21 L373.36,96.53 L374.25,95.83 L375.15,95.11 L376.07,94.38 L376.99,93.61 L377.92,92.83 L378.85,92.03 L379.77,91.21 L380.69,90.36 L381.6,89.5 L382.51,88.6 L383.41,87.67 L384.32,86.7 L385.23,85.7 L386.14,84.69 L387.05,83.66 L387.96,82.62 L388.87,81.57 L389.78,80.54 L390.69,79.51 L391.59,78.49 L392.5,77.5 L393.42,76.51 L394.35,75.48 L395.3,74.45 L396.26,73.41 L397.21,72.37 L398.16,71.34 L399.1,70.34 L400.01,69.37 L400.89,68.44 L401.74,67.56 L402.54,66.75 L403.3,66 L403.99,65.36 L404.6,64.85 L405.16,64.44 L405.67,64.09 L406.15,63.79 L406.62,63.5 L407.09,63.2 L407.58,62.85 L408.1,62.44 L408.66,61.93 L409.29,61.29 L410,60.5 L410.78,59.56 L411.6,58.5 L412.47,57.33 L413.37,56.07 L414.31,54.75 L415.28,53.38 L416.26,51.96 L417.26,50.54 L418.27,49.11 L419.28,47.7 L420.29,46.32 L421.3,45 L422.33,43.69 L423.4,42.34 L424.51,40.96 L425.64,39.57 L426.78,38.19 L427.92,36.81 L429.04,35.46 L430.14,34.15 L431.19,32.88 L432.2,31.68 L433.14,30.55 L434,29.5 L434.81,28.52 L435.58,27.58 L436.31,26.68 L437.01,25.83 L437.68,25.03 L438.29,24.28 L438.87,23.58 L439.4,22.94 L439.88,22.36 L440.3,21.84 L440.68,21.39 L441,21" fill="none" stroke="#123270" stroke-width="1.5" stroke-dasharray="3,2.6" stroke-opacity="1" stroke-linejoin="round" transform="translate(0,-2.2)"/>
<path d="M280.4,150.9 L283.1,156.03 L277.7,156.03 Z" fill="#17428c" stroke="none" stroke-width="0.6" opacity="1"/>
<path d="M282.53,149.2 L285.23,154.33 L279.83,154.33 Z" fill="#17428c" stroke="none" stroke-width="0.6" opacity="1"/>
<path d="M284.62,147.59 L287.32,152.72 L281.92,152.72 Z" fill="#17428c" stroke="none" stroke-width="0.6" opacity="1"/>
<path d="M286.76,145.8 L289.46,150.93 L284.06,150.93 Z" fill="#17428c" stroke="none" stroke-width="0.6" opacity="1"/>
<path d="M288.7,143.86 L291.4,148.99 L286,148.99 Z" fill="#17428c" stroke="none" stroke-width="0.6" opacity="1"/>
<path d="M290.52,141.7 L293.22,146.83 L287.82,146.83 Z" fill="#17428c" stroke="none" stroke-width="0.6" opacity="1"/>
<path d="M292.39,139.21 L295.09,144.34 L289.69,144.34 Z" fill="#17428c" stroke="none" stroke-width="0.6" opacity="1"/>
<path d="M293.93,137 L296.63,142.13 L291.23,142.13 Z" fill="#17428c" stroke="none" stroke-width="0.6" opacity="1"/>
<path d="M295.45,134.77 L298.15,139.9 L292.75,139.9 Z" fill="#17428c" stroke="none" stroke-width="0.6" opacity="1"/>
<path d="M297.18,132.21 L299.88,137.34 L294.48,137.34 Z" fill="#17428c" stroke="none" stroke-width="0.6" opacity="1"/>
<path d="M298.77,129.93 L301.47,135.06 L296.07,135.06 Z" fill="#17428c" stroke="none" stroke-width="0.6" opacity="1"/>
<path d="M300.41,127.58 L303.11,132.71 L297.71,132.71 Z" fill="#17428c" stroke="none" stroke-width="0.6" opacity="1"/>
<path d="M301.93,125.35 L304.63,130.48 L299.23,130.48 Z" fill="#17428c" stroke="none" stroke-width="0.6" opacity="1"/>
<path d="M303.5,123 L306.2,128.13 L300.8,128.13 Z" fill="#17428c" stroke="none" stroke-width="0.6" opacity="1"/>
<path d="M305,120.73 L307.7,125.86 L302.3,125.86 Z" fill="#17428c" stroke="none" stroke-width="0.6" opacity="1"/>
<path d="M306.38,118.53 L309.08,123.66 L303.68,123.66 Z" fill="#17428c" stroke="none" stroke-width="0.6" opacity="1"/>
<path d="M307.85,116.09 L310.55,121.22 L305.15,121.22 Z" fill="#17428c" stroke="none" stroke-width="0.6" opacity="1"/>
<path d="M309.38,113.55 L312.07,118.68 L306.68,118.68 Z" fill="#17428c" stroke="none" stroke-width="0.6" opacity="1"/>
<path d="M310.93,111.02 L313.63,116.15 L308.23,116.15 Z" fill="#17428c" stroke="none" stroke-width="0.6" opacity="1"/>
<path d="M312.48,108.64 L315.18,113.77 L309.78,113.77 Z" fill="#17428c" stroke="none" stroke-width="0.6" opacity="1"/>
<path d="M314,106.53 L316.7,111.66 L311.3,111.66 Z" fill="#17428c" stroke="none" stroke-width="0.6" opacity="1"/>
<path d="M315.8,104.34 L318.5,109.47 L313.1,109.47 Z" fill="#17428c" stroke="none" stroke-width="0.6" opacity="1"/>
<path d="M317.6,102.39 L320.3,107.52 L314.9,107.52 Z" fill="#17428c" stroke="none" stroke-width="0.6" opacity="1"/>
<path d="M319.7,100.35 L322.4,105.48 L317,105.48 Z" fill="#17428c" stroke="none" stroke-width="0.6" opacity="1"/>
<path d="M321.8,98.51 L324.5,103.64 L319.1,103.64 Z" fill="#17428c" stroke="none" stroke-width="0.6" opacity="1"/>
<path d="M323.9,96.83 L326.6,101.96 L321.2,101.96 Z" fill="#17428c" stroke="none" stroke-width="0.6" opacity="1"/>
<path d="M326.3,95.18 L329,100.31 L323.6,100.31 Z" fill="#17428c" stroke="none" stroke-width="0.6" opacity="1"/>
<path d="M328.69,93.77 L331.39,98.9 L325.99,98.9 Z" fill="#17428c" stroke="none" stroke-width="0.6" opacity="1"/>
<path d="M331.1,92.5 L333.8,97.63 L328.4,97.63 Z" fill="#17428c" stroke="none" stroke-width="0.6" opacity="1"/>
<path d="M333.51,91.29 L336.21,96.42 L330.81,96.42 Z" fill="#17428c" stroke="none" stroke-width="0.6" opacity="1"/>
<path d="M335.94,90.22 L338.64,95.35 L333.24,95.35 Z" fill="#17428c" stroke="none" stroke-width="0.6" opacity="1"/>
<path d="M338.37,89.25 L341.07,94.38 L335.67,94.38 Z" fill="#17428c" stroke="none" stroke-width="0.6" opacity="1"/>
<path d="M341.1,88.23 L343.8,93.36 L338.4,93.36 Z" fill="#17428c" stroke="none" stroke-width="0.6" opacity="1"/>
<path d="M343.78,87.3 L346.48,92.43 L341.08,92.43 Z" fill="#17428c" stroke="none" stroke-width="0.6" opacity="1"/>
<path d="M346.44,86.46 L349.14,91.59 L343.74,91.59 Z" fill="#17428c" stroke="none" stroke-width="0.6" opacity="1"/>
<path d="M349.16,85.62 L351.86,90.75 L346.46,90.75 Z" fill="#17428c" stroke="none" stroke-width="0.6" opacity="1"/>
<path d="M351.69,84.83 L354.39,89.96 L348.99,89.96 Z" fill="#17428c" stroke="none" stroke-width="0.6" opacity="1"/>
<path d="M354.28,84.04 L356.98,89.17 L351.58,89.17 Z" fill="#17428c" stroke="none" stroke-width="0.6" opacity="1"/>
<path d="M356.94,83.22 L359.64,88.35 L354.24,88.35 Z" fill="#17428c" stroke="none" stroke-width="0.6" opacity="1"/>
<path d="M359.66,82.34 L362.36,87.47 L356.96,87.47 Z" fill="#17428c" stroke="none" stroke-width="0.6" opacity="1"/>
<path d="M362.46,81.4 L365.16,86.53 L359.76,86.53 Z" fill="#17428c" stroke="none" stroke-width="0.6" opacity="1"/>
<path d="M364.98,80.53 L367.68,85.66 L362.28,85.66 Z" fill="#17428c" stroke="none" stroke-width="0.6" opacity="1"/>
<path d="M367.53,79.63 L370.23,84.76 L364.83,84.76 Z" fill="#17428c" stroke="none" stroke-width="0.6" opacity="1"/>
<path d="M370.08,78.7 L372.78,83.83 L367.38,83.83 Z" fill="#17428c" stroke="none" stroke-width="0.6" opacity="1"/>
<path d="M372.6,77.76 L375.3,82.89 L369.9,82.89 Z" fill="#17428c" stroke="none" stroke-width="0.6" opacity="1"/>
<path d="M375.12,76.81 L377.82,81.94 L372.42,81.94 Z" fill="#17428c" stroke="none" stroke-width="0.6" opacity="1"/>
<path d="M377.63,75.83 L380.33,80.96 L374.93,80.96 Z" fill="#17428c" stroke="none" stroke-width="0.6" opacity="1"/>
<path d="M380.15,74.78 L382.85,79.91 L377.45,79.91 Z" fill="#17428c" stroke="none" stroke-width="0.6" opacity="1"/>
<path d="M382.69,73.63 L385.39,78.76 L379.99,78.76 Z" fill="#17428c" stroke="none" stroke-width="0.6" opacity="1"/>
<path d="M385.23,72.43 L387.93,77.56 L382.53,77.56 Z" fill="#17428c" stroke="none" stroke-width="0.6" opacity="1"/>
<path d="M387.78,71.16 L390.48,76.29 L385.08,76.29 Z" fill="#17428c" stroke="none" stroke-width="0.6" opacity="1"/>
<path d="M390.32,69.77 L393.02,74.9 L387.62,74.9 Z" fill="#17428c" stroke="none" stroke-width="0.6" opacity="1"/>
<path d="M392.86,68.19 L395.56,73.32 L390.16,73.32 Z" fill="#17428c" stroke="none" stroke-width="0.6" opacity="1"/>
<path d="M395.11,66.6 L397.81,71.73 L392.41,71.73 Z" fill="#17428c" stroke="none" stroke-width="0.6" opacity="1"/>
<path d="M397.41,64.83 L400.11,69.96 L394.71,69.96 Z" fill="#17428c" stroke="none" stroke-width="0.6" opacity="1"/>
<path d="M399.65,63.03 L402.35,68.16 L396.95,68.16 Z" fill="#17428c" stroke="none" stroke-width="0.6" opacity="1"/>
<path d="M401.74,61.31 L404.44,66.44 L399.04,66.44 Z" fill="#17428c" stroke="none" stroke-width="0.6" opacity="1"/>
<path d="M403.86,59.59 L406.56,64.72 L401.16,64.72 Z" fill="#17428c" stroke="none" stroke-width="0.6" opacity="1"/>
<path d="M406.05,57.94 L408.75,63.07 L403.35,63.07 Z" fill="#17428c" stroke="none" stroke-width="0.6" opacity="1"/>
<path d="M408.21,56.16 L410.91,61.29 L405.51,61.29 Z" fill="#17428c" stroke="none" stroke-width="0.6" opacity="1"/>
<path d="M410.3,54 L413,59.13 L407.6,59.13 Z" fill="#17428c" stroke="none" stroke-width="0.6" opacity="1"/>
<path d="M412.29,51.71 L414.99,56.84 L409.59,56.84 Z" fill="#17428c" stroke="none" stroke-width="0.6" opacity="1"/>
<path d="M414.12,49.49 L416.82,54.62 L411.42,54.62 Z" fill="#17428c" stroke="none" stroke-width="0.6" opacity="1"/>
<path d="M416.06,47.08 L418.76,52.21 L413.36,52.21 Z" fill="#17428c" stroke="none" stroke-width="0.6" opacity="1"/>
<path d="M418.07,44.56 L420.77,49.69 L415.37,49.69 Z" fill="#17428c" stroke="none" stroke-width="0.6" opacity="1"/>
<path d="M420.09,42.03 L422.79,47.16 L417.39,47.16 Z" fill="#17428c" stroke="none" stroke-width="0.6" opacity="1"/>
<path d="M422.12,39.52 L424.82,44.65 L419.42,44.65 Z" fill="#17428c" stroke="none" stroke-width="0.6" opacity="1"/>
<path d="M423.84,37.38 L426.54,42.51 L421.14,42.51 Z" fill="#17428c" stroke="none" stroke-width="0.6" opacity="1"/>
<path d="M425.64,35.13 L428.34,40.26 L422.94,40.26 Z" fill="#17428c" stroke="none" stroke-width="0.6" opacity="1"/>
<path d="M427.46,32.85 L430.16,37.98 L424.76,37.98 Z" fill="#17428c" stroke="none" stroke-width="0.6" opacity="1"/>
<path d="M429.26,30.6 L431.96,35.73 L426.56,35.73 Z" fill="#17428c" stroke="none" stroke-width="0.6" opacity="1"/>
<path d="M430.99,28.45 L433.69,33.58 L428.29,33.58 Z" fill="#17428c" stroke="none" stroke-width="0.6" opacity="1"/>
<path d="M432.95,26.01 L435.65,31.14 L430.25,31.14 Z" fill="#17428c" stroke="none" stroke-width="0.6" opacity="1"/>
<path d="M434.65,23.95 L437.35,29.08 L431.95,29.08 Z" fill="#17428c" stroke="none" stroke-width="0.6" opacity="1"/>
<path d="M436.46,21.78 L439.16,26.91 L433.76,26.91 Z" fill="#17428c" stroke="none" stroke-width="0.6" opacity="1"/>
<path d="M438.29,19.64 L440.99,24.77 L435.59,24.77 Z" fill="#17428c" stroke="none" stroke-width="0.6" opacity="1"/>
<path d="M440.14,17.52 L442.84,22.65 L437.44,22.65 Z" fill="#17428c" stroke="none" stroke-width="0.6" opacity="1"/>
<path d="M264.7,166.8 L265.46,166.18 L266.44,165.37 L267.6,164.42 L268.9,163.35 L270.31,162.2 L271.79,160.98 L273.3,159.74 L274.8,158.5 L276.26,157.3 L277.64,156.16 L278.9,155.12 L280,154.2 L280.97,153.4 L281.86,152.69 L282.69,152.04 L283.47,151.45 L284.2,150.89 L284.89,150.34 L285.57,149.8 L286.23,149.24 L286.9,148.65 L287.57,148 L288.27,147.29 L289,146.5 L289.76,145.62 L290.52,144.67 L291.3,143.66 L292.07,142.61 L292.85,141.52 L293.62,140.41 L294.39,139.3 L295.15,138.18 L295.89,137.08 L296.62,136.01 L297.32,134.98 L298,134 L298.65,133.08 L299.26,132.2 L299.84,131.36 L300.41,130.55 L300.96,129.75 L301.5,128.96 L302.04,128.16 L302.59,127.34 L303.16,126.5 L303.74,125.62 L304.35,124.69 L305,123.7 L305.68,122.64 L306.38,121.5 L307.11,120.3 L307.85,119.06 L308.61,117.8 L309.38,116.52 L310.15,115.25 L310.93,113.99 L311.7,112.78 L312.48,111.61 L313.24,110.51 L314,109.5 L314.75,108.56 L315.5,107.66 L316.25,106.8 L317,105.99 L317.75,105.2 L318.5,104.46 L319.25,103.74 L320,103.05 L320.75,102.38 L321.5,101.74 L322.25,101.11 L323,100.5 L323.75,99.91 L324.5,99.36 L325.25,98.84 L326,98.34 L326.74,97.87 L327.49,97.42 L328.24,96.99 L328.99,96.58 L329.74,96.17 L330.49,95.78 L331.25,95.39 L332,95 L332.76,94.62 L333.51,94.26 L334.27,93.91 L335.03,93.57 L335.79,93.25 L336.55,92.94 L337.31,92.63 L338.07,92.34 L338.83,92.05 L339.59,91.76 L340.34,91.48 L341.1,91.2 L341.85,90.93 L342.6,90.67 L343.34,90.42 L344.07,90.17 L344.81,89.94 L345.55,89.71 L346.29,89.48 L347.04,89.25 L347.79,89.02 L348.55,88.78 L349.32,88.55 L350.1,88.3 L350.89,88.05 L351.69,87.8 L352.49,87.56 L353.3,87.31 L354.12,87.06 L354.94,86.81 L355.77,86.55 L356.6,86.29 L357.44,86.03 L358.29,85.76 L359.14,85.48 L360,85.2 L360.87,84.91 L361.75,84.61 L362.64,84.31 L363.53,84 L364.44,83.69 L365.34,83.38 L366.25,83.05 L367.17,82.73 L368.08,82.4 L368.99,82.07 L369.9,81.74 L370.8,81.4 L371.7,81.06 L372.6,80.73 L373.5,80.39 L374.4,80.06 L375.29,79.71 L376.19,79.37 L377.09,79.02 L377.99,78.66 L378.89,78.29 L379.79,77.9 L380.7,77.51 L381.6,77.1 L382.51,76.68 L383.41,76.26 L384.32,75.84 L385.23,75.4 L386.14,74.96 L387.05,74.51 L387.96,74.04 L388.87,73.55 L389.78,73.05 L390.69,72.52 L391.59,71.97 L392.5,71.4 L393.42,70.79 L394.35,70.13 L395.3,69.43 L396.26,68.7 L397.21,67.95 L398.16,67.2 L399.1,66.45 L400.01,65.7 L400.89,64.97 L401.74,64.28 L402.54,63.61 L403.3,63 L403.99,62.46 L404.6,61.99 L405.16,61.57 L405.67,61.2 L406.15,60.84 L406.62,60.49 L407.09,60.11 L407.58,59.7 L408.1,59.23 L408.66,58.69 L409.29,58.05 L410,57.3 L410.78,56.44 L411.6,55.49 L412.47,54.47 L413.37,53.37 L414.31,52.23 L415.28,51.03 L416.26,49.8 L417.26,48.55 L418.27,47.28 L419.28,46.01 L420.29,44.75 L421.3,43.5 L422.33,42.23 L423.4,40.89 L424.51,39.51 L425.64,38.1 L426.78,36.67 L427.92,35.25 L429.04,33.85 L430.14,32.48 L431.19,31.16 L432.2,29.92 L433.14,28.76 L434,27.7 L434.81,26.72 L435.58,25.8 L436.31,24.92 L437.01,24.1 L437.68,23.33 L438.29,22.61 L438.87,21.95 L439.4,21.34 L439.88,20.8 L440.3,20.3 L440.68,19.87 L441,19.5" fill="none" stroke="#17428c" stroke-width="1.8" stroke-opacity="1" stroke-linejoin="round" />
<path d="M280,154.2 L280.43,153.84 L280.98,153.42 L281.62,152.93 L282.33,152.38 L283.11,151.78 L283.94,151.13 L284.79,150.44 L285.67,149.71 L286.54,148.94 L287.4,148.15 L288.22,147.33 L289,146.5 L289.76,145.62 L290.52,144.67 L291.3,143.66 L292.07,142.61 L292.85,141.52 L293.62,140.41 L294.39,139.3 L295.15,138.18 L295.89,137.08 L296.62,136.01 L297.32,134.98 L298,134 L298.65,133.08 L299.26,132.2 L299.84,131.36 L300.41,130.55 L300.96,129.75 L301.5,128.96 L302.04,128.16 L302.59,127.34 L303.16,126.5 L303.74,125.62 L304.35,124.69 L305,123.7 L305.68,122.64 L306.38,121.5 L307.11,120.3 L307.85,119.06 L308.61,117.8 L309.38,116.52 L310.15,115.25 L310.93,113.99 L311.7,112.78 L312.48,111.61 L313.24,110.51 L314,109.5 L314.75,108.56 L315.5,107.66 L316.25,106.8 L317,105.99 L317.75,105.2 L318.5,104.46 L319.25,103.74 L320,103.05 L320.75,102.38 L321.5,101.74 L322.25,101.11 L323,100.5 L323.75,99.91 L324.5,99.36 L325.25,98.84 L326,98.34 L326.74,97.87 L327.49,97.42 L328.24,96.99 L328.99,96.58 L329.74,96.17 L330.49,95.78 L331.25,95.39 L332,95 L332.76,94.62 L333.51,94.26 L334.27,93.91 L335.03,93.57 L335.79,93.25 L336.55,92.94 L337.31,92.63 L338.07,92.34 L338.83,92.05 L339.59,91.76 L340.34,91.48 L341.1,91.2 L341.85,90.93 L342.6,90.67 L343.34,90.42 L344.07,90.17 L344.81,89.94 L345.55,89.71 L346.29,89.48 L347.04,89.25 L347.79,89.02 L348.55,88.78 L349.32,88.55 L350.1,88.3 L350.89,88.05 L351.69,87.8 L352.49,87.56 L353.3,87.31 L354.12,87.06 L354.94,86.81 L355.77,86.55 L356.6,86.29 L357.44,86.03 L358.29,85.76 L359.14,85.48 L360,85.2 L360.87,84.91 L361.75,84.61 L362.64,84.31 L363.53,84 L364.44,83.69 L365.34,83.38 L366.25,83.05 L367.17,82.73 L368.08,82.4 L368.99,82.07 L369.9,81.74 L370.8,81.4 L371.7,81.06 L372.6,80.73 L373.5,80.39 L374.4,80.06 L375.29,79.71 L376.19,79.37 L377.09,79.02 L377.99,78.66 L378.89,78.29 L379.79,77.9 L380.7,77.51 L381.6,77.1 L382.51,76.68 L383.41,76.26 L384.32,75.84 L385.23,75.4 L386.14,74.96 L387.05,74.51 L387.96,74.04 L388.87,73.55 L389.78,73.05 L390.69,72.52 L391.59,71.97 L392.5,71.4 L393.42,70.79 L394.35,70.13 L395.3,69.43 L396.26,68.7 L397.21,67.95 L398.16,67.2 L399.1,66.45 L400.01,65.7 L400.89,64.97 L401.74,64.28 L402.54,63.61 L403.3,63 L403.99,62.46 L404.6,61.99 L405.16,61.57 L405.67,61.2 L406.15,60.84 L406.62,60.49 L407.09,60.11 L407.58,59.7 L408.1,59.23 L408.66,58.69 L409.29,58.05 L410,57.3 L410.78,56.44 L411.6,55.49 L412.47,54.47 L413.37,53.37 L414.31,52.23 L415.28,51.03 L416.26,49.8 L417.26,48.55 L418.27,47.28 L419.28,46.01 L420.29,44.75 L421.3,43.5 L422.33,42.23 L423.4,40.89 L424.51,39.51 L425.64,38.1 L426.78,36.67 L427.92,35.25 L429.04,33.85 L430.14,32.48 L431.19,31.16 L432.2,29.92 L433.14,28.76 L434,27.7 L434.81,26.72 L435.58,25.8 L436.31,24.92 L437.01,24.1 L437.68,23.33 L438.29,22.61 L438.87,21.95 L439.4,21.34 L439.88,20.8 L440.3,20.3 L440.68,19.87 L441,19.5" fill="none" stroke="#17428c" stroke-width="3.4" stroke-opacity="1" stroke-linejoin="round" />
<path d="M263.5,120.47 L265.8,124.84 L261.2,124.84 Z" fill="#fff" stroke="#4a68a0" stroke-width="0.9" opacity="1"/>
<path d="M265.41,118.9 L267.71,123.27 L263.11,123.27 Z" fill="#fff" stroke="#4a68a0" stroke-width="0.9" opacity="1"/>
<path d="M267.3,117.35 L269.6,121.72 L265,121.72 Z" fill="#fff" stroke="#4a68a0" stroke-width="0.9" opacity="1"/>
<path d="M269.33,115.73 L271.63,120.1 L267.03,120.1 Z" fill="#fff" stroke="#4a68a0" stroke-width="0.9" opacity="1"/>
<path d="M271.26,114.28 L273.56,118.65 L268.96,118.65 Z" fill="#fff" stroke="#4a68a0" stroke-width="0.9" opacity="1"/>
<path d="M273.39,112.89 L275.69,117.26 L271.09,117.26 Z" fill="#fff" stroke="#4a68a0" stroke-width="0.9" opacity="1"/>
<path d="M275.56,111.57 L277.86,115.94 L273.26,115.94 Z" fill="#fff" stroke="#4a68a0" stroke-width="0.9" opacity="1"/>
<path d="M277.54,110.29 L279.84,114.66 L275.24,114.66 Z" fill="#fff" stroke="#4a68a0" stroke-width="0.9" opacity="1"/>
<path d="M279.6,108.72 L281.9,113.09 L277.3,113.09 Z" fill="#fff" stroke="#4a68a0" stroke-width="0.9" opacity="1"/>
<path d="M281.53,107.06 L283.83,111.43 L279.23,111.43 Z" fill="#fff" stroke="#4a68a0" stroke-width="0.9" opacity="1"/>
<path d="M283.23,105.5 L285.53,109.87 L280.93,109.87 Z" fill="#fff" stroke="#4a68a0" stroke-width="0.9" opacity="1"/>
<path d="M284.94,103.88 L287.24,108.25 L282.64,108.25 Z" fill="#fff" stroke="#4a68a0" stroke-width="0.9" opacity="1"/>
<path d="M286.61,102.28 L288.91,106.65 L284.31,106.65 Z" fill="#fff" stroke="#4a68a0" stroke-width="0.9" opacity="1"/>
<path d="M288.44,100.5 L290.74,104.87 L286.14,104.87 Z" fill="#fff" stroke="#4a68a0" stroke-width="0.9" opacity="1"/>
<path d="M290.26,98.78 L292.56,103.15 L287.96,103.15 Z" fill="#fff" stroke="#4a68a0" stroke-width="0.9" opacity="1"/>
<path d="M291.99,97.17 L294.29,101.54 L289.69,101.54 Z" fill="#fff" stroke="#4a68a0" stroke-width="0.9" opacity="1"/>
<path d="M293.78,95.39 L296.08,99.76 L291.48,99.76 Z" fill="#fff" stroke="#4a68a0" stroke-width="0.9" opacity="1"/>
<path d="M295.5,93.47 L297.8,97.84 L293.2,97.84 Z" fill="#fff" stroke="#4a68a0" stroke-width="0.9" opacity="1"/>
<path d="M296.96,91.65 L299.26,96.02 L294.66,96.02 Z" fill="#fff" stroke="#4a68a0" stroke-width="0.9" opacity="1"/>
<path d="M298.5,89.6 L300.8,93.97 L296.2,93.97 Z" fill="#fff" stroke="#4a68a0" stroke-width="0.9" opacity="1"/>
<path d="M300.06,87.46 L302.36,91.83 L297.76,91.83 Z" fill="#fff" stroke="#4a68a0" stroke-width="0.9" opacity="1"/>
<path d="M301.58,85.37 L303.88,89.74 L299.28,89.74 Z" fill="#fff" stroke="#4a68a0" stroke-width="0.9" opacity="1"/>
<path d="M303,83.47 L305.3,87.84 L300.7,87.84 Z" fill="#fff" stroke="#4a68a0" stroke-width="0.9" opacity="1"/>
<path d="M304.5,81.57 L306.8,85.94 L302.2,85.94 Z" fill="#fff" stroke="#4a68a0" stroke-width="0.9" opacity="1"/>
<path d="M306.09,79.63 L308.39,84 L303.79,84 Z" fill="#fff" stroke="#4a68a0" stroke-width="0.9" opacity="1"/>
<path d="M307.63,77.74 L309.93,82.11 L305.33,82.11 Z" fill="#fff" stroke="#4a68a0" stroke-width="0.9" opacity="1"/>
<path d="M309.2,75.7 L311.5,80.07 L306.9,80.07 Z" fill="#fff" stroke="#4a68a0" stroke-width="0.9" opacity="1"/>
<path d="M310.67,73.68 L312.97,78.05 L308.37,78.05 Z" fill="#fff" stroke="#4a68a0" stroke-width="0.9" opacity="1"/>
<path d="M312.16,71.56 L314.46,75.93 L309.86,75.93 Z" fill="#fff" stroke="#4a68a0" stroke-width="0.9" opacity="1"/>
<path d="M313.58,69.51 L315.88,73.88 L311.28,73.88 Z" fill="#fff" stroke="#4a68a0" stroke-width="0.9" opacity="1"/>
<path d="M315,67.47 L317.3,71.84 L312.7,71.84 Z" fill="#fff" stroke="#4a68a0" stroke-width="0.9" opacity="1"/>
<path d="M316.33,65.49 L318.63,69.86 L314.03,69.86 Z" fill="#fff" stroke="#4a68a0" stroke-width="0.9" opacity="1"/>
<path d="M317.69,63.46 L319.99,67.83 L315.39,67.83 Z" fill="#fff" stroke="#4a68a0" stroke-width="0.9" opacity="1"/>
<path d="M319.29,61.64 L321.59,66.01 L316.99,66.01 Z" fill="#fff" stroke="#4a68a0" stroke-width="0.9" opacity="1"/>
<path d="M321.12,60.04 L323.42,64.41 L318.82,64.41 Z" fill="#fff" stroke="#4a68a0" stroke-width="0.9" opacity="1"/>
<path d="M323.11,58.73 L325.41,63.1 L320.81,63.1 Z" fill="#fff" stroke="#4a68a0" stroke-width="0.9" opacity="1"/>
<path d="M325.29,57.81 L327.59,62.18 L322.99,62.18 Z" fill="#fff" stroke="#4a68a0" stroke-width="0.9" opacity="1"/>
<path d="M327.64,57.39 L329.94,61.76 L325.34,61.76 Z" fill="#fff" stroke="#4a68a0" stroke-width="0.9" opacity="1"/>
<path d="M330.1,57.25 L332.4,61.62 L327.8,61.62 Z" fill="#fff" stroke="#4a68a0" stroke-width="0.9" opacity="1"/>
<path d="M332.63,57.21 L334.93,61.58 L330.33,61.58 Z" fill="#fff" stroke="#4a68a0" stroke-width="0.9" opacity="1"/>
<path d="M335,57.17 L337.3,61.54 L332.7,61.54 Z" fill="#fff" stroke="#4a68a0" stroke-width="0.9" opacity="1"/>
<path d="M337.52,57.13 L339.82,61.5 L335.22,61.5 Z" fill="#fff" stroke="#4a68a0" stroke-width="0.9" opacity="1"/>
<path d="M339.88,57.11 L342.18,61.48 L337.57,61.48 Z" fill="#fff" stroke="#4a68a0" stroke-width="0.9" opacity="1"/>
<path d="M342.28,57.07 L344.58,61.44 L339.98,61.44 Z" fill="#fff" stroke="#4a68a0" stroke-width="0.9" opacity="1"/>
<path d="M344.67,56.99 L346.97,61.36 L342.37,61.36 Z" fill="#fff" stroke="#4a68a0" stroke-width="0.9" opacity="1"/>
<path d="M346.98,56.88 L349.28,61.25 L344.68,61.25 Z" fill="#fff" stroke="#4a68a0" stroke-width="0.9" opacity="1"/>
<path d="M349.6,56.75 L351.9,61.12 L347.3,61.12 Z" fill="#fff" stroke="#4a68a0" stroke-width="0.9" opacity="1"/>
<path d="M351.91,56.56 L354.21,60.93 L349.61,60.93 Z" fill="#fff" stroke="#4a68a0" stroke-width="0.9" opacity="1"/>
<path d="M354.3,56.21 L356.6,60.58 L352,60.58 Z" fill="#fff" stroke="#4a68a0" stroke-width="0.9" opacity="1"/>
<path d="M356.83,55.64 L359.13,60.01 L354.53,60.01 Z" fill="#fff" stroke="#4a68a0" stroke-width="0.9" opacity="1"/>
<path d="M359.15,55.01 L361.45,59.38 L356.85,59.38 Z" fill="#fff" stroke="#4a68a0" stroke-width="0.9" opacity="1"/>
<path d="M361.49,54.27 L363.79,58.64 L359.19,58.64 Z" fill="#fff" stroke="#4a68a0" stroke-width="0.9" opacity="1"/>
<path d="M363.77,53.46 L366.07,57.83 L361.47,57.83 Z" fill="#fff" stroke="#4a68a0" stroke-width="0.9" opacity="1"/>
<path d="M366.2,52.47 L368.5,56.84 L363.9,56.84 Z" fill="#fff" stroke="#4a68a0" stroke-width="0.9" opacity="1"/>
<path d="M368.32,51.43 L370.62,55.8 L366.02,55.8 Z" fill="#fff" stroke="#4a68a0" stroke-width="0.9" opacity="1"/>
<path d="M370.49,50.15 L372.79,54.52 L368.19,54.52 Z" fill="#fff" stroke="#4a68a0" stroke-width="0.9" opacity="1"/>
<path d="M372.56,48.77 L374.86,53.14 L370.26,53.14 Z" fill="#fff" stroke="#4a68a0" stroke-width="0.9" opacity="1"/>
<path d="M374.67,47.28 L376.97,51.65 L372.37,51.65 Z" fill="#fff" stroke="#4a68a0" stroke-width="0.9" opacity="1"/>
<path d="M376.57,45.82 L378.87,50.19 L374.27,50.19 Z" fill="#fff" stroke="#4a68a0" stroke-width="0.9" opacity="1"/>
<path d="M378.46,44.26 L380.76,48.63 L376.16,48.63 Z" fill="#fff" stroke="#4a68a0" stroke-width="0.9" opacity="1"/>
<path d="M380.34,42.68 L382.64,47.05 L378.04,47.05 Z" fill="#fff" stroke="#4a68a0" stroke-width="0.9" opacity="1"/>
<path d="M382.23,41.17 L384.53,45.54 L379.93,45.54 Z" fill="#fff" stroke="#4a68a0" stroke-width="0.9" opacity="1"/>
<path d="M384.36,39.66 L386.66,44.03 L382.06,44.03 Z" fill="#fff" stroke="#4a68a0" stroke-width="0.9" opacity="1"/>
<path d="M386.47,38.28 L388.77,42.65 L384.17,42.65 Z" fill="#fff" stroke="#4a68a0" stroke-width="0.9" opacity="1"/>
<path d="M388.62,36.84 L390.92,41.21 L386.32,41.21 Z" fill="#fff" stroke="#4a68a0" stroke-width="0.9" opacity="1"/>
<path d="M390.6,35.37 L392.9,39.74 L388.3,39.74 Z" fill="#fff" stroke="#4a68a0" stroke-width="0.9" opacity="1"/>
<path d="M392.39,33.91 L394.69,38.28 L390.09,38.28 Z" fill="#fff" stroke="#4a68a0" stroke-width="0.9" opacity="1"/>
<path d="M394.24,32.33 L396.54,36.7 L391.94,36.7 Z" fill="#fff" stroke="#4a68a0" stroke-width="0.9" opacity="1"/>
<path d="M396.13,30.65 L398.43,35.02 L393.83,35.02 Z" fill="#fff" stroke="#4a68a0" stroke-width="0.9" opacity="1"/>
<path d="M398.06,28.92 L400.36,33.29 L395.76,33.29 Z" fill="#fff" stroke="#4a68a0" stroke-width="0.9" opacity="1"/>
<path d="M400,27.17 L402.3,31.54 L397.7,31.54 Z" fill="#fff" stroke="#4a68a0" stroke-width="0.9" opacity="1"/>
<path d="M401.99,25.37 L404.29,29.74 L399.69,29.74 Z" fill="#fff" stroke="#4a68a0" stroke-width="0.9" opacity="1"/>
<path d="M403.71,23.82 L406.01,28.19 L401.41,28.19 Z" fill="#fff" stroke="#4a68a0" stroke-width="0.9" opacity="1"/>
<path d="M405.43,22.24 L407.73,26.61 L403.13,26.61 Z" fill="#fff" stroke="#4a68a0" stroke-width="0.9" opacity="1"/>
<path d="M407.13,20.67 L409.43,25.04 L404.83,25.04 Z" fill="#fff" stroke="#4a68a0" stroke-width="0.9" opacity="1"/>
<path d="M409.08,18.85 L411.38,23.22 L406.78,23.22 Z" fill="#fff" stroke="#4a68a0" stroke-width="0.9" opacity="1"/>
<path d="M410.89,17.12 L413.19,21.49 L408.59,21.49 Z" fill="#fff" stroke="#4a68a0" stroke-width="0.9" opacity="1"/>
<path d="M412.58,15.47 L414.88,19.84 L410.28,19.84 Z" fill="#fff" stroke="#4a68a0" stroke-width="0.9" opacity="1"/>
<path d="M414.45,13.6 L416.75,17.97 L412.15,17.97 Z" fill="#fff" stroke="#4a68a0" stroke-width="0.9" opacity="1"/>
<path d="M416.24,11.78 L418.54,16.15 L413.94,16.15 Z" fill="#fff" stroke="#4a68a0" stroke-width="0.9" opacity="1"/>
<path d="M418,9.97 L420.3,14.34 L415.7,14.34 Z" fill="#fff" stroke="#4a68a0" stroke-width="0.9" opacity="1"/>
<path d="M419.79,8.09 L422.09,12.46 L417.49,12.46 Z" fill="#fff" stroke="#4a68a0" stroke-width="0.9" opacity="1"/>
<path d="M421.57,6.18 L423.87,10.55 L419.27,10.55 Z" fill="#fff" stroke="#4a68a0" stroke-width="0.9" opacity="1"/>
<path d="M423.23,4.37 L425.53,8.74 L420.93,8.74 Z" fill="#fff" stroke="#4a68a0" stroke-width="0.9" opacity="1"/>
<path d="M424.83,2.65 L427.13,7.02 L422.53,7.02 Z" fill="#fff" stroke="#4a68a0" stroke-width="0.9" opacity="1"/>
<path d="M426.52,0.91 L428.82,5.28 L424.22,5.28 Z" fill="#fff" stroke="#4a68a0" stroke-width="0.9" opacity="1"/>
<path d="M263.5,123 L263.86,122.71 L264.31,122.34 L264.83,121.91 L265.41,121.43 L266.05,120.9 L266.73,120.34 L267.44,119.77 L268.16,119.19 L268.89,118.61 L269.62,118.04 L270.32,117.5 L271,117 L271.66,116.54 L272.32,116.09 L272.99,115.67 L273.66,115.26 L274.33,114.85 L275.01,114.44 L275.7,114.01 L276.4,113.57 L277.11,113.11 L277.83,112.61 L278.56,112.08 L279.3,111.5 L280.07,110.86 L280.87,110.17 L281.7,109.44 L282.55,108.67 L283.4,107.87 L284.26,107.06 L285.11,106.25 L285.95,105.44 L286.77,104.66 L287.55,103.9 L288.3,103.17 L289,102.5 L289.65,101.88 L290.26,101.31 L290.83,100.78 L291.37,100.28 L291.88,99.79 L292.39,99.31 L292.88,98.83 L293.38,98.33 L293.88,97.81 L294.4,97.26 L294.93,96.66 L295.5,96 L296.09,95.28 L296.71,94.51 L297.34,93.69 L297.98,92.83 L298.63,91.95 L299.28,91.06 L299.93,90.17 L300.57,89.28 L301.21,88.41 L301.83,87.56 L302.42,86.76 L303,86 L303.55,85.29 L304.09,84.62 L304.61,83.97 L305.11,83.35 L305.61,82.75 L306.09,82.16 L306.58,81.57 L307.06,80.98 L307.54,80.39 L308.02,79.78 L308.5,79.15 L309,78.5 L309.51,77.82 L310.03,77.1 L310.56,76.36 L311.09,75.61 L311.63,74.85 L312.16,74.09 L312.68,73.34 L313.19,72.61 L313.68,71.9 L314.14,71.23 L314.59,70.59 L315,70 L315.38,69.46 L315.72,68.95 L316.03,68.47 L316.33,68.02 L316.6,67.59 L316.86,67.19 L317.12,66.8 L317.37,66.43 L317.63,66.06 L317.91,65.71 L318.19,65.35 L318.5,65 L318.83,64.65 L319.16,64.31 L319.5,63.97 L319.84,63.65 L320.2,63.33 L320.55,63.03 L320.91,62.74 L321.27,62.46 L321.63,62.2 L321.99,61.95 L322.34,61.72 L322.7,61.5 L323.04,61.3 L323.37,61.12 L323.68,60.96 L323.99,60.81 L324.3,60.67 L324.61,60.55 L324.94,60.44 L325.29,60.34 L325.66,60.24 L326.07,60.16 L326.51,60.08 L327,60 L327.53,59.93 L328.1,59.88 L328.69,59.84 L329.32,59.81 L329.97,59.78 L330.64,59.77 L331.34,59.76 L332.05,59.75 L332.77,59.74 L333.51,59.73 L334.25,59.72 L335,59.7 L335.76,59.68 L336.55,59.67 L337.36,59.66 L338.19,59.65 L339.02,59.65 L339.88,59.64 L340.73,59.63 L341.59,59.61 L342.45,59.6 L343.31,59.57 L344.16,59.54 L345,59.5 L345.83,59.46 L346.65,59.42 L347.47,59.39 L348.29,59.35 L349.11,59.31 L349.93,59.26 L350.75,59.2 L351.58,59.13 L352.42,59.03 L353.26,58.91 L354.12,58.77 L355,58.6 L355.9,58.4 L356.83,58.17 L357.79,57.92 L358.76,57.65 L359.73,57.36 L360.71,57.06 L361.69,56.74 L362.64,56.4 L363.58,56.06 L364.49,55.71 L365.37,55.36 L366.2,55 L366.99,54.64 L367.74,54.27 L368.46,53.88 L369.16,53.49 L369.83,53.09 L370.49,52.68 L371.14,52.26 L371.79,51.83 L372.43,51.39 L373.07,50.94 L373.73,50.47 L374.4,50 L375.08,49.51 L375.76,48.99 L376.43,48.46 L377.11,47.91 L377.78,47.35 L378.46,46.79 L379.13,46.22 L379.8,45.66 L380.48,45.1 L381.15,44.55 L381.83,44.01 L382.5,43.5 L383.17,43.01 L383.83,42.54 L384.49,42.1 L385.15,41.66 L385.81,41.23 L386.47,40.81 L387.13,40.37 L387.8,39.93 L388.48,39.46 L389.17,38.97 L389.88,38.45 L390.6,37.9 L391.34,37.31 L392.08,36.7 L392.84,36.06 L393.61,35.4 L394.39,34.72 L395.18,34.02 L395.97,33.32 L396.77,32.6 L397.58,31.88 L398.38,31.15 L399.19,30.43 L400,29.7 L400.82,28.96 L401.66,28.21 L402.5,27.44 L403.36,26.66 L404.23,25.88 L405.09,25.09 L405.94,24.3 L406.79,23.51 L407.63,22.74 L408.44,21.98 L409.23,21.23 L410,20.5 L410.74,19.79 L411.46,19.09 L412.16,18.4 L412.85,17.73 L413.53,17.06 L414.19,16.39 L414.84,15.74 L415.48,15.09 L416.12,14.44 L416.75,13.79 L417.37,13.15 L418,12.5 L418.63,11.84 L419.27,11.17 L419.91,10.48 L420.56,9.8 L421.19,9.11 L421.81,8.44 L422.42,7.78 L423,7.15 L423.55,6.55 L424.08,5.98 L424.56,5.47 L425,5 L425.4,4.58 L425.77,4.2 L426.1,3.86 L426.41,3.56 L426.69,3.28 L426.94,3.03 L427.17,2.81 L427.37,2.61 L427.55,2.43 L427.72,2.27 L427.87,2.13 L428,2" fill="none" stroke="#142a55" stroke-width="1.5" stroke-dasharray="3,2.6" stroke-opacity="1" stroke-linejoin="round" transform="translate(0,-2.2)"/>
<path d="M263.5,117.03 L266.2,122.16 L260.8,122.16 Z" fill="#1b376e" stroke="none" stroke-width="0.6" opacity="1"/>
<path d="M265.66,115.26 L268.36,120.39 L262.96,120.39 Z" fill="#1b376e" stroke="none" stroke-width="0.6" opacity="1"/>
<path d="M267.87,113.46 L270.57,118.59 L265.17,118.59 Z" fill="#1b376e" stroke="none" stroke-width="0.6" opacity="1"/>
<path d="M270.18,111.64 L272.88,116.77 L267.48,116.77 Z" fill="#1b376e" stroke="none" stroke-width="0.6" opacity="1"/>
<path d="M272.32,110.1 L275.02,115.23 L269.62,115.23 Z" fill="#1b376e" stroke="none" stroke-width="0.6" opacity="1"/>
<path d="M274.74,108.54 L277.44,113.67 L272.04,113.67 Z" fill="#1b376e" stroke="none" stroke-width="0.6" opacity="1"/>
<path d="M276.97,107.07 L279.67,112.2 L274.27,112.2 Z" fill="#1b376e" stroke="none" stroke-width="0.6" opacity="1"/>
<path d="M279.3,105.33 L282,110.46 L276.6,110.46 Z" fill="#1b376e" stroke="none" stroke-width="0.6" opacity="1"/>
<path d="M281.53,103.42 L284.23,108.55 L278.83,108.55 Z" fill="#1b376e" stroke="none" stroke-width="0.6" opacity="1"/>
<path d="M283.58,101.56 L286.28,106.69 L280.88,106.69 Z" fill="#1b376e" stroke="none" stroke-width="0.6" opacity="1"/>
<path d="M285.62,99.65 L288.32,104.78 L282.92,104.78 Z" fill="#1b376e" stroke="none" stroke-width="0.6" opacity="1"/>
<path d="M287.55,97.81 L290.25,102.94 L284.85,102.94 Z" fill="#1b376e" stroke="none" stroke-width="0.6" opacity="1"/>
<path d="M289.52,95.94 L292.22,101.07 L286.82,101.07 Z" fill="#1b376e" stroke="none" stroke-width="0.6" opacity="1"/>
<path d="M291.58,94.07 L294.28,99.2 L288.88,99.2 Z" fill="#1b376e" stroke="none" stroke-width="0.6" opacity="1"/>
<path d="M293.58,92.17 L296.28,97.3 L290.88,97.3 Z" fill="#1b376e" stroke="none" stroke-width="0.6" opacity="1"/>
<path d="M295.5,90.03 L298.2,95.16 L292.8,95.16 Z" fill="#1b376e" stroke="none" stroke-width="0.6" opacity="1"/>
<path d="M297.21,87.8 L299.91,92.93 L294.51,92.93 Z" fill="#1b376e" stroke="none" stroke-width="0.6" opacity="1"/>
<path d="M298.76,85.61 L301.46,90.74 L296.06,90.74 Z" fill="#1b376e" stroke="none" stroke-width="0.6" opacity="1"/>
<path d="M300.32,83.33 L303.02,88.46 L297.62,88.46 Z" fill="#1b376e" stroke="none" stroke-width="0.6" opacity="1"/>
<path d="M301.83,81.15 L304.53,86.28 L299.13,86.28 Z" fill="#1b376e" stroke="none" stroke-width="0.6" opacity="1"/>
<path d="M303.44,78.94 L306.14,84.07 L300.74,84.07 Z" fill="#1b376e" stroke="none" stroke-width="0.6" opacity="1"/>
<path d="M305.11,76.84 L307.81,81.97 L302.41,81.97 Z" fill="#1b376e" stroke="none" stroke-width="0.6" opacity="1"/>
<path d="M306.86,74.73 L309.56,79.86 L304.16,79.86 Z" fill="#1b376e" stroke="none" stroke-width="0.6" opacity="1"/>
<path d="M308.6,72.55 L311.3,77.68 L305.9,77.68 Z" fill="#1b376e" stroke="none" stroke-width="0.6" opacity="1"/>
<path d="M310.2,70.38 L312.9,75.51 L307.5,75.51 Z" fill="#1b376e" stroke="none" stroke-width="0.6" opacity="1"/>
<path d="M311.78,68.08 L314.48,73.21 L309.08,73.21 Z" fill="#1b376e" stroke="none" stroke-width="0.6" opacity="1"/>
<path d="M313.38,65.77 L316.08,70.9 L310.68,70.9 Z" fill="#1b376e" stroke="none" stroke-width="0.6" opacity="1"/>
<path d="M315,63.53 L317.7,68.66 L312.3,68.66 Z" fill="#1b376e" stroke="none" stroke-width="0.6" opacity="1"/>
<path d="M316.66,61.36 L319.36,66.49 L313.96,66.49 Z" fill="#1b376e" stroke="none" stroke-width="0.6" opacity="1"/>
<path d="M318.34,59.24 L321.04,64.37 L315.64,64.37 Z" fill="#1b376e" stroke="none" stroke-width="0.6" opacity="1"/>
<path d="M320.04,57.22 L322.74,62.35 L317.34,62.35 Z" fill="#1b376e" stroke="none" stroke-width="0.6" opacity="1"/>
<path d="M321.93,55.17 L324.63,60.3 L319.23,60.3 Z" fill="#1b376e" stroke="none" stroke-width="0.6" opacity="1"/>
<path d="M323.82,53.32 L326.52,58.45 L321.12,58.45 Z" fill="#1b376e" stroke="none" stroke-width="0.6" opacity="1"/>
<path d="M325.92,51.5 L328.62,56.63 L323.22,56.63 Z" fill="#1b376e" stroke="none" stroke-width="0.6" opacity="1"/>
<path d="M328.02,49.95 L330.72,55.08 L325.32,55.08 Z" fill="#1b376e" stroke="none" stroke-width="0.6" opacity="1"/>
<path d="M330.33,48.63 L333.03,53.76 L327.63,53.76 Z" fill="#1b376e" stroke="none" stroke-width="0.6" opacity="1"/>
<path d="M332.85,47.49 L335.55,52.62 L330.15,52.62 Z" fill="#1b376e" stroke="none" stroke-width="0.6" opacity="1"/>
<path d="M335.37,46.41 L338.07,51.54 L332.67,51.54 Z" fill="#1b376e" stroke="none" stroke-width="0.6" opacity="1"/>
<path d="M337.89,45.45 L340.59,50.58 L335.19,50.58 Z" fill="#1b376e" stroke="none" stroke-width="0.6" opacity="1"/>
<path d="M340.41,44.56 L343.11,49.69 L337.71,49.69 Z" fill="#1b376e" stroke="none" stroke-width="0.6" opacity="1"/>
<path d="M343.01,43.66 L345.71,48.79 L340.31,48.79 Z" fill="#1b376e" stroke="none" stroke-width="0.6" opacity="1"/>
<path d="M345.55,42.88 L348.25,48.01 L342.85,48.01 Z" fill="#1b376e" stroke="none" stroke-width="0.6" opacity="1"/>
<path d="M348.28,42.23 L350.98,47.36 L345.58,47.36 Z" fill="#1b376e" stroke="none" stroke-width="0.6" opacity="1"/>
<path d="M351.01,41.72 L353.71,46.85 L348.31,46.85 Z" fill="#1b376e" stroke="none" stroke-width="0.6" opacity="1"/>
<path d="M353.71,41.16 L356.41,46.29 L351.01,46.29 Z" fill="#1b376e" stroke="none" stroke-width="0.6" opacity="1"/>
<path d="M356.32,40.45 L359.02,45.58 L353.62,45.58 Z" fill="#1b376e" stroke="none" stroke-width="0.6" opacity="1"/>
<path d="M359.04,39.56 L361.74,44.69 L356.34,44.69 Z" fill="#1b376e" stroke="none" stroke-width="0.6" opacity="1"/>
<path d="M361.6,38.69 L364.3,43.82 L358.9,43.82 Z" fill="#1b376e" stroke="none" stroke-width="0.6" opacity="1"/>
<path d="M364.43,37.76 L367.13,42.89 L361.73,42.89 Z" fill="#1b376e" stroke="none" stroke-width="0.6" opacity="1"/>
<path d="M367.16,36.96 L369.86,42.09 L364.46,42.09 Z" fill="#1b376e" stroke="none" stroke-width="0.6" opacity="1"/>
<path d="M369.82,36.24 L372.52,41.37 L367.12,41.37 Z" fill="#1b376e" stroke="none" stroke-width="0.6" opacity="1"/>
<path d="M372.75,35.47 L375.45,40.6 L370.05,40.6 Z" fill="#1b376e" stroke="none" stroke-width="0.6" opacity="1"/>
<path d="M375.74,34.7 L378.44,39.83 L373.04,39.83 Z" fill="#1b376e" stroke="none" stroke-width="0.6" opacity="1"/>
<path d="M378.61,33.95 L381.31,39.08 L375.91,39.08 Z" fill="#1b376e" stroke="none" stroke-width="0.6" opacity="1"/>
<path d="M381.18,33.23 L383.88,38.36 L378.48,38.36 Z" fill="#1b376e" stroke="none" stroke-width="0.6" opacity="1"/>
<path d="M383.98,32.35 L386.68,37.48 L381.28,37.48 Z" fill="#1b376e" stroke="none" stroke-width="0.6" opacity="1"/>
<path d="M386.51,31.41 L389.21,36.54 L383.81,36.54 Z" fill="#1b376e" stroke="none" stroke-width="0.6" opacity="1"/>
<path d="M389.03,30.27 L391.73,35.4 L386.33,35.4 Z" fill="#1b376e" stroke="none" stroke-width="0.6" opacity="1"/>
<path d="M391.48,29.12 L394.18,34.25 L388.78,34.25 Z" fill="#1b376e" stroke="none" stroke-width="0.6" opacity="1"/>
<path d="M393.93,27.96 L396.63,33.09 L391.23,33.09 Z" fill="#1b376e" stroke="none" stroke-width="0.6" opacity="1"/>
<path d="M396.45,26.68 L399.15,31.81 L393.75,31.81 Z" fill="#1b376e" stroke="none" stroke-width="0.6" opacity="1"/>
<path d="M399.03,25.23 L401.73,30.36 L396.33,30.36 Z" fill="#1b376e" stroke="none" stroke-width="0.6" opacity="1"/>
<path d="M401.29,23.79 L403.99,28.92 L398.59,28.92 Z" fill="#1b376e" stroke="none" stroke-width="0.6" opacity="1"/>
<path d="M403.57,22.2 L406.27,27.33 L400.87,27.33 Z" fill="#1b376e" stroke="none" stroke-width="0.6" opacity="1"/>
<path d="M405.88,20.48 L408.58,25.61 L403.18,25.61 Z" fill="#1b376e" stroke="none" stroke-width="0.6" opacity="1"/>
<path d="M408.25,18.63 L410.95,23.76 L405.55,23.76 Z" fill="#1b376e" stroke="none" stroke-width="0.6" opacity="1"/>
<path d="M410.36,16.94 L413.06,22.07 L407.66,22.07 Z" fill="#1b376e" stroke="none" stroke-width="0.6" opacity="1"/>
<path d="M412.64,15.06 L415.34,20.19 L409.94,20.19 Z" fill="#1b376e" stroke="none" stroke-width="0.6" opacity="1"/>
<path d="M414.65,13.36 L417.35,18.49 L411.95,18.49 Z" fill="#1b376e" stroke="none" stroke-width="0.6" opacity="1"/>
<path d="M416.65,11.63 L419.35,16.76 L413.95,16.76 Z" fill="#1b376e" stroke="none" stroke-width="0.6" opacity="1"/>
<path d="M418.95,9.62 L421.65,14.75 L416.25,14.75 Z" fill="#1b376e" stroke="none" stroke-width="0.6" opacity="1"/>
<path d="M420.99,7.8 L423.69,12.93 L418.29,12.93 Z" fill="#1b376e" stroke="none" stroke-width="0.6" opacity="1"/>
<path d="M423.04,5.92 L425.74,11.05 L420.34,11.05 Z" fill="#1b376e" stroke="none" stroke-width="0.6" opacity="1"/>
<path d="M425.12,3.91 L427.82,9.04 L422.42,9.04 Z" fill="#1b376e" stroke="none" stroke-width="0.6" opacity="1"/>
<path d="M426.99,2.03 L429.69,7.16 L424.29,7.16 Z" fill="#1b376e" stroke="none" stroke-width="0.6" opacity="1"/>
<path d="M263.5,120 L263.86,119.71 L264.31,119.34 L264.83,118.91 L265.41,118.43 L266.05,117.91 L266.73,117.36 L267.44,116.78 L268.16,116.2 L268.89,115.62 L269.62,115.05 L270.32,114.51 L271,114 L271.66,113.52 L272.32,113.07 L272.99,112.63 L273.66,112.2 L274.33,111.77 L275.01,111.33 L275.7,110.89 L276.4,110.43 L277.11,109.94 L277.83,109.43 L278.56,108.89 L279.3,108.3 L280.07,107.66 L280.87,106.97 L281.7,106.24 L282.55,105.48 L283.4,104.69 L284.26,103.89 L285.11,103.09 L285.95,102.3 L286.77,101.52 L287.55,100.78 L288.3,100.06 L289,99.4 L289.65,98.79 L290.26,98.24 L290.83,97.72 L291.37,97.23 L291.88,96.76 L292.39,96.3 L292.88,95.83 L293.38,95.34 L293.88,94.83 L294.4,94.28 L294.93,93.67 L295.5,93 L296.09,92.26 L296.71,91.45 L297.34,90.59 L297.98,89.69 L298.63,88.76 L299.28,87.82 L299.93,86.87 L300.57,85.93 L301.21,85.01 L301.83,84.12 L302.42,83.28 L303,82.5 L303.55,81.77 L304.09,81.09 L304.61,80.44 L305.11,79.81 L305.61,79.21 L306.09,78.62 L306.58,78.04 L307.06,77.46 L307.54,76.88 L308.02,76.27 L308.5,75.65 L309,75 L309.5,74.32 L310,73.63 L310.49,72.93 L310.99,72.21 L311.48,71.49 L311.98,70.76 L312.48,70.04 L312.98,69.31 L313.48,68.59 L313.98,67.88 L314.49,67.18 L315,66.5 L315.51,65.82 L316.03,65.15 L316.55,64.47 L317.08,63.8 L317.6,63.13 L318.13,62.47 L318.66,61.82 L319.19,61.18 L319.72,60.56 L320.25,59.95 L320.77,59.37 L321.3,58.8 L321.82,58.25 L322.35,57.72 L322.88,57.2 L323.4,56.69 L323.93,56.2 L324.45,55.72 L324.98,55.26 L325.5,54.81 L326.03,54.38 L326.55,53.97 L327.08,53.58 L327.6,53.2 L328.12,52.85 L328.65,52.52 L329.18,52.21 L329.7,51.93 L330.23,51.66 L330.75,51.4 L331.28,51.16 L331.8,50.92 L332.32,50.69 L332.85,50.46 L333.38,50.23 L333.9,50 L334.42,49.77 L334.95,49.55 L335.47,49.33 L336,49.13 L336.52,48.92 L337.05,48.73 L337.57,48.53 L338.1,48.34 L338.62,48.15 L339.15,47.97 L339.67,47.78 L340.2,47.6 L340.72,47.42 L341.22,47.24 L341.72,47.07 L342.22,46.9 L342.71,46.73 L343.21,46.56 L343.72,46.4 L344.24,46.24 L344.77,46.08 L345.32,45.92 L345.9,45.76 L346.5,45.6 L347.12,45.45 L347.76,45.31 L348.41,45.18 L349.07,45.05 L349.75,44.93 L350.44,44.8 L351.16,44.67 L351.89,44.53 L352.63,44.37 L353.4,44.2 L354.19,44.01 L355,43.8 L355.82,43.57 L356.65,43.31 L357.49,43.05 L358.34,42.76 L359.22,42.47 L360.11,42.16 L361.04,41.85 L361.99,41.53 L362.98,41.2 L364.01,40.87 L365.08,40.53 L366.2,40.2 L367.41,39.86 L368.72,39.5 L370.11,39.13 L371.56,38.75 L373.05,38.37 L374.54,37.98 L376.03,37.6 L377.49,37.21 L378.88,36.84 L380.2,36.48 L381.41,36.13 L382.5,35.8 L383.46,35.49 L384.31,35.2 L385.07,34.94 L385.76,34.68 L386.39,34.43 L386.98,34.18 L387.55,33.93 L388.11,33.68 L388.68,33.41 L389.27,33.13 L389.91,32.83 L390.6,32.5 L391.34,32.16 L392.08,31.8 L392.84,31.45 L393.61,31.08 L394.39,30.7 L395.18,30.31 L395.97,29.9 L396.77,29.48 L397.58,29.04 L398.38,28.58 L399.19,28.1 L400,27.6 L400.81,27.08 L401.62,26.54 L402.43,25.98 L403.24,25.4 L404.06,24.81 L404.88,24.2 L405.71,23.57 L406.55,22.93 L407.39,22.27 L408.25,21.6 L409.12,20.91 L410,20.2 L410.91,19.46 L411.86,18.68 L412.84,17.86 L413.84,17.02 L414.85,16.16 L415.86,15.29 L416.85,14.43 L417.83,13.58 L418.77,12.75 L419.67,11.96 L420.52,11.2 L421.3,10.5 L422.04,9.83 L422.76,9.16 L423.46,8.5 L424.12,7.86 L424.76,7.24 L425.36,6.64 L425.92,6.09 L426.43,5.57 L426.9,5.09 L427.32,4.67 L427.69,4.3 L428,4" fill="none" stroke="#1b376e" stroke-width="4.0" stroke-opacity="1" stroke-linejoin="round" />
<path d="M263.5,120 L263.86,119.71 L264.31,119.34 L264.83,118.91 L265.41,118.43 L266.05,117.91 L266.73,117.36 L267.44,116.78 L268.16,116.2 L268.89,115.62 L269.62,115.05 L270.32,114.51 L271,114 L271.66,113.52 L272.32,113.07 L272.99,112.63 L273.66,112.2 L274.33,111.77 L275.01,111.33 L275.7,110.89 L276.4,110.43 L277.11,109.94 L277.83,109.43 L278.56,108.89 L279.3,108.3 L280.07,107.66 L280.87,106.97 L281.7,106.24 L282.55,105.48 L283.4,104.69 L284.26,103.89 L285.11,103.09 L285.95,102.3 L286.77,101.52 L287.55,100.78 L288.3,100.06 L289,99.4 L289.65,98.79 L290.26,98.24 L290.83,97.72 L291.37,97.23 L291.88,96.76 L292.39,96.3 L292.88,95.83 L293.38,95.34 L293.88,94.83 L294.4,94.28 L294.93,93.67 L295.5,93 L296.09,92.26 L296.71,91.45 L297.34,90.59 L297.98,89.69 L298.63,88.76 L299.28,87.82 L299.93,86.87 L300.57,85.93 L301.21,85.01 L301.83,84.12 L302.42,83.28 L303,82.5 L303.55,81.77 L304.09,81.09 L304.61,80.44 L305.11,79.81 L305.61,79.21 L306.09,78.62 L306.58,78.04 L307.06,77.46 L307.54,76.88 L308.02,76.27 L308.5,75.65 L309,75 L309.5,74.32 L310,73.63 L310.49,72.93 L310.99,72.21 L311.48,71.49 L311.98,70.76 L312.48,70.04 L312.98,69.31 L313.48,68.59 L313.98,67.88 L314.49,67.18 L315,66.5 L315.51,65.82 L316.03,65.15 L316.55,64.47 L317.08,63.8 L317.6,63.13 L318.13,62.47 L318.66,61.82 L319.19,61.18 L319.72,60.56 L320.25,59.95 L320.77,59.37 L321.3,58.8 L321.82,58.25 L322.35,57.72 L322.88,57.2 L323.4,56.69 L323.93,56.2 L324.45,55.72 L324.98,55.26 L325.5,54.81 L326.03,54.38 L326.55,53.97 L327.08,53.58 L327.6,53.2 L328.12,52.85 L328.65,52.52 L329.18,52.21 L329.7,51.93 L330.23,51.66 L330.75,51.4 L331.28,51.16 L331.8,50.92 L332.32,50.69 L332.85,50.46 L333.38,50.23 L333.9,50 L334.42,49.77 L334.95,49.55 L335.47,49.33 L336,49.13 L336.52,48.92 L337.05,48.73 L337.57,48.53 L338.1,48.34 L338.62,48.15 L339.15,47.97 L339.67,47.78 L340.2,47.6 L340.72,47.42 L341.22,47.24 L341.72,47.07 L342.22,46.9 L342.71,46.73 L343.21,46.56 L343.72,46.4 L344.24,46.24 L344.77,46.08 L345.32,45.92 L345.9,45.76 L346.5,45.6 L347.12,45.45 L347.76,45.31 L348.41,45.18 L349.07,45.05 L349.75,44.93 L350.44,44.8 L351.16,44.67 L351.89,44.53 L352.63,44.37 L353.4,44.2 L354.19,44.01 L355,43.8 L355.82,43.57 L356.65,43.31 L357.49,43.05 L358.34,42.76 L359.22,42.47 L360.11,42.16 L361.04,41.85 L361.99,41.53 L362.98,41.2 L364.01,40.87 L365.08,40.53 L366.2,40.2 L367.41,39.86 L368.72,39.5 L370.11,39.13 L371.56,38.75 L373.05,38.37 L374.54,37.98 L376.03,37.6 L377.49,37.21 L378.88,36.84 L380.2,36.48 L381.41,36.13 L382.5,35.8 L383.46,35.49 L384.31,35.2 L385.07,34.94 L385.76,34.68 L386.39,34.43 L386.98,34.18 L387.55,33.93 L388.11,33.68 L388.68,33.41 L389.27,33.13 L389.91,32.83 L390.6,32.5 L391.34,32.16 L392.08,31.8 L392.84,31.45 L393.61,31.08 L394.39,30.7 L395.18,30.31 L395.97,29.9 L396.77,29.48 L397.58,29.04 L398.38,28.58 L399.19,28.1 L400,27.6 L400.81,27.08 L401.62,26.54 L402.43,25.98 L403.24,25.4 L404.06,24.81 L404.88,24.2 L405.71,23.57 L406.55,22.93 L407.39,22.27 L408.25,21.6 L409.12,20.91 L410,20.2 L410.91,19.46 L411.86,18.68 L412.84,17.86 L413.84,17.02 L414.85,16.16 L415.86,15.29 L416.85,14.43 L417.83,13.58 L418.77,12.75 L419.67,11.96 L420.52,11.2 L421.3,10.5 L422.04,9.83 L422.76,9.16 L423.46,8.5 L424.12,7.86 L424.76,7.24 L425.36,6.64 L425.92,6.09 L426.43,5.57 L426.9,5.09 L427.32,4.67 L427.69,4.3 L428,4" fill="none" stroke="#b4cbef" stroke-width="0.9" stroke-opacity="1" stroke-linejoin="round" />
</g>
<path d="M311.4,212.9 V238.2 H301.6 Z" fill="none" stroke="#8a8a8a" stroke-width="0.7"/>
<rect x="263.5" y="5.2" width="177" height="238" fill="none" stroke="#222" stroke-width="1"/>
<path d="M263.5,243.2h-2.6 M263.5,234.24h-1.5 M263.5,229.01h-1.5 M263.5,225.29h-1.5 M263.5,222.41h-1.5 M263.5,220.05h-1.5 M263.5,218.06h-1.5 M263.5,216.33h-1.5 M263.5,214.81h-1.5 M263.5,213.45h-2.6 M263.5,204.49h-1.5 M263.5,199.26h-1.5 M263.5,195.54h-1.5 M263.5,192.66h-1.5 M263.5,190.3h-1.5 M263.5,188.31h-1.5 M263.5,186.58h-1.5 M263.5,185.06h-1.5 M263.5,183.7h-2.6 M263.5,174.74h-1.5 M263.5,169.51h-1.5 M263.5,165.79h-1.5 M263.5,162.91h-1.5 M263.5,160.55h-1.5 M263.5,158.56h-1.5 M263.5,156.83h-1.5 M263.5,155.31h-1.5 M263.5,153.95h-2.6 M263.5,144.99h-1.5 M263.5,139.76h-1.5 M263.5,136.04h-1.5 M263.5,133.16h-1.5 M263.5,130.8h-1.5 M263.5,128.81h-1.5 M263.5,127.08h-1.5 M263.5,125.56h-1.5 M263.5,124.2h-2.6 M263.5,115.24h-1.5 M263.5,110.01h-1.5 M263.5,106.29h-1.5 M263.5,103.41h-1.5 M263.5,101.05h-1.5 M263.5,99.06h-1.5 M263.5,97.33h-1.5 M263.5,95.81h-1.5 M263.5,94.45h-2.6 M263.5,85.49h-1.5 M263.5,80.26h-1.5 M263.5,76.54h-1.5 M263.5,73.66h-1.5 M263.5,71.3h-1.5 M263.5,69.31h-1.5 M263.5,67.58h-1.5 M263.5,66.06h-1.5 M263.5,64.7h-2.6 M263.5,55.74h-1.5 M263.5,50.51h-1.5 M263.5,46.79h-1.5 M263.5,43.91h-1.5 M263.5,41.55h-1.5 M263.5,39.56h-1.5 M263.5,37.83h-1.5 M263.5,36.31h-1.5 M263.5,34.95h-2.6 M263.5,25.99h-1.5 M263.5,20.76h-1.5 M263.5,17.04h-1.5 M263.5,14.16h-1.5 M263.5,11.8h-1.5 M263.5,9.81h-1.5 M263.5,8.08h-1.5 M263.5,6.56h-1.5 M263.5,5.2h-2.6" stroke="#222" stroke-width="0.7" fill="none"/>
<path d="M263.5,243.2v2.6 M268.83,243.2v1.5 M271.95,243.2v1.5 M274.16,243.2v1.5 M275.87,243.2v1.5 M277.27,243.2v1.5 M278.46,243.2v1.5 M279.48,243.2v1.5 M280.39,243.2v1.5 M281.2,243.2v2.6 M286.53,243.2v1.5 M289.65,243.2v1.5 M291.86,243.2v1.5 M293.57,243.2v1.5 M294.97,243.2v1.5 M296.16,243.2v1.5 M297.18,243.2v1.5 M298.09,243.2v1.5 M298.9,243.2v2.6 M304.23,243.2v1.5 M307.35,243.2v1.5 M309.56,243.2v1.5 M311.27,243.2v1.5 M312.67,243.2v1.5 M313.86,243.2v1.5 M314.88,243.2v1.5 M315.79,243.2v1.5 M316.6,243.2v2.6 M321.93,243.2v1.5 M325.05,243.2v1.5 M327.26,243.2v1.5 M328.97,243.2v1.5 M330.37,243.2v1.5 M331.56,243.2v1.5 M332.58,243.2v1.5 M333.49,243.2v1.5 M334.3,243.2v2.6 M339.63,243.2v1.5 M342.75,243.2v1.5 M344.96,243.2v1.5 M346.67,243.2v1.5 M348.07,243.2v1.5 M349.26,243.2v1.5 M350.28,243.2v1.5 M351.19,243.2v1.5 M352,243.2v2.6 M357.33,243.2v1.5 M360.45,243.2v1.5 M362.66,243.2v1.5 M364.37,243.2v1.5 M365.77,243.2v1.5 M366.96,243.2v1.5 M367.98,243.2v1.5 M368.89,243.2v1.5 M369.7,243.2v2.6 M375.03,243.2v1.5 M378.15,243.2v1.5 M380.36,243.2v1.5 M382.07,243.2v1.5 M383.47,243.2v1.5 M384.66,243.2v1.5 M385.68,243.2v1.5 M386.59,243.2v1.5 M387.4,243.2v2.6 M392.73,243.2v1.5 M395.85,243.2v1.5 M398.06,243.2v1.5 M399.77,243.2v1.5 M401.17,243.2v1.5 M402.36,243.2v1.5 M403.38,243.2v1.5 M404.29,243.2v1.5 M405.1,243.2v2.6 M410.43,243.2v1.5 M413.55,243.2v1.5 M415.76,243.2v1.5 M417.47,243.2v1.5 M418.87,243.2v1.5 M420.06,243.2v1.5 M421.08,243.2v1.5 M421.99,243.2v1.5 M422.8,243.2v2.6 M428.13,243.2v1.5 M431.25,243.2v1.5 M433.46,243.2v1.5 M435.17,243.2v1.5 M436.57,243.2v1.5 M437.76,243.2v1.5 M438.78,243.2v1.5 M439.69,243.2v1.5 M440.5,243.2v2.6" stroke="#222" stroke-width="0.7" fill="none"/>
<text transform="translate(259.9,247.1) scale(1,1.09)" font-size="8.2" text-anchor="end">10<tspan font-size="5.2" dy="-3.3">2</tspan></text>
<text transform="translate(259.9,217.35) scale(1,1.09)" font-size="8.2" text-anchor="end">10<tspan font-size="5.2" dy="-3.3">3</tspan></text>
<text transform="translate(259.9,187.6) scale(1,1.09)" font-size="8.2" text-anchor="end">10<tspan font-size="5.2" dy="-3.3">4</tspan></text>
<text transform="translate(259.9,157.85) scale(1,1.09)" font-size="8.2" text-anchor="end">10<tspan font-size="5.2" dy="-3.3">5</tspan></text>
<text transform="translate(259.9,128.1) scale(1,1.09)" font-size="8.2" text-anchor="end">10<tspan font-size="5.2" dy="-3.3">6</tspan></text>
<text transform="translate(259.9,98.35) scale(1,1.09)" font-size="8.2" text-anchor="end">10<tspan font-size="5.2" dy="-3.3">7</tspan></text>
<text transform="translate(259.9,68.6) scale(1,1.09)" font-size="8.2" text-anchor="end">10<tspan font-size="5.2" dy="-3.3">8</tspan></text>
<text transform="translate(259.9,38.85) scale(1,1.09)" font-size="8.2" text-anchor="end">10<tspan font-size="5.2" dy="-3.3">9</tspan></text>
<text transform="translate(259.9,9.1) scale(1,1.09)" font-size="8.2" text-anchor="end">10<tspan font-size="5.2" dy="-3.3">10</tspan></text>
<text transform="translate(263.7,256.95) scale(1,1.09)" font-size="8.2" text-anchor="middle">10<tspan font-size="5.2" dy="-3.3">-5</tspan></text>
<text transform="translate(299.1,256.95) scale(1,1.09)" font-size="8.2" text-anchor="middle">10<tspan font-size="5.2" dy="-3.3">-3</tspan></text>
<text transform="translate(334.5,256.95) scale(1,1.09)" font-size="8.2" text-anchor="middle">10<tspan font-size="5.2" dy="-3.3">-1</tspan></text>
<text transform="translate(369.9,256.95) scale(1,1.09)" font-size="8.2" text-anchor="middle">10<tspan font-size="5.2" dy="-3.3">1</tspan></text>
<text transform="translate(405.3,256.95) scale(1,1.09)" font-size="8.2" text-anchor="middle">10<tspan font-size="5.2" dy="-3.3">3</tspan></text>
<text transform="translate(440.7,256.95) scale(1,1.09)" font-size="8.2" text-anchor="middle">10<tspan font-size="5.2" dy="-3.3">5</tspan></text>
<polyline points="506.9,93.3 530,60.4 580.9,39.4 646,14.7" fill="none" stroke="#ebb94f" stroke-width="0.8"/>
<polyline points="521,89.6 562.5,46.5 608.8,22.1" fill="none" stroke="#86d1a6" stroke-width="0.8"/>
<polyline points="548.4,86.8 585.2,69.5" fill="none" stroke="#6fa3ea" stroke-width="0.8"/>
<rect x="503.3" y="89.7" width="7.2" height="7.2" fill="#d49c14" stroke="#fff" stroke-width="2.2" paint-order="stroke"/>
<rect x="526.4" y="56.8" width="7.2" height="7.2" fill="#d49c14" stroke="#fff" stroke-width="2.2" paint-order="stroke"/>
<rect x="577.3" y="35.8" width="7.2" height="7.2" fill="#d49c14" stroke="#fff" stroke-width="2.2" paint-order="stroke"/>
<rect x="642.4" y="11.1" width="7.2" height="7.2" fill="#d49c14" stroke="#fff" stroke-width="2.2" paint-order="stroke"/>
<circle cx="521" cy="89.6" r="4" fill="#34ac6c" stroke="#fff" stroke-width="2.2" paint-order="stroke"/>
<circle cx="562.5" cy="46.5" r="4" fill="#34ac6c" stroke="#fff" stroke-width="2.2" paint-order="stroke"/>
<circle cx="608.8" cy="22.1" r="4" fill="#34ac6c" stroke="#fff" stroke-width="2.2" paint-order="stroke"/>
<path d="M548.4,82.2 L552.9,90.2 L543.9,90.2 Z" fill="#2a6ed8" stroke="#fff" stroke-width="2.2" paint-order="stroke" stroke-linejoin="round"/>
<path d="M585.2,64.8 L589.7,72.8 L580.7,72.8 Z" fill="#2a6ed8" stroke="#fff" stroke-width="2.2" paint-order="stroke" stroke-linejoin="round"/>
<rect x="493.3" y="4.8" width="185.3" height="103.5" fill="none" stroke="#222" stroke-width="1"/>
<path d="M493.3,108.3h-2.6 M493.3,93.83h-1.5 M493.3,87.6h-2.6 M493.3,73.13h-1.5 M493.3,66.9h-2.6 M493.3,52.43h-1.5 M493.3,46.2h-2.6 M493.3,31.73h-1.5 M493.3,25.5h-2.6 M493.3,11.03h-1.5 M493.3,4.8h-2.6 M493.3,108.3v2.6 M516.46,108.3v1.5 M539.62,108.3v2.6 M562.79,108.3v1.5 M585.95,108.3v2.6 M609.11,108.3v1.5 M632.27,108.3v2.6 M655.44,108.3v1.5 M678.6,108.3v2.6" stroke="#222" stroke-width="0.7" fill="none"/>
<text transform="translate(488.2,112.4) scale(1,1.08)" font-size="9.0" text-anchor="end">10<tspan font-size="6.1" dy="-3.5">1</tspan></text>
<text transform="translate(488.2,71) scale(1,1.08)" font-size="9.0" text-anchor="end">10<tspan font-size="6.1" dy="-3.5">3</tspan></text>
<text transform="translate(488.2,29.6) scale(1,1.08)" font-size="9.0" text-anchor="end">10<tspan font-size="6.1" dy="-3.5">5</tspan></text>
<text transform="translate(492.9,121.9) scale(1,1.07)" font-size="10" text-anchor="middle">0</text>
<text transform="translate(539.23,121.9) scale(1,1.07)" font-size="10" text-anchor="middle">10</text>
<text transform="translate(585.55,121.9) scale(1,1.07)" font-size="10" text-anchor="middle">20</text>
<text transform="translate(631.88,121.9) scale(1,1.07)" font-size="10" text-anchor="middle">30</text>
<text transform="translate(678.2,121.9) scale(1,1.07)" font-size="10" text-anchor="middle">40</text>
<g clip-path="url(#clipd)">
<path d="M502.6,181.3 L527.9,186.3" stroke="#2e9a62" stroke-width="0.9" stroke-dasharray="3.5,2.5" fill="none"/>
<path d="M502.6,187.6 L536.7,193.9" stroke="#2a6ed8" stroke-width="0.9" stroke-dasharray="3.5,2.5" fill="none"/>
<path d="M543.8,203.6 L548,203.7" stroke="#444" stroke-width="0.9" fill="none"/>
<rect x="495.3" y="154.5" width="5.4" height="5.4" fill="#cf9d10" stroke="none" stroke-width="0.6" opacity="1"/>
<rect x="499.53" y="156.6" width="5.4" height="5.4" fill="#cf9d10" stroke="none" stroke-width="0.6" opacity="1"/>
<rect x="504.04" y="158.84" width="5.4" height="5.4" fill="#cf9d10" stroke="none" stroke-width="0.6" opacity="1"/>
<rect x="508.36" y="161.03" width="5.4" height="5.4" fill="#cf9d10" stroke="none" stroke-width="0.6" opacity="1"/>
<rect x="512.91" y="163.4" width="5.4" height="5.4" fill="#cf9d10" stroke="none" stroke-width="0.6" opacity="1"/>
<rect x="517.3" y="165.73" width="5.4" height="5.4" fill="#cf9d10" stroke="none" stroke-width="0.6" opacity="1"/>
<rect x="521.79" y="168.11" width="5.4" height="5.4" fill="#cf9d10" stroke="none" stroke-width="0.6" opacity="1"/>
<rect x="526.13" y="170.32" width="5.4" height="5.4" fill="#cf9d10" stroke="none" stroke-width="0.6" opacity="1"/>
<rect x="530.68" y="172.52" width="5.4" height="5.4" fill="#cf9d10" stroke="none" stroke-width="0.6" opacity="1"/>
<rect x="535" y="174.51" width="5.4" height="5.4" fill="#cf9d10" stroke="none" stroke-width="0.6" opacity="1"/>
<rect x="539.76" y="176.58" width="5.4" height="5.4" fill="#cf9d10" stroke="none" stroke-width="0.6" opacity="1"/>
<rect x="544.58" y="178.52" width="5.4" height="5.4" fill="#cf9d10" stroke="none" stroke-width="0.6" opacity="1"/>
<rect x="549.47" y="180.29" width="5.4" height="5.4" fill="#cf9d10" stroke="none" stroke-width="0.6" opacity="1"/>
<rect x="554.37" y="181.93" width="5.4" height="5.4" fill="#cf9d10" stroke="none" stroke-width="0.6" opacity="1"/>
<rect x="559.26" y="183.52" width="5.4" height="5.4" fill="#cf9d10" stroke="none" stroke-width="0.6" opacity="1"/>
<rect x="563.99" y="185.08" width="5.4" height="5.4" fill="#cf9d10" stroke="none" stroke-width="0.6" opacity="1"/>
<rect x="568.63" y="186.57" width="5.4" height="5.4" fill="#cf9d10" stroke="none" stroke-width="0.6" opacity="1"/>
<rect x="573.59" y="188.09" width="5.4" height="5.4" fill="#cf9d10" stroke="none" stroke-width="0.6" opacity="1"/>
<rect x="578.57" y="189.5" width="5.4" height="5.4" fill="#cf9d10" stroke="none" stroke-width="0.6" opacity="1"/>
<rect x="583.34" y="190.67" width="5.4" height="5.4" fill="#cf9d10" stroke="none" stroke-width="0.6" opacity="1"/>
<rect x="588.38" y="191.9" width="5.4" height="5.4" fill="#cf9d10" stroke="none" stroke-width="0.6" opacity="1"/>
<rect x="593.56" y="193.31" width="5.4" height="5.4" fill="#cf9d10" stroke="none" stroke-width="0.6" opacity="1"/>
<rect x="598.05" y="194.76" width="5.4" height="5.4" fill="#cf9d10" stroke="none" stroke-width="0.6" opacity="1"/>
<rect x="602.63" y="196.42" width="5.4" height="5.4" fill="#cf9d10" stroke="none" stroke-width="0.6" opacity="1"/>
<rect x="607.34" y="198.24" width="5.4" height="5.4" fill="#cf9d10" stroke="none" stroke-width="0.6" opacity="1"/>
<rect x="612.1" y="200.22" width="5.4" height="5.4" fill="#cf9d10" stroke="none" stroke-width="0.6" opacity="1"/>
<rect x="616.86" y="202.38" width="5.4" height="5.4" fill="#cf9d10" stroke="none" stroke-width="0.6" opacity="1"/>
<rect x="621.58" y="204.7" width="5.4" height="5.4" fill="#cf9d10" stroke="none" stroke-width="0.6" opacity="1"/>
<rect x="626.26" y="207.27" width="5.4" height="5.4" fill="#cf9d10" stroke="none" stroke-width="0.6" opacity="1"/>
<rect x="630.94" y="210.06" width="5.4" height="5.4" fill="#cf9d10" stroke="none" stroke-width="0.6" opacity="1"/>
<rect x="635.62" y="212.97" width="5.4" height="5.4" fill="#cf9d10" stroke="none" stroke-width="0.6" opacity="1"/>
<rect x="640.3" y="215.91" width="5.4" height="5.4" fill="#cf9d10" stroke="none" stroke-width="0.6" opacity="1"/>
<rect x="644.99" y="218.78" width="5.4" height="5.4" fill="#cf9d10" stroke="none" stroke-width="0.6" opacity="1"/>
<rect x="649.14" y="221.29" width="5.4" height="5.4" fill="#cf9d10" stroke="none" stroke-width="0.6" opacity="1"/>
<rect x="653.46" y="223.91" width="5.4" height="5.4" fill="#cf9d10" stroke="none" stroke-width="0.6" opacity="1"/>
<rect x="657.74" y="226.52" width="5.4" height="5.4" fill="#cf9d10" stroke="none" stroke-width="0.6" opacity="1"/>
<rect x="661.77" y="228.96" width="5.4" height="5.4" fill="#cf9d10" stroke="none" stroke-width="0.6" opacity="1"/>
<rect x="665.97" y="231.48" width="5.4" height="5.4" fill="#cf9d10" stroke="none" stroke-width="0.6" opacity="1"/>
<rect x="670.05" y="233.84" width="5.4" height="5.4" fill="#cf9d10" stroke="none" stroke-width="0.6" opacity="1"/>
<rect x="674.34" y="236.05" width="5.4" height="5.4" fill="#cf9d10" stroke="none" stroke-width="0.6" opacity="1"/>
<path d="M498,157.2 L498.64,157.52 L499.42,157.91 L500.33,158.36 L501.35,158.86 L502.46,159.41 L503.65,160 L504.9,160.62 L506.21,161.27 L507.54,161.94 L508.9,162.63 L510.26,163.31 L511.6,164 L512.97,164.71 L514.41,165.47 L515.91,166.26 L517.46,167.08 L519.04,167.92 L520.64,168.78 L522.25,169.63 L523.85,170.47 L525.44,171.3 L527.01,172.11 L528.53,172.88 L530,173.6 L531.43,174.29 L532.83,174.96 L534.2,175.61 L535.56,176.24 L536.9,176.85 L538.23,177.45 L539.55,178.03 L540.87,178.61 L542.19,179.17 L543.52,179.72 L544.85,180.26 L546.2,180.8 L547.56,181.32 L548.91,181.83 L550.27,182.32 L551.63,182.8 L552.99,183.27 L554.35,183.73 L555.71,184.18 L557.07,184.63 L558.43,185.07 L559.79,185.51 L561.14,185.96 L562.5,186.4 L563.84,186.84 L565.15,187.27 L566.44,187.7 L567.72,188.11 L569,188.53 L570.29,188.94 L571.59,189.36 L572.93,189.77 L574.29,190.19 L575.71,190.62 L577.17,191.06 L578.7,191.5 L580.29,191.94 L581.93,192.37 L583.61,192.79 L585.34,193.2 L587.1,193.62 L588.89,194.06 L590.71,194.5 L592.55,194.97 L594.4,195.47 L596.26,196.01 L598.13,196.58 L600,197.2 L601.88,197.86 L603.79,198.55 L605.72,199.26 L607.67,200.01 L609.64,200.78 L611.62,201.58 L613.6,202.41 L615.59,203.27 L617.58,204.16 L619.56,205.08 L621.54,206.02 L623.5,207 L625.45,208.02 L627.4,209.09 L629.35,210.2 L631.3,211.35 L633.25,212.53 L635.2,213.72 L637.15,214.94 L639.1,216.16 L641.05,217.39 L643,218.61 L644.95,219.81 L646.9,221 L648.9,222.21 L650.99,223.47 L653.13,224.77 L655.29,226.09 L657.46,227.4 L659.6,228.71 L661.69,229.98 L663.7,231.19 L665.6,232.34 L667.37,233.4 L668.98,234.36 L670.4,235.2 L671.65,235.92 L672.75,236.54 L673.72,237.07 L674.57,237.53 L675.32,237.91 L675.97,238.24 L676.54,238.51 L677.04,238.75 L677.49,238.96 L677.88,239.15 L678.25,239.32 L678.6,239.5" fill="none" stroke="#8a6a10" stroke-width="0.8" stroke-dasharray="3,2" stroke-opacity="1" stroke-linejoin="round" />
<path d="M536.5,195.6 L537.34,195.66 L538.37,195.74 L539.57,195.82 L540.9,195.92 L542.37,196.02 L543.93,196.14 L545.58,196.26 L547.3,196.39 L549.06,196.53 L550.84,196.68 L552.63,196.84 L554.4,197 L556.21,197.17 L558.11,197.34 L560.1,197.52 L562.14,197.71 L564.22,197.91 L566.34,198.11 L568.46,198.33 L570.59,198.56 L572.69,198.8 L574.75,199.05 L576.76,199.32 L578.7,199.6 L580.57,199.89 L582.4,200.17 L584.18,200.46 L585.94,200.75 L587.68,201.05 L589.4,201.37 L591.12,201.72 L592.85,202.1 L594.59,202.51 L596.36,202.96 L598.16,203.45 L600,204 L601.88,204.6 L603.79,205.24 L605.72,205.92 L607.67,206.64 L609.64,207.39 L611.62,208.18 L613.6,208.99 L615.59,209.83 L617.58,210.69 L619.56,211.58 L621.54,212.48 L623.5,213.4 L625.45,214.34 L627.4,215.32 L629.35,216.33 L631.3,217.37 L633.25,218.43 L635.2,219.51 L637.15,220.6 L639.1,221.71 L641.05,222.83 L643,223.95 L644.95,225.08 L646.9,226.2 L648.9,227.36 L650.99,228.58 L653.13,229.85 L655.29,231.15 L657.46,232.46 L659.6,233.76 L661.69,235.03 L663.7,236.25 L665.6,237.41 L667.37,238.48 L668.98,239.45 L670.4,240.3 L671.65,241.04 L672.75,241.68 L673.72,242.25 L674.57,242.74 L675.32,243.16 L675.97,243.53 L676.54,243.85 L677.04,244.13 L677.49,244.38 L677.88,244.6 L678.25,244.8 L678.6,245" fill="none" stroke="#2a6ed8" stroke-width="1.6" stroke-opacity="1" stroke-linejoin="round" />
<path d="M536.5,192.74 L539.1,197.68 L533.9,197.68 Z" fill="#2a6ed8" stroke="none" stroke-width="0.6" opacity="1"/>
<path d="M540.9,193.06 L543.5,198 L538.3,198 Z" fill="#2a6ed8" stroke="none" stroke-width="0.6" opacity="1"/>
<path d="M545.92,193.43 L548.52,198.37 L543.32,198.37 Z" fill="#2a6ed8" stroke="none" stroke-width="0.6" opacity="1"/>
<path d="M550.84,193.82 L553.44,198.76 L548.24,198.76 Z" fill="#2a6ed8" stroke="none" stroke-width="0.6" opacity="1"/>
<path d="M555.84,194.27 L558.44,199.21 L553.24,199.21 Z" fill="#2a6ed8" stroke="none" stroke-width="0.6" opacity="1"/>
<path d="M560.5,194.7 L563.1,199.64 L557.9,199.64 Z" fill="#2a6ed8" stroke="none" stroke-width="0.6" opacity="1"/>
<path d="M565.49,195.17 L568.09,200.11 L562.89,200.11 Z" fill="#2a6ed8" stroke="none" stroke-width="0.6" opacity="1"/>
<path d="M570.59,195.7 L573.19,200.64 L567.99,200.64 Z" fill="#2a6ed8" stroke="none" stroke-width="0.6" opacity="1"/>
<path d="M575.56,196.29 L578.16,201.23 L572.96,201.23 Z" fill="#2a6ed8" stroke="none" stroke-width="0.6" opacity="1"/>
<path d="M580.2,196.97 L582.8,201.91 L577.6,201.91 Z" fill="#2a6ed8" stroke="none" stroke-width="0.6" opacity="1"/>
<path d="M585.24,197.77 L587.84,202.71 L582.64,202.71 Z" fill="#2a6ed8" stroke="none" stroke-width="0.6" opacity="1"/>
<path d="M590.09,198.65 L592.69,203.59 L587.49,203.59 Z" fill="#2a6ed8" stroke="none" stroke-width="0.6" opacity="1"/>
<path d="M594.94,199.73 L597.54,204.67 L592.34,204.67 Z" fill="#2a6ed8" stroke="none" stroke-width="0.6" opacity="1"/>
<path d="M599.26,200.91 L601.86,205.85 L596.66,205.85 Z" fill="#2a6ed8" stroke="none" stroke-width="0.6" opacity="1"/>
<path d="M603.79,202.38 L606.39,207.32 L601.19,207.32 Z" fill="#2a6ed8" stroke="none" stroke-width="0.6" opacity="1"/>
<path d="M608.46,204.07 L611.06,209.01 L605.86,209.01 Z" fill="#2a6ed8" stroke="none" stroke-width="0.6" opacity="1"/>
<path d="M613.21,205.96 L615.81,210.9 L610.61,210.9 Z" fill="#2a6ed8" stroke="none" stroke-width="0.6" opacity="1"/>
<path d="M617.98,208.01 L620.58,212.95 L615.38,212.95 Z" fill="#2a6ed8" stroke="none" stroke-width="0.6" opacity="1"/>
<path d="M622.72,210.17 L625.32,215.11 L620.12,215.11 Z" fill="#2a6ed8" stroke="none" stroke-width="0.6" opacity="1"/>
<path d="M627.4,212.46 L630,217.4 L624.8,217.4 Z" fill="#2a6ed8" stroke="none" stroke-width="0.6" opacity="1"/>
<path d="M631.3,214.51 L633.9,219.45 L628.7,219.45 Z" fill="#2a6ed8" stroke="none" stroke-width="0.6" opacity="1"/>
<path d="M635.2,216.65 L637.8,221.59 L632.6,221.59 Z" fill="#2a6ed8" stroke="none" stroke-width="0.6" opacity="1"/>
<path d="M639.1,218.85 L641.7,223.79 L636.5,223.79 Z" fill="#2a6ed8" stroke="none" stroke-width="0.6" opacity="1"/>
<path d="M643,221.09 L645.6,226.03 L640.4,226.03 Z" fill="#2a6ed8" stroke="none" stroke-width="0.6" opacity="1"/>
<path d="M646.9,223.34 L649.5,228.28 L644.3,228.28 Z" fill="#2a6ed8" stroke="none" stroke-width="0.6" opacity="1"/>
<path d="M650.99,225.72 L653.59,230.66 L648.39,230.66 Z" fill="#2a6ed8" stroke="none" stroke-width="0.6" opacity="1"/>
<path d="M655.29,228.29 L657.89,233.23 L652.69,233.23 Z" fill="#2a6ed8" stroke="none" stroke-width="0.6" opacity="1"/>
<path d="M659.6,230.9 L662.2,235.84 L657,235.84 Z" fill="#2a6ed8" stroke="none" stroke-width="0.6" opacity="1"/>
<path d="M663.7,233.39 L666.3,238.33 L661.1,238.33 Z" fill="#2a6ed8" stroke="none" stroke-width="0.6" opacity="1"/>
<path d="M668.03,236.02 L670.63,240.96 L665.43,240.96 Z" fill="#2a6ed8" stroke="none" stroke-width="0.6" opacity="1"/>
<path d="M671.88,238.31 L674.48,243.25 L669.28,243.25 Z" fill="#2a6ed8" stroke="none" stroke-width="0.6" opacity="1"/>
<path d="M675.72,240.53 L678.32,245.47 L673.12,245.47 Z" fill="#2a6ed8" stroke="none" stroke-width="0.6" opacity="1"/>
<circle cx="529" cy="187.6" r="2.8" fill="#34ac6c" stroke="none" stroke-width="0.6" opacity="1"/>
<circle cx="533.93" cy="188.56" r="2.8" fill="#34ac6c" stroke="none" stroke-width="0.6" opacity="1"/>
<circle cx="538.68" cy="189.44" r="2.8" fill="#34ac6c" stroke="none" stroke-width="0.6" opacity="1"/>
<circle cx="543.4" cy="190.2" r="2.8" fill="#34ac6c" stroke="none" stroke-width="0.6" opacity="1"/>
<circle cx="548.36" cy="190.83" r="2.8" fill="#34ac6c" stroke="none" stroke-width="0.6" opacity="1"/>
<circle cx="553.2" cy="191.44" r="2.8" fill="#34ac6c" stroke="none" stroke-width="0.6" opacity="1"/>
<circle cx="557.83" cy="192.04" r="2.8" fill="#34ac6c" stroke="none" stroke-width="0.6" opacity="1"/>
<circle cx="562.61" cy="192.63" r="2.8" fill="#34ac6c" stroke="none" stroke-width="0.6" opacity="1"/>
<circle cx="567.78" cy="193.28" r="2.8" fill="#34ac6c" stroke="none" stroke-width="0.6" opacity="1"/>
<circle cx="573" cy="194.02" r="2.8" fill="#34ac6c" stroke="none" stroke-width="0.6" opacity="1"/>
<circle cx="577.93" cy="194.85" r="2.8" fill="#34ac6c" stroke="none" stroke-width="0.6" opacity="1"/>
<circle cx="583.12" cy="195.9" r="2.8" fill="#34ac6c" stroke="none" stroke-width="0.6" opacity="1"/>
<circle cx="588.02" cy="197.02" r="2.8" fill="#34ac6c" stroke="none" stroke-width="0.6" opacity="1"/>
<circle cx="592.85" cy="198.3" r="2.8" fill="#34ac6c" stroke="none" stroke-width="0.6" opacity="1"/>
<circle cx="597.79" cy="199.84" r="2.8" fill="#34ac6c" stroke="none" stroke-width="0.6" opacity="1"/>
<circle cx="602.26" cy="201.43" r="2.8" fill="#34ac6c" stroke="none" stroke-width="0.6" opacity="1"/>
<circle cx="606.89" cy="203.28" r="2.8" fill="#34ac6c" stroke="none" stroke-width="0.6" opacity="1"/>
<circle cx="611.62" cy="205.32" r="2.8" fill="#34ac6c" stroke="none" stroke-width="0.6" opacity="1"/>
<circle cx="616.39" cy="207.52" r="2.8" fill="#34ac6c" stroke="none" stroke-width="0.6" opacity="1"/>
<circle cx="621.14" cy="209.82" r="2.8" fill="#34ac6c" stroke="none" stroke-width="0.6" opacity="1"/>
<circle cx="625.84" cy="212.2" r="2.8" fill="#34ac6c" stroke="none" stroke-width="0.6" opacity="1"/>
<circle cx="630.52" cy="214.73" r="2.8" fill="#34ac6c" stroke="none" stroke-width="0.6" opacity="1"/>
<circle cx="635.2" cy="217.37" r="2.8" fill="#34ac6c" stroke="none" stroke-width="0.6" opacity="1"/>
<circle cx="639.88" cy="220.09" r="2.8" fill="#34ac6c" stroke="none" stroke-width="0.6" opacity="1"/>
<circle cx="644.56" cy="222.83" r="2.8" fill="#34ac6c" stroke="none" stroke-width="0.6" opacity="1"/>
<circle cx="649.31" cy="225.62" r="2.8" fill="#34ac6c" stroke="none" stroke-width="0.6" opacity="1"/>
<circle cx="653.56" cy="228.15" r="2.8" fill="#34ac6c" stroke="none" stroke-width="0.6" opacity="1"/>
<circle cx="657.89" cy="230.76" r="2.8" fill="#34ac6c" stroke="none" stroke-width="0.6" opacity="1"/>
<circle cx="662.1" cy="233.31" r="2.8" fill="#34ac6c" stroke="none" stroke-width="0.6" opacity="1"/>
<circle cx="666.68" cy="236.08" r="2.8" fill="#34ac6c" stroke="none" stroke-width="0.6" opacity="1"/>
<circle cx="670.92" cy="238.6" r="2.8" fill="#34ac6c" stroke="none" stroke-width="0.6" opacity="1"/>
<circle cx="675.18" cy="241.01" r="2.8" fill="#34ac6c" stroke="none" stroke-width="0.6" opacity="1"/>
<path d="M529,187.6 L529.6,187.71 L530.34,187.86 L531.21,188.03 L532.19,188.22 L533.26,188.43 L534.39,188.64 L535.56,188.87 L536.76,189.09 L537.97,189.31 L539.16,189.52 L540.31,189.72 L541.4,189.9 L542.43,190.06 L543.4,190.2 L544.34,190.33 L545.27,190.45 L546.2,190.56 L547.16,190.68 L548.15,190.8 L549.21,190.93 L550.34,191.07 L551.57,191.23 L552.92,191.4 L554.4,191.6 L556.04,191.82 L557.83,192.04 L559.75,192.28 L561.77,192.53 L563.88,192.78 L566.03,193.06 L568.22,193.34 L570.4,193.64 L572.57,193.96 L574.69,194.29 L576.74,194.63 L578.7,195 L580.57,195.37 L582.4,195.75 L584.18,196.13 L585.94,196.53 L587.68,196.93 L589.4,197.36 L591.12,197.81 L592.85,198.3 L594.59,198.81 L596.36,199.36 L598.16,199.96 L600,200.6 L601.88,201.29 L603.79,202.02 L605.72,202.8 L607.67,203.61 L609.64,204.45 L611.62,205.32 L613.6,206.23 L615.59,207.15 L617.58,208.09 L619.56,209.05 L621.54,210.02 L623.5,211 L625.45,212 L627.4,213.03 L629.35,214.08 L631.3,215.16 L633.25,216.26 L635.2,217.37 L637.15,218.49 L639.1,219.63 L641.05,220.77 L643,221.92 L644.95,223.06 L646.9,224.2 L648.9,225.37 L650.99,226.61 L653.13,227.89 L655.29,229.19 L657.46,230.5 L659.6,231.79 L661.69,233.06 L663.7,234.28 L665.6,235.43 L667.37,236.5 L668.98,237.46 L670.4,238.3 L671.65,239.03 L672.75,239.66 L673.72,240.21 L674.57,240.68 L675.32,241.08 L675.97,241.43 L676.54,241.73 L677.04,241.99 L677.49,242.22 L677.88,242.42 L678.25,242.61 L678.6,242.8" fill="none" stroke="#1f7a4a" stroke-width="0.8" stroke-dasharray="3,2" stroke-opacity="1" stroke-linejoin="round" />
<path d="M552.7,201.8 L555.2,204.3 L552.7,206.8 L550.2,204.3 Z" fill="#4a4a4a" stroke="none" stroke-width="0.6" opacity="1"/>
<path d="M557.89,202.04 L560.39,204.54 L557.89,207.04 L555.39,204.54 Z" fill="#4a4a4a" stroke="none" stroke-width="0.6" opacity="1"/>
<path d="M562.41,202.24 L564.91,204.74 L562.41,207.24 L559.91,204.74 Z" fill="#4a4a4a" stroke="none" stroke-width="0.6" opacity="1"/>
<path d="M567.39,202.47 L569.89,204.97 L567.39,207.47 L564.89,204.97 Z" fill="#4a4a4a" stroke="none" stroke-width="0.6" opacity="1"/>
<path d="M572.41,202.72 L574.91,205.22 L572.41,207.72 L569.91,205.22 Z" fill="#4a4a4a" stroke="none" stroke-width="0.6" opacity="1"/>
<path d="M577.05,202.99 L579.55,205.49 L577.05,207.99 L574.55,205.49 Z" fill="#4a4a4a" stroke="none" stroke-width="0.6" opacity="1"/>
<path d="M581.76,203.29 L584.26,205.79 L581.76,208.29 L579.26,205.79 Z" fill="#4a4a4a" stroke="none" stroke-width="0.6" opacity="1"/>
<path d="M586.76,203.53 L589.26,206.03 L586.76,208.53 L584.26,206.03 Z" fill="#4a4a4a" stroke="none" stroke-width="0.6" opacity="1"/>
<path d="M591.55,203.85 L594.05,206.35 L591.55,208.85 L589.05,206.35 Z" fill="#4a4a4a" stroke="none" stroke-width="0.6" opacity="1"/>
<path d="M596.38,204.42 L598.88,206.92 L596.38,209.42 L593.88,206.92 Z" fill="#4a4a4a" stroke="none" stroke-width="0.6" opacity="1"/>
<path d="M600.75,205.27 L603.25,207.77 L600.75,210.27 L598.25,207.77 Z" fill="#4a4a4a" stroke="none" stroke-width="0.6" opacity="1"/>
<path d="M605.33,206.42 L607.83,208.92 L605.33,211.42 L602.83,208.92 Z" fill="#4a4a4a" stroke="none" stroke-width="0.6" opacity="1"/>
<path d="M610.04,207.81 L612.54,210.31 L610.04,212.81 L607.54,210.31 Z" fill="#4a4a4a" stroke="none" stroke-width="0.6" opacity="1"/>
<path d="M614.8,209.43 L617.3,211.93 L614.8,214.43 L612.3,211.93 Z" fill="#4a4a4a" stroke="none" stroke-width="0.6" opacity="1"/>
<path d="M619.56,211.24 L622.06,213.74 L619.56,216.24 L617.06,213.74 Z" fill="#4a4a4a" stroke="none" stroke-width="0.6" opacity="1"/>
<path d="M624.28,213.25 L626.78,215.75 L624.28,218.25 L621.78,215.75 Z" fill="#4a4a4a" stroke="none" stroke-width="0.6" opacity="1"/>
<path d="M628.96,215.52 L631.46,218.02 L628.96,220.52 L626.46,218.02 Z" fill="#4a4a4a" stroke="none" stroke-width="0.6" opacity="1"/>
<path d="M632.86,217.6 L635.36,220.1 L632.86,222.6 L630.36,220.1 Z" fill="#4a4a4a" stroke="none" stroke-width="0.6" opacity="1"/>
<path d="M636.76,219.8 L639.26,222.3 L636.76,224.8 L634.26,222.3 Z" fill="#4a4a4a" stroke="none" stroke-width="0.6" opacity="1"/>
<path d="M640.66,222.07 L643.16,224.57 L640.66,227.07 L638.16,224.57 Z" fill="#4a4a4a" stroke="none" stroke-width="0.6" opacity="1"/>
<path d="M644.56,224.35 L647.06,226.85 L644.56,229.35 L642.06,226.85 Z" fill="#4a4a4a" stroke="none" stroke-width="0.6" opacity="1"/>
<path d="M648.5,226.62 L651,229.12 L648.5,231.62 L646,229.12 Z" fill="#4a4a4a" stroke="none" stroke-width="0.6" opacity="1"/>
<path d="M652.7,229.07 L655.2,231.57 L652.7,234.07 L650.2,231.57 Z" fill="#4a4a4a" stroke="none" stroke-width="0.6" opacity="1"/>
<path d="M657.03,231.63 L659.53,234.13 L657.03,236.63 L654.53,234.13 Z" fill="#4a4a4a" stroke="none" stroke-width="0.6" opacity="1"/>
<path d="M661.28,234.17 L663.78,236.67 L661.28,239.17 L658.78,236.67 Z" fill="#4a4a4a" stroke="none" stroke-width="0.6" opacity="1"/>
<path d="M665.23,236.56 L667.73,239.06 L665.23,241.56 L662.73,239.06 Z" fill="#4a4a4a" stroke="none" stroke-width="0.6" opacity="1"/>
<path d="M669.28,239.02 L671.78,241.52 L669.28,244.02 L666.78,241.52 Z" fill="#4a4a4a" stroke="none" stroke-width="0.6" opacity="1"/>
<path d="M673.15,241.4 L675.65,243.9 L673.15,246.4 L670.65,243.9 Z" fill="#4a4a4a" stroke="none" stroke-width="0.6" opacity="1"/>
<path d="M676.85,243.82 L679.35,246.32 L676.85,248.82 L674.35,246.32 Z" fill="#4a4a4a" stroke="none" stroke-width="0.6" opacity="1"/>
<path d="M552.7,204.3 L553.97,204.36 L555.58,204.43 L557.48,204.52 L559.61,204.61 L561.93,204.71 L564.37,204.83 L566.88,204.94 L569.42,205.07 L571.92,205.2 L574.34,205.33 L576.62,205.46 L578.7,205.6 L580.63,205.72 L582.5,205.83 L584.3,205.91 L586.07,206 L587.8,206.09 L589.51,206.19 L591.21,206.32 L592.91,206.48 L594.63,206.68 L596.38,206.92 L598.16,207.23 L600,207.6 L601.88,208.03 L603.79,208.51 L605.72,209.03 L607.67,209.59 L609.64,210.19 L611.62,210.83 L613.6,211.5 L615.59,212.21 L617.58,212.96 L619.56,213.74 L621.54,214.56 L623.5,215.4 L625.45,216.29 L627.4,217.23 L629.35,218.22 L631.3,219.25 L633.25,220.32 L635.2,221.41 L637.15,222.53 L639.1,223.66 L641.05,224.8 L643,225.94 L644.95,227.08 L646.9,228.2 L648.9,229.35 L650.99,230.56 L653.13,231.82 L655.29,233.1 L657.46,234.39 L659.6,235.67 L661.69,236.92 L663.7,238.13 L665.6,239.28 L667.37,240.36 L668.98,241.33 L670.4,242.2 L671.65,242.96 L672.75,243.65 L673.72,244.26 L674.57,244.81 L675.32,245.29 L675.97,245.72 L676.54,246.11 L677.04,246.45 L677.49,246.75 L677.88,247.02 L678.25,247.27 L678.6,247.5" fill="none" stroke="#333" stroke-width="0.8" stroke-dasharray="3,2" stroke-opacity="1" stroke-linejoin="round" />
</g>
<path d="M509.6,174 V195.5" stroke="#c8102e" stroke-width="1.8" fill="none"/>
<path d="M506.4,194.2 L512.8,194.2 L509.6,200.5 Z" fill="#c8102e"/>
<rect x="493.2" y="139.4" width="185.4" height="107.9" fill="none" stroke="#222" stroke-width="1"/>
<path d="M493.2,236.5h-2.6 M493.2,208.8h-2.6 M493.2,181.1h-2.6 M493.2,153.4h-2.6 M493.2,244.84h-1.5 M493.2,242.65h-1.5 M493.2,240.79h-1.5 M493.2,239.18h-1.5 M493.2,237.77h-1.5 M493.2,228.16h-1.5 M493.2,223.28h-1.5 M493.2,219.82h-1.5 M493.2,217.14h-1.5 M493.2,214.95h-1.5 M493.2,213.09h-1.5 M493.2,211.48h-1.5 M493.2,210.07h-1.5 M493.2,200.46h-1.5 M493.2,195.58h-1.5 M493.2,192.12h-1.5 M493.2,189.44h-1.5 M493.2,187.25h-1.5 M493.2,185.39h-1.5 M493.2,183.78h-1.5 M493.2,182.37h-1.5 M493.2,172.76h-1.5 M493.2,167.88h-1.5 M493.2,164.42h-1.5 M493.2,161.74h-1.5 M493.2,159.55h-1.5 M493.2,157.69h-1.5 M493.2,156.08h-1.5 M493.2,154.67h-1.5 M493.2,145.06h-1.5 M493.2,140.18h-1.5 M493.2,247.3v2.6 M504.36,247.3v1.5 M510.89,247.3v1.5 M515.52,247.3v1.5 M519.12,247.3v1.5 M522.05,247.3v1.5 M524.54,247.3v1.5 M526.69,247.3v1.5 M528.58,247.3v1.5 M530.28,247.3v2.6 M541.44,247.3v1.5 M547.97,247.3v1.5 M552.6,247.3v1.5 M556.2,247.3v1.5 M559.13,247.3v1.5 M561.62,247.3v1.5 M563.77,247.3v1.5 M565.66,247.3v1.5 M567.36,247.3v2.6 M578.52,247.3v1.5 M585.05,247.3v1.5 M589.68,247.3v1.5 M593.28,247.3v1.5 M596.21,247.3v1.5 M598.7,247.3v1.5 M600.85,247.3v1.5 M602.74,247.3v1.5 M604.44,247.3v2.6 M615.6,247.3v1.5 M622.13,247.3v1.5 M626.76,247.3v1.5 M630.36,247.3v1.5 M633.29,247.3v1.5 M635.78,247.3v1.5 M637.93,247.3v1.5 M639.82,247.3v1.5 M641.52,247.3v2.6 M652.68,247.3v1.5 M659.21,247.3v1.5 M663.84,247.3v1.5 M667.44,247.3v1.5 M670.37,247.3v1.5 M672.86,247.3v1.5 M675.01,247.3v1.5 M676.9,247.3v1.5 M678.6,247.3v2.6" stroke="#222" stroke-width="0.7" fill="none"/>
<text transform="translate(488.6,240.9) scale(1,1.08)" font-size="9.0" text-anchor="end">10<tspan font-size="6.1" dy="-3.5">7</tspan></text>
<text transform="translate(488.6,213.2) scale(1,1.08)" font-size="9.0" text-anchor="end">10<tspan font-size="6.1" dy="-3.5">8</tspan></text>
<text transform="translate(488.6,185.5) scale(1,1.08)" font-size="9.0" text-anchor="end">10<tspan font-size="6.1" dy="-3.5">9</tspan></text>
<text transform="translate(488.6,157.8) scale(1,1.08)" font-size="9.0" text-anchor="end">10<tspan font-size="6.1" dy="-3.5">10</tspan></text>
<text transform="translate(493.5,261.1) scale(1,1.06)" font-size="8.7" text-anchor="middle">10<tspan font-size="5.6" dy="-3.2">-5</tspan></text>
<text transform="translate(530.58,261.1) scale(1,1.06)" font-size="8.7" text-anchor="middle">10<tspan font-size="5.6" dy="-3.2">-4</tspan></text>
<text transform="translate(567.66,261.1) scale(1,1.06)" font-size="8.7" text-anchor="middle">10<tspan font-size="5.6" dy="-3.2">-3</tspan></text>
<text transform="translate(604.74,261.1) scale(1,1.06)" font-size="8.7" text-anchor="middle">10<tspan font-size="5.6" dy="-3.2">-2</tspan></text>
<text transform="translate(641.82,261.1) scale(1,1.06)" font-size="8.7" text-anchor="middle">10<tspan font-size="5.6" dy="-3.2">-1</tspan></text>
<text transform="translate(678.9,261.1) scale(1,1.06)" font-size="8.7" text-anchor="middle">10<tspan font-size="5.6" dy="-3.2">0</tspan></text>
<text x="89.30" y="20.24" font-size="9.60" font-weight="bold" fill="#d4a01e" stroke="#d4a01e" stroke-width="0.3" textLength="62.38" lengthAdjust="spacingAndGlyphs">Ph-SiO<tspan font-style="italic" font-weight="normal" stroke-width="0" font-size="7.49" dy="2.3">x</tspan><tspan dy="-2.3"> PNCs</tspan></text>
<text x="67.69" y="62.87" font-size="8.70" font-weight="bold" fill="#7c5e0c" stroke="#7c5e0c" stroke-width="0.3" textLength="31.12" lengthAdjust="spacingAndGlyphs">19 vol%</text>
<text x="83.34" y="92.84" font-size="8.70" font-weight="bold" fill="#c09318" stroke="#c09318" stroke-width="0.3" textLength="27.52" lengthAdjust="spacingAndGlyphs">8 vol%</text>
<text x="92.50" y="119.36" font-size="8.70" font-weight="bold" fill="#f7c94e" stroke="#f7c94e" stroke-width="0.3" textLength="26.53" lengthAdjust="spacingAndGlyphs">3 vol%</text>
<text x="137.71" y="41.17" font-size="8.10" font-weight="normal" fill="#7c5e0c" textLength="22.35" lengthAdjust="spacingAndGlyphs">x 1000</text>
<text x="154.91" y="68.26" font-size="8.10" font-weight="normal" fill="#c89a20" textLength="18.22" lengthAdjust="spacingAndGlyphs">x 100</text>
<text x="168.70" y="95.60" font-size="8.10" font-weight="normal" fill="#e8b838" textLength="14.07" lengthAdjust="spacingAndGlyphs">x 10</text>
<text x="105.62" y="187.18" font-size="12.40" font-weight="normal" fill="#5a5a5a" textLength="15.43" lengthAdjust="spacingAndGlyphs">PS</text>
<text x="41.63" y="72.37" font-size="11.80" font-weight="normal" fill="#000" textLength="18.48" lengthAdjust="spacingAndGlyphs"><tspan font-style="italic">G</tspan><tspan font-size="8.5" dy="4.2">ter</tspan></text>
<text x="217.32" y="149.64" font-size="12.50" font-weight="normal" fill="#000" textLength="13.68" lengthAdjust="spacingAndGlyphs"><tspan font-style="italic">G</tspan><tspan font-size="9.0" dy="3.4">e</tspan></text>
<text x="44.77" y="208.66" font-size="9.60" font-weight="bold" fill="#000" stroke="#000" stroke-width="0.3">1</text>
<text x="88.35" y="230.42" font-size="9.60" font-weight="bold" fill="#000" stroke="#000" stroke-width="0.3">2</text>
<text x="1.06" y="9.35" font-size="11.20" font-weight="bold" fill="#000" stroke="#000" stroke-width="0.3">a</text>
<text x="97.60" y="273.19" font-size="12.20" font-weight="normal" fill="#000" textLength="58.00" lengthAdjust="spacingAndGlyphs"><tspan font-style="italic">a</tspan><tspan font-style="italic" font-size="8.78" dy="3.3">T</tspan><tspan font-style="italic" dy="-3.3">ω</tspan> [rad/s]</text>
<text transform="translate(8.90,167.69) rotate(-90)" font-size="10.90" font-weight="normal" fill="#000" textLength="86.66" lengthAdjust="spacingAndGlyphs"><tspan font-style="italic">b</tspan><tspan font-style="italic" font-size="7.85" dy="2.4">T</tspan><tspan font-style="italic" dy="-2.4">G'</tspan>, <tspan font-style="italic">b</tspan><tspan font-style="italic" font-size="7.85" dy="2.4">T</tspan><tspan font-style="italic" dy="-2.4">G''</tspan> [Pa]</text>
<text x="326.98" y="19.30" font-size="9.30" font-weight="bold" fill="#2b6fdc" stroke="#2b6fdc" stroke-width="0.3" textLength="45.91" lengthAdjust="spacingAndGlyphs">BL6-PNCs</text>
<text x="357.35" y="33.29" font-size="8.10" font-weight="normal" fill="#1f3a72" textLength="22.01" lengthAdjust="spacingAndGlyphs">x 1000</text>
<text x="381.08" y="60.54" font-size="8.10" font-weight="normal" fill="#1f4fa0" textLength="18.36" lengthAdjust="spacingAndGlyphs">x 100</text>
<text x="395.36" y="92.70" font-size="8.10" font-weight="normal" fill="#2a6cd6" textLength="14.13" lengthAdjust="spacingAndGlyphs">x 10</text>
<text x="271.16" y="70.99" font-size="8.70" font-weight="bold" fill="#1f4a90" stroke="#1f4a90" stroke-width="0.3" textLength="32.43" lengthAdjust="spacingAndGlyphs">20 vol%</text>
<text x="315.60" y="85.21" font-size="8.70" font-weight="bold" fill="#1f4fa0" stroke="#1f4fa0" stroke-width="0.3" textLength="32.16" lengthAdjust="spacingAndGlyphs">12 vol%</text>
<text x="319.24" y="146.74" font-size="8.70" font-weight="bold" fill="#2a6cd6" stroke="#2a6cd6" stroke-width="0.3" textLength="27.71" lengthAdjust="spacingAndGlyphs">6 vol%</text>
<text x="322.20" y="187.05" font-size="8.70" font-weight="bold" fill="#86b3ec" stroke="#86b3ec" stroke-width="0.3" textLength="27.90" lengthAdjust="spacingAndGlyphs">2 vol%</text>
<text x="315.98" y="230.33" font-size="9.60" font-weight="bold" fill="#000" stroke="#000" stroke-width="0.3">2</text>
<text x="228.40" y="9.69" font-size="11.00" font-weight="bold" fill="#000" stroke="#000" stroke-width="0.3">b</text>
<text x="323.72" y="273.19" font-size="12.20" font-weight="normal" fill="#000" textLength="57.67" lengthAdjust="spacingAndGlyphs"><tspan font-style="italic">a</tspan><tspan font-style="italic" font-size="8.78" dy="3.3">T</tspan><tspan font-style="italic" dy="-3.3">ω</tspan> [rad/s]</text>
<text x="549.12" y="21.30" font-size="10.00" font-weight="bold" fill="#2fae6a" stroke="#2fae6a" stroke-width="0.3" textLength="48.20" lengthAdjust="spacingAndGlyphs">BL3-PNCs</text>
<text x="605.64" y="47.27" font-size="9.60" font-weight="bold" fill="#d4a01e" stroke="#d4a01e" stroke-width="0.3" textLength="65.18" lengthAdjust="spacingAndGlyphs">Ph-SiO<tspan font-style="italic" font-weight="normal" stroke-width="0" font-size="7.49" dy="2.3">x</tspan><tspan dy="-2.3"> PNCs</tspan></text>
<text x="581.75" y="96.90" font-size="10.00" font-weight="bold" fill="#2a6ed8" stroke="#2a6ed8" stroke-width="0.3" textLength="48.46" lengthAdjust="spacingAndGlyphs">BL6-PNCs</text>
<text x="462.94" y="9.10" font-size="11.50" font-weight="bold" fill="#000" stroke="#000" stroke-width="0.3">c</text>
<text x="561.33" y="134.30" font-size="10.80" font-weight="normal" fill="#000" textLength="41.48" lengthAdjust="spacingAndGlyphs"><tspan font-style="italic">φ</tspan> [vol%]</text>
<text transform="translate(467.02,80.65) rotate(-90)" font-size="12.36" font-weight="normal" fill="#000" textLength="45.18" lengthAdjust="spacingAndGlyphs"><tspan font-style="italic">G</tspan><tspan font-size="8.9" dy="2.4">ter</tspan><tspan dy="-2.4"> [Pa]</tspan></text>
<text x="509.60" y="154.94" font-size="9.60" font-weight="bold" fill="#d4a01e" stroke="#d4a01e" stroke-width="0.3" textLength="65.04" lengthAdjust="spacingAndGlyphs">Ph-SiO<tspan font-style="italic" font-weight="normal" stroke-width="0" font-size="7.49" dy="2.3">x</tspan><tspan dy="-2.3"> PNCs</tspan></text>
<text x="567.30" y="178.40" font-size="10.00" font-weight="bold" fill="#34ac6c" stroke="#34ac6c" stroke-width="0.3" textLength="48.58" lengthAdjust="spacingAndGlyphs">BL3-PNCs</text>
<text x="625.71" y="199.80" font-size="10.00" font-weight="bold" fill="#2a6ed8" stroke="#2a6ed8" stroke-width="0.3" textLength="47.75" lengthAdjust="spacingAndGlyphs">BL6-PNCs</text>
<text x="625.44" y="237.00" font-size="10.40" font-weight="bold" fill="#555" stroke="#555" stroke-width="0.3" textLength="12.94" lengthAdjust="spacingAndGlyphs">PS</text>
<text x="612.98" y="151.27" font-size="8.80" font-weight="normal" fill="#000" textLength="62.78" lengthAdjust="spacingAndGlyphs"><tspan font-style="italic">φ</tspan> = 6 ~ 8 vol%</text>
<text x="500.08" y="213.79" font-size="8.80" font-weight="bold" fill="#c0101e" stroke="#c0101e" stroke-width="0.3" textLength="49.35" lengthAdjust="spacingAndGlyphs">Reduced by</text>
<text x="503.84" y="224.23" font-size="8.80" font-weight="bold" fill="#c0101e" stroke="#c0101e" stroke-width="0.3" textLength="42.65" lengthAdjust="spacingAndGlyphs">more than</text>
<text x="507.31" y="234.16" font-size="8.80" font-weight="bold" fill="#c0101e" stroke="#c0101e" stroke-width="0.3" textLength="34.95" lengthAdjust="spacingAndGlyphs">10 times</text>
<text x="462.05" y="147.43" font-size="11.00" font-weight="bold" fill="#000" stroke="#000" stroke-width="0.3">d</text>
<text x="558.73" y="272.32" font-size="12.20" font-weight="normal" fill="#000" textLength="55.44" lengthAdjust="spacingAndGlyphs"><tspan font-style="italic">a</tspan><tspan font-style="italic" font-size="8.78" dy="3.3">T</tspan><tspan font-style="italic" dy="-3.3">ω</tspan> [rad/s]</text>
<text transform="translate(463.65,223.67) rotate(-90)" font-size="10.79" font-weight="normal" fill="#000" textLength="62.73" lengthAdjust="spacingAndGlyphs">|<tspan font-style="italic">η</tspan>*| [Pa·s]</text>
</svg>
</body></html>
